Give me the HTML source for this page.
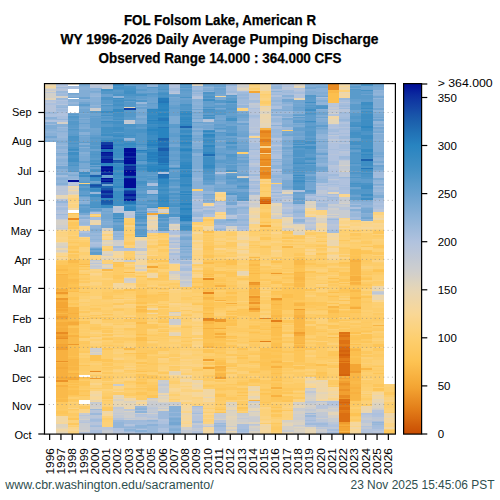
<!DOCTYPE html><html><head><meta charset="utf-8"><style>html,body{margin:0;padding:0;background:#fff;width:500px;height:500px;overflow:hidden}svg{display:block}text{font-family:"Liberation Sans",sans-serif}</style></head><body>
<svg width="500" height="500" viewBox="0 0 500 500">
<rect width="500" height="500" fill="#fff"/>
<g font-weight="bold" font-size="14.5" fill="#000" stroke="#000" stroke-width="0.25" text-anchor="middle">
<text x="220" y="25" textLength="192" lengthAdjust="spacingAndGlyphs">FOL Folsom Lake, American R</text>
<text x="219.5" y="44" textLength="318" lengthAdjust="spacingAndGlyphs">WY 1996-2026 Daily Average Pumping Discharge</text>
<text x="220" y="62.5" textLength="243" lengthAdjust="spacingAndGlyphs">Observed Range 14.000 : 364.000 CFS</text>
</g>
<g shape-rendering="crispEdges">
<path fill="#ce5807" d="M259.52 203h11.59v0.5h-11.59z"/>
<path fill="#d25f0b" d="M338.55 354h11.59v1.5h-11.59z"/>
<path fill="#d4630d" d="M259.52 200.5h11.59v1.5h-11.59zM338.55 350h11.59v2h-11.59zM338.55 374h11.59v2.17h-11.59zM338.55 402.06h11.59v1h-11.59z"/>
<path fill="#d7670e" d="M338.55 347.18h11.59v0.82h-11.59z"/>
<path fill="#d96b10" d="M338.55 348h11.59v2h-11.59zM338.55 352h11.59v2h-11.59zM338.55 355.5h11.59v2h-11.59zM338.55 360.5h11.59v1h-11.59zM338.55 363h11.59v11h-11.59z"/>
<path fill="#db6f12" d="M259.52 202h11.59v1h-11.59zM338.55 399.06h11.59v3h-11.59zM338.55 403.06h11.59v2h-11.59zM338.55 406.56h11.59v3h-11.59zM338.55 412.56h11.59v9.39h-11.59z"/>
<path fill="#dd7214" d="M259.52 199h11.59v1.5h-11.59zM338.55 332.18h11.59v1.5h-11.59zM338.55 334.68h11.59v2h-11.59zM338.55 339.68h11.59v4h-11.59zM338.55 345.68h11.59v1.5h-11.59z"/>
<path fill="#e17a17" d="M338.55 357.5h11.59v3h-11.59zM338.55 405.06h11.59v1.5h-11.59zM338.55 410.56h11.59v2h-11.59z"/>
<path fill="#e37e19" d="M259.52 139.4h11.59v3h-11.59zM259.52 340.63h11.59v1.26h-11.59zM270.81 320.3h11.59v1.8h-11.59zM338.55 333.68h11.59v1h-11.59zM338.55 343.68h11.59v2h-11.59zM338.55 409.56h11.59v1h-11.59z"/>
<path fill="#e4811b" d="M259.52 131.4h11.59v2h-11.59zM259.52 151.53h11.59v1.22h-11.59zM259.52 158.83h11.59v1h-11.59zM259.52 172h11.59v3h-11.59zM327.26 90h11.59v0.16h-11.59zM338.55 336.68h11.59v3h-11.59zM338.55 361.5h11.59v1.5h-11.59z"/>
<path fill="#e6841e" d="M203.06 292.4h11.59v1.8h-11.59zM203.06 317.6h11.59v2h-11.59zM259.52 149.53h11.59v2h-11.59zM259.52 317.96h11.59v1.44h-11.59z"/>
<path fill="#e78820" d="M56.29 338.99h11.59v0.2h-11.59z"/>
<path fill="#e88b22" d="M56.29 331.99h11.59v2h-11.59zM67.58 217.9h11.59v1.8h-11.59zM90.16 370.5h11.59v1.26h-11.59zM203.06 278h11.59v1.8h-11.59zM203.06 319.6h11.59v1h-11.59zM259.52 197.2h11.59v1.8h-11.59zM327.26 84h11.59v6h-11.59zM338.55 395.17h11.59v3h-11.59z"/>
<path fill="#ea8e24" d="M56.29 337.99h11.59v1h-11.59zM259.52 129.9h11.59v1.5h-11.59zM259.52 133.4h11.59v4h-11.59zM259.52 142.4h11.59v1.5h-11.59zM259.52 144.9h11.59v1.56h-11.59zM259.52 147.53h11.59v2h-11.59zM259.52 153.83h11.59v1h-11.59zM259.52 159.83h11.59v1.5h-11.59zM259.52 162.33h11.59v3.92h-11.59zM259.52 167.33h11.59v3h-11.59zM259.52 175h11.59v3h-11.59zM259.52 179h11.59v0.2h-11.59z"/>
<path fill="#eb9227" d="M56.29 360.6h11.59v1.8h-11.59zM56.29 380.4h11.59v1.8h-11.59zM203.06 320.6h11.59v0.6h-11.59zM248.23 281.6h11.59v1.5h-11.59zM338.55 382.67h11.59v2h-11.59zM338.55 389.17h11.59v2h-11.59z"/>
<path fill="#ed9529" d="M248.23 296h11.59v1.8h-11.59zM248.23 302.3h11.59v1.8h-11.59zM248.23 307.7h11.59v1.8h-11.59zM259.52 143.9h11.59v1h-11.59zM259.52 156.83h11.59v2h-11.59zM259.52 161.33h11.59v1h-11.59zM259.52 170.33h11.59v1.67h-11.59z"/>
<path fill="#ee992b" d="M56.29 292.4h11.59v1.8h-11.59zM56.29 297.8h11.59v1.8h-11.59zM56.29 335.99h11.59v2h-11.59zM67.58 343.69h11.59v1.8h-11.59zM90.16 377.7h11.59v1.26h-11.59zM214.35 319.4h11.59v2.7h-11.59zM248.23 283.1h11.59v2.1h-11.59zM259.52 137.4h11.59v2h-11.59zM259.52 154.83h11.59v2h-11.59zM270.81 273.14h11.59v1.26h-11.59zM270.81 298.16h11.59v1.44h-11.59zM338.55 384.67h11.59v1.5h-11.59zM338.55 398.17h11.59v0.89h-11.59z"/>
<path fill="#f09c2d" d="M259.52 178h11.59v1h-11.59zM338.55 421.94h11.59v2h-11.59zM349.84 370.85h11.59v1.5h-11.59z"/>
<path fill="#f19f30" d="M56.29 316.1h11.59v1.5h-11.59zM56.29 346.69h11.59v3.31h-11.59zM203.06 358.8h11.59v1.8h-11.59zM214.35 376.8h11.59v1.8h-11.59zM293.39 308.96h11.59v1.44h-11.59zM293.39 331.99h11.59v2.5h-11.59zM338.55 377.67h11.59v1h-11.59zM338.55 380.67h11.59v2h-11.59zM338.55 386.17h11.59v3h-11.59zM338.55 391.17h11.59v4h-11.59zM338.55 425.94h11.59v1h-11.59zM338.55 431.94h11.59v1.5h-11.59zM349.84 372.35h11.59v0.3h-11.59z"/>
<path fill="#f3a332" d="M56.29 306.6h11.59v1.5h-11.59zM56.29 333.99h11.59v2h-11.59zM56.29 344.19h11.59v1h-11.59z"/>
<path fill="#f4a634" d="M56.29 302.1h11.59v4.5h-11.59zM56.29 309.1h11.59v2h-11.59zM56.29 317.6h11.59v1h-11.59zM56.29 345.19h11.59v1.5h-11.59zM146.61 213.4h11.59v1.8h-11.59zM146.61 266.3h11.59v1.8h-11.59zM203.06 366.9h11.59v1.8h-11.59zM248.23 91.2h11.59v1.8h-11.59zM259.52 225.1h11.59v1.8h-11.59zM338.55 423.94h11.59v1h-11.59zM338.55 426.94h11.59v4h-11.59zM338.55 433.44h11.59v0.56h-11.59zM349.84 363.85h11.59v7h-11.59z"/>
<path fill="#f5a836" d="M56.29 376.9h11.59v2h-11.59zM67.58 376.7h11.59v3h-11.59zM248.23 297.8h11.59v3h-11.59z"/>
<path fill="#f5aa39" d="M56.29 367.4h11.59v1.5h-11.59zM67.58 322.1h11.59v3h-11.59zM67.58 372.8h11.59v0.4h-11.59zM293.39 334.49h11.59v1.1h-11.59zM338.55 378.67h11.59v2h-11.59z"/>
<path fill="#f6ad3b" d="M56.29 289.4h11.59v2h-11.59zM56.29 299.6h11.59v2.5h-11.59zM56.29 308.1h11.59v1h-11.59zM56.29 311.1h11.59v1.5h-11.59zM56.29 313.6h11.59v2.5h-11.59zM56.29 318.6h11.59v1.5h-11.59zM56.29 322.1h11.59v3.5h-11.59zM56.29 327.6h11.59v4.4h-11.59zM56.29 339.19h11.59v5h-11.59zM214.35 328.03h11.59v1.26h-11.59zM214.35 333.43h11.59v1.26h-11.59zM225.65 302.66h11.59v1.26h-11.59zM338.55 424.94h11.59v1h-11.59zM349.84 307.18h11.59v1.41h-11.59z"/>
<path fill="#f7af3e" d="M56.29 363.4h11.59v4h-11.59zM56.29 368.9h11.59v8h-11.59zM56.29 378.9h11.59v1.5h-11.59zM67.58 313.3h11.59v1h-11.59zM338.55 376.17h11.59v1.5h-11.59zM349.84 260h11.59v1.5h-11.59zM349.84 275.5h11.59v5h-11.59z"/>
<path fill="#f8b140" d="M56.29 325.6h11.59v2h-11.59zM56.29 350h11.59v10.6h-11.59zM56.29 385.2h11.59v1.5h-11.59zM67.58 335.1h11.59v2h-11.59zM67.58 373.2h11.59v1h-11.59zM214.35 285.2h11.59v1.8h-11.59zM214.35 299.96h11.59v1.44h-11.59zM214.35 366h11.59v2h-11.59zM248.23 285.2h11.59v2h-11.59zM248.23 289.2h11.59v6h-11.59zM248.23 300.8h11.59v1.5h-11.59zM248.23 305.6h11.59v2.1h-11.59zM248.23 309.5h11.59v2.7h-11.59zM248.23 400.2h11.59v1.08h-11.59zM259.52 128.1h11.59v1.8h-11.59zM270.81 366h11.59v1.8h-11.59zM270.81 387.24h11.59v1.26h-11.59zM270.81 395.16h11.59v1.44h-11.59zM293.39 315.4h11.59v3h-11.59zM293.39 347.09h11.59v0.91h-11.59zM349.84 282h11.59v1.5h-11.59zM349.84 387.15h11.59v2h-11.59zM349.84 392.15h11.59v2h-11.59z"/>
<path fill="#f8b342" d="M56.29 274.4h11.59v1h-11.59zM56.29 291.4h11.59v1h-11.59zM67.58 320.6h11.59v1.5h-11.59zM203.06 328.2h11.59v1h-11.59zM214.35 335.69h11.59v2h-11.59zM270.81 299.6h11.59v1.5h-11.59zM293.39 342.59h11.59v1.5h-11.59z"/>
<path fill="#f9b645" d="M56.29 294.2h11.59v1h-11.59zM56.29 320.1h11.59v2h-11.59zM56.29 362.4h11.59v1h-11.59zM67.58 306.8h11.59v6.5h-11.59zM67.58 314.3h11.59v3.3h-11.59zM67.58 358.8h11.59v7h-11.59zM67.58 366.8h11.59v3h-11.59zM67.58 374.2h11.59v1h-11.59zM67.58 379.7h11.59v0.7h-11.59zM203.06 321.2h11.59v3h-11.59zM214.35 368h11.59v3h-11.59zM214.35 372.5h11.59v4.3h-11.59zM270.81 327.1h11.59v1h-11.59zM293.39 271.5h11.59v1h-11.59zM293.39 276.5h11.59v3h-11.59zM293.39 302.5h11.59v3h-11.59zM327.26 305.77h11.59v1.76h-11.59zM338.55 430.94h11.59v1h-11.59zM349.84 261.5h11.59v13h-11.59zM349.84 283.5h11.59v1.15h-11.59zM349.84 349h11.59v2h-11.59zM349.84 372.65h11.59v8.5h-11.59zM349.84 384.15h11.59v3h-11.59zM349.84 389.15h11.59v3h-11.59zM349.84 394.15h11.59v6h-11.59zM361.13 368.25h11.59v1.76h-11.59zM372.42 324.61h11.59v1.06h-11.59z"/>
<path fill="#fab847" d="M56.29 312.6h11.59v1h-11.59zM67.58 375.2h11.59v1.5h-11.59zM203.06 297.2h11.59v2h-11.59zM203.06 346.2h11.59v1.8h-11.59zM248.23 260h11.59v1h-11.59zM248.23 272.5h11.59v1h-11.59zM248.23 287.2h11.59v2h-11.59zM248.23 295.2h11.59v0.8h-11.59zM270.81 303.6h11.59v1h-11.59zM270.81 314.6h11.59v2h-11.59zM270.81 346.6h11.59v1.4h-11.59zM293.39 310.4h11.59v5h-11.59zM293.39 318.4h11.59v10h-11.59zM293.39 329.4h11.59v2.6h-11.59zM293.39 335.59h11.59v7h-11.59zM293.39 345.09h11.59v2h-11.59zM327.26 91.16h11.59v2h-11.59zM349.84 297.15h11.59v2h-11.59z"/>
<path fill="#faba4a" d="M56.29 268.9h11.59v2h-11.59zM56.29 275.4h11.59v12h-11.59zM56.29 288.4h11.59v1h-11.59zM56.29 386.7h11.59v11.5h-11.59zM56.29 399.2h11.59v2.8h-11.59zM67.58 260h11.59v3h-11.59zM67.58 317.6h11.59v3h-11.59zM67.58 325.1h11.59v1h-11.59zM67.58 327.6h11.59v5.5h-11.59zM67.58 337.1h11.59v6.6h-11.59zM67.58 365.8h11.59v1h-11.59zM67.58 369.8h11.59v1h-11.59zM101.45 269h11.59v1.8h-11.59zM124.03 271.7h11.59v1.26h-11.59zM124.03 348h11.59v1.8h-11.59zM157.9 207.1h11.59v1.8h-11.59zM203.06 312.7h11.59v1.5h-11.59zM248.23 256.59h11.59v1.8h-11.59zM248.23 264h11.59v2h-11.59zM248.23 304.1h11.59v1.5h-11.59zM270.81 361h11.59v2h-11.59zM282.1 246.15h11.59v1.44h-11.59zM293.39 260h11.59v4.5h-11.59zM293.39 272.5h11.59v4h-11.59zM293.39 279.5h11.59v2h-11.59zM293.39 283h11.59v4h-11.59zM327.26 90.16h11.59v1h-11.59zM349.84 259.46h11.59v0.54h-11.59zM349.84 290.15h11.59v2h-11.59zM349.84 381.15h11.59v3h-11.59zM349.84 400.15h11.59v0.67h-11.59z"/>
<path fill="#fbbc4c" d="M67.58 278.5h11.59v3h-11.59zM67.58 287h11.59v2h-11.59zM67.58 290.5h11.59v1.9h-11.59zM67.58 348h11.59v7.5h-11.59zM67.58 357h11.59v1.8h-11.59zM78.87 264h11.59v1h-11.59zM135.32 305.8h11.59v2h-11.59zM135.32 308.8h11.59v3h-11.59zM135.32 321.8h11.59v2h-11.59zM203.06 261.5h11.59v2h-11.59zM203.06 274h11.59v1h-11.59zM203.06 299.2h11.59v1h-11.59zM214.35 346.69h11.59v1.31h-11.59zM248.23 340.7h11.59v1h-11.59zM293.39 328.4h11.59v1h-11.59zM327.26 309.54h11.59v3h-11.59zM349.84 274.5h11.59v1h-11.59zM349.84 306.15h11.59v1.04h-11.59z"/>
<path fill="#fcbf4e" d="M56.29 295.2h11.59v2.6h-11.59zM56.29 382.2h11.59v3h-11.59zM56.29 398.2h11.59v1h-11.59zM67.58 272.5h11.59v2h-11.59zM67.58 281.5h11.59v2h-11.59zM67.58 333.1h11.59v2h-11.59zM67.58 345.49h11.59v2.51h-11.59zM67.58 370.8h11.59v2h-11.59zM67.58 380.4h11.59v3h-11.59zM67.58 384.4h11.59v1h-11.59zM67.58 386.4h11.59v2h-11.59zM67.58 390.4h11.59v4.4h-11.59zM135.32 333.8h11.59v1h-11.59zM135.32 336.8h11.59v4h-11.59zM203.06 276h11.59v1h-11.59zM203.06 289.8h11.59v1.5h-11.59zM203.06 307.2h11.59v2h-11.59zM203.06 324.2h11.59v4h-11.59zM203.06 329.2h11.59v9.5h-11.59zM203.06 343.2h11.59v3h-11.59zM214.35 362h11.59v3h-11.59zM248.23 268h11.59v1h-11.59zM248.23 270h11.59v1h-11.59zM270.81 301.1h11.59v2.5h-11.59zM270.81 304.6h11.59v4h-11.59zM270.81 309.6h11.59v5h-11.59zM270.81 316.6h11.59v3.7h-11.59zM270.81 322.1h11.59v1.5h-11.59zM270.81 325.1h11.59v2h-11.59zM270.81 328.1h11.59v8h-11.59zM270.81 337.6h11.59v2h-11.59zM270.81 343.1h11.59v3.5h-11.59zM270.81 373.3h11.59v1h-11.59zM282.1 293.5h11.59v4h-11.59zM293.39 281.5h11.59v1.5h-11.59zM293.39 301.5h11.59v1h-11.59zM315.97 364.37h11.59v1.23h-11.59zM327.26 93.16h11.59v10h-11.59zM327.26 277.61h11.59v1.76h-11.59zM327.26 291.69h11.59v1.76h-11.59zM327.26 336.94h11.59v1.41h-11.59zM349.84 280.5h11.59v1.5h-11.59zM349.84 348h11.59v1h-11.59zM349.84 351h11.59v5h-11.59zM349.84 358h11.59v5.85h-11.59z"/>
<path fill="#fdc151" d="M56.29 265.4h11.59v3.5h-11.59zM56.29 270.9h11.59v2h-11.59zM56.29 287.4h11.59v1h-11.59zM67.58 355.5h11.59v1.5h-11.59zM78.87 376.8h11.59v2h-11.59zM135.32 294.8h11.59v3h-11.59zM135.32 301.8h11.59v2h-11.59zM135.32 352.5h11.59v1h-11.59zM135.32 370.5h11.59v1h-11.59zM203.06 231.4h11.59v2h-11.59zM214.35 371h11.59v1.5h-11.59zM225.65 260h11.59v5h-11.59zM225.65 292h11.59v2h-11.59zM225.65 311.42h11.59v1h-11.59zM225.65 319.92h11.59v1.5h-11.59zM225.65 322.92h11.59v3h-11.59zM225.65 335.92h11.59v1h-11.59zM248.23 332.2h11.59v1h-11.59zM270.81 261h11.59v1.5h-11.59zM270.81 380.3h11.59v1h-11.59zM293.39 264.5h11.59v3h-11.59zM293.39 344.09h11.59v1h-11.59zM293.39 350h11.59v1h-11.59zM327.26 296.45h11.59v1h-11.59zM349.84 332.32h11.59v2h-11.59zM349.84 344.32h11.59v1h-11.59z"/>
<path fill="#fdc353" d="M67.58 263h11.59v4h-11.59zM67.58 269h11.59v3.5h-11.59zM67.58 274.5h11.59v2h-11.59zM67.58 277.5h11.59v1h-11.59zM67.58 283.5h11.59v3.5h-11.59zM67.58 289h11.59v1.5h-11.59zM78.87 266h11.59v1h-11.59zM90.16 355.2h11.59v5.4h-11.59zM124.03 289.16h11.59v1.44h-11.59zM135.32 381.5h11.59v2h-11.59zM157.9 212.5h11.59v1.26h-11.59zM203.06 279.8h11.59v7h-11.59zM203.06 288.8h11.59v1h-11.59zM203.06 291.3h11.59v1.1h-11.59zM203.06 294.2h11.59v3h-11.59zM203.06 303.2h11.59v3h-11.59zM203.06 309.2h11.59v2h-11.59zM203.06 314.2h11.59v3.4h-11.59zM214.35 322.1h11.59v5.94h-11.59zM214.35 330.79h11.59v2.64h-11.59zM214.35 337.69h11.59v3h-11.59zM214.35 342.69h11.59v3h-11.59zM214.35 360h11.59v2h-11.59zM225.65 316.42h11.59v2h-11.59zM248.23 261h11.59v3h-11.59zM248.23 266h11.59v2h-11.59zM248.23 269h11.59v1h-11.59zM248.23 271h11.59v1.5h-11.59zM248.23 273.5h11.59v8.1h-11.59zM248.23 326.2h11.59v1h-11.59zM259.52 329.4h11.59v1h-11.59zM259.52 348h11.59v3h-11.59zM259.52 352.5h11.59v6.5h-11.59zM259.52 362h11.59v4h-11.59zM259.52 392.6h11.59v1h-11.59zM270.81 291.4h11.59v1h-11.59zM270.81 308.6h11.59v1h-11.59zM270.81 323.6h11.59v1.5h-11.59zM270.81 341.6h11.59v1.5h-11.59zM270.81 349.5h11.59v2h-11.59zM270.81 354.5h11.59v3h-11.59zM270.81 359.5h11.59v1.5h-11.59zM270.81 365h11.59v1h-11.59zM270.81 369.3h11.59v1h-11.59zM293.39 270.5h11.59v1h-11.59zM349.84 249.46h11.59v5.5h-11.59zM349.84 256.46h11.59v3h-11.59zM349.84 284.65h11.59v1h-11.59zM349.84 288.65h11.59v1.5h-11.59zM349.84 292.15h11.59v5h-11.59zM349.84 299.15h11.59v7h-11.59zM349.84 312.09h11.59v0.73h-11.59zM349.84 357h11.59v1h-11.59zM349.84 412.82h11.59v3h-11.59zM372.42 269.8h11.59v2.52h-11.59z"/>
<path fill="#fdc456" d="M67.58 213.4h11.59v1h-11.59zM67.58 297.4h11.59v3h-11.59zM67.58 326.1h11.59v1.5h-11.59zM67.58 388.4h11.59v2h-11.59zM78.87 364.5h11.59v1h-11.59zM78.87 394.8h11.59v1h-11.59zM101.45 389h11.59v0.4h-11.59zM112.74 261.8h11.59v1h-11.59zM135.32 311.8h11.59v1h-11.59zM135.32 317.8h11.59v1h-11.59zM135.32 362h11.59v1.5h-11.59zM157.9 260h11.59v2h-11.59zM157.9 293.5h11.59v1.5h-11.59zM203.06 255.4h11.59v2h-11.59zM203.06 269.5h11.59v4.5h-11.59zM203.06 275h11.59v1h-11.59zM203.06 338.7h11.59v4.5h-11.59zM203.06 349h11.59v4h-11.59zM214.35 394.1h11.59v3h-11.59zM225.65 296h11.59v2h-11.59zM225.65 305.42h11.59v1h-11.59zM225.65 321.42h11.59v1.5h-11.59zM236.94 348h11.59v2h-11.59zM236.94 357h11.59v2h-11.59zM236.94 391.5h11.59v1h-11.59zM236.94 394.5h11.59v1h-11.59zM248.23 328.2h11.59v1h-11.59zM259.52 222h11.59v1h-11.59zM270.81 281.4h11.59v3h-11.59zM270.81 336.1h11.59v1.5h-11.59zM270.81 339.6h11.59v2h-11.59zM270.81 409.5h11.59v2h-11.59zM282.1 273h11.59v2h-11.59zM282.1 283h11.59v3h-11.59zM282.1 361.5h11.59v3h-11.59zM282.1 399.5h11.59v2.5h-11.59zM293.39 267.5h11.59v3h-11.59zM293.39 287h11.59v13h-11.59zM293.39 305.5h11.59v3h-11.59zM293.39 366.4h11.59v3h-11.59zM304.68 288.5h11.59v2h-11.59zM315.97 372.11h11.59v2h-11.59zM327.26 302.95h11.59v1.5h-11.59zM338.55 261.5h11.59v2h-11.59zM338.55 282.5h11.59v1h-11.59zM338.55 288.5h11.59v2h-11.59zM338.55 299.5h11.59v1.5h-11.59zM338.55 304h11.59v1.5h-11.59zM338.55 315.5h11.59v1.5h-11.59zM349.84 337.32h11.59v3h-11.59zM349.84 356h11.59v1h-11.59zM361.13 278h11.59v1.5h-11.59zM361.13 330.86h11.59v1h-11.59zM361.13 334.36h11.59v5h-11.59z"/>
<path fill="#fdc558" d="M56.29 272.9h11.59v1.5h-11.59zM67.58 251h11.59v2h-11.59zM67.58 267h11.59v2h-11.59zM67.58 276.5h11.59v1h-11.59zM67.58 303.4h11.59v1.5h-11.59zM67.58 383.4h11.59v1h-11.59zM67.58 385.4h11.59v1h-11.59zM67.58 417.7h11.59v2.3h-11.59zM78.87 273.7h11.59v1h-11.59zM78.87 292.2h11.59v1h-11.59zM78.87 382.8h11.59v2h-11.59zM101.45 318.8h11.59v1h-11.59zM101.45 337.8h11.59v2h-11.59zM101.45 358.5h11.59v3h-11.59zM112.74 263.8h11.59v3h-11.59zM124.03 353.3h11.59v1h-11.59zM135.32 355h11.59v2h-11.59zM135.32 373.5h11.59v1.5h-11.59zM135.32 391.5h11.59v3h-11.59zM146.61 279h11.59v1h-11.59zM146.61 309.5h11.59v2h-11.59zM146.61 375.5h11.59v3h-11.59zM146.61 387.5h11.59v3h-11.59zM146.61 394.5h11.59v2h-11.59zM157.9 291.5h11.59v1h-11.59zM157.9 320.5h11.59v2h-11.59zM191.77 282h11.59v1h-11.59zM191.77 286h11.59v2h-11.59zM203.06 246.4h11.59v1h-11.59zM203.06 257.4h11.59v1h-11.59zM203.06 301.7h11.59v1.5h-11.59zM214.35 261h11.59v2h-11.59zM214.35 271h11.59v3h-11.59zM214.35 282.5h11.59v2h-11.59zM214.35 404.1h11.59v1h-11.59zM214.35 408.6h11.59v1h-11.59zM214.35 411.6h11.59v1h-11.59zM225.65 272h11.59v1.5h-11.59zM225.65 313.42h11.59v2h-11.59zM236.94 309.2h11.59v1h-11.59zM236.94 355h11.59v1h-11.59zM236.94 406.5h11.59v2h-11.59zM248.23 327.2h11.59v1h-11.59zM248.23 360.5h11.59v2h-11.59zM248.23 378.5h11.59v3h-11.59zM259.52 351h11.59v1.5h-11.59zM259.52 359h11.59v3h-11.59zM259.52 366h11.59v3.6h-11.59zM259.52 393.6h11.59v1h-11.59zM259.52 401.6h11.59v1h-11.59zM270.81 292.4h11.59v3h-11.59zM270.81 348h11.59v1.5h-11.59zM270.81 367.8h11.59v1.5h-11.59zM270.81 370.3h11.59v3h-11.59zM270.81 374.3h11.59v2h-11.59zM270.81 378.3h11.59v2h-11.59zM270.81 383.3h11.59v3h-11.59zM270.81 389.5h11.59v5.66h-11.59zM270.81 396.6h11.59v3h-11.59zM270.81 401.6h11.59v0.4h-11.59zM270.81 406.5h11.59v1h-11.59zM282.1 237.4h11.59v2h-11.59zM282.1 287h11.59v6.5h-11.59zM282.1 297.5h11.59v12.9h-11.59zM282.1 320.4h11.59v3h-11.59zM282.1 391.5h11.59v2h-11.59zM293.39 257.49h11.59v2.51h-11.59zM293.39 348h11.59v2h-11.59zM293.39 351h11.59v11.4h-11.59zM304.68 263h11.59v2h-11.59zM304.68 270.5h11.59v2h-11.59zM304.68 301.5h11.59v3h-11.59zM304.68 348h11.59v2h-11.59zM315.97 287.18h11.59v1h-11.59zM327.26 103.16h11.59v0.2h-11.59zM327.26 281.37h11.59v1.5h-11.59zM327.26 307.54h11.59v2h-11.59zM327.26 312.54h11.59v5.56h-11.59zM327.26 325.1h11.59v1.5h-11.59zM327.26 354h11.59v2h-11.59zM338.55 271.5h11.59v2h-11.59zM338.55 278.5h11.59v3h-11.59zM349.84 254.96h11.59v1.5h-11.59zM349.84 311.09h11.59v1h-11.59zM361.13 250.6h11.59v3h-11.59zM361.13 296.17h11.59v2h-11.59zM372.42 343.67h11.59v3h-11.59zM372.42 372.5h11.59v1.5h-11.59zM372.42 388h11.59v2h-11.59z"/>
<path fill="#fdc65a" d="M56.29 411h11.59v3h-11.59zM67.58 394.8h11.59v1h-11.59zM78.87 321.2h11.59v3h-11.59zM78.87 336.2h11.59v2h-11.59zM78.87 380.8h11.59v2h-11.59zM78.87 384.8h11.59v1h-11.59zM78.87 389.8h11.59v2h-11.59zM101.45 348h11.59v2h-11.59zM101.45 378h11.59v1h-11.59zM135.32 276.2h11.59v1h-11.59zM135.32 357h11.59v2h-11.59zM135.32 375h11.59v2h-11.59zM135.32 378.5h11.59v1h-11.59zM135.32 387.5h11.59v1h-11.59zM146.61 278h11.59v1h-11.59zM146.61 295h11.59v1.5h-11.59zM146.61 325.5h11.59v2h-11.59zM146.61 396.5h11.59v1h-11.59zM157.9 243.7h11.59v2h-11.59zM157.9 287.5h11.59v1h-11.59zM157.9 306h11.59v1.5h-11.59zM157.9 316h11.59v1.5h-11.59zM157.9 330.5h11.59v1h-11.59zM191.77 304h11.59v1h-11.59zM203.06 247.4h11.59v2.5h-11.59zM203.06 286.8h11.59v2h-11.59zM203.06 300.2h11.59v1.5h-11.59zM203.06 306.2h11.59v1h-11.59zM214.35 278.5h11.59v3h-11.59zM214.35 288h11.59v1.5h-11.59zM214.35 296.5h11.59v2h-11.59zM214.35 302.4h11.59v4h-11.59zM214.35 334.69h11.59v1h-11.59zM214.35 340.69h11.59v2h-11.59zM214.35 345.69h11.59v1h-11.59zM225.65 273.5h11.59v3h-11.59zM225.65 298h11.59v3h-11.59zM225.65 318.42h11.59v1.5h-11.59zM225.65 336.92h11.59v2h-11.59zM225.65 339.92h11.59v2h-11.59zM225.65 344.92h11.59v3h-11.59zM225.65 365h11.59v2h-11.59zM236.94 310.2h11.59v4h-11.59zM236.94 382h11.59v3h-11.59zM236.94 404h11.59v1h-11.59zM248.23 370.5h11.59v2h-11.59zM259.52 237.4h11.59v3h-11.59zM259.52 246.4h11.59v2h-11.59zM259.52 271.5h11.59v2h-11.59zM259.52 347.89h11.59v0.11h-11.59zM259.52 389.1h11.59v1.5h-11.59zM270.81 271.5h11.59v1h-11.59zM270.81 351.5h11.59v3h-11.59zM270.81 357.5h11.59v2h-11.59zM270.81 363h11.59v2h-11.59zM282.1 277h11.59v2h-11.59zM282.1 331.9h11.59v2h-11.59zM282.1 351h11.59v1.5h-11.59zM282.1 364.5h11.59v3h-11.59zM282.1 395.5h11.59v2h-11.59zM293.39 308.5h11.59v0.46h-11.59zM315.97 253.36h11.59v2h-11.59zM315.97 272.5h11.59v1.5h-11.59zM315.97 301.68h11.59v4h-11.59zM315.97 308.68h11.59v1h-11.59zM315.97 315.18h11.59v1h-11.59zM315.97 330.68h11.59v1h-11.59zM315.97 374.11h11.59v1.5h-11.59zM327.26 270.5h11.59v1h-11.59zM327.26 319.1h11.59v3h-11.59zM327.26 332.6h11.59v2h-11.59zM327.26 351h11.59v3h-11.59zM338.55 273.5h11.59v2h-11.59zM338.55 290.5h11.59v2h-11.59zM338.55 307.5h11.59v1h-11.59zM338.55 310.5h11.59v2h-11.59zM338.55 319.5h11.59v1h-11.59zM349.84 309.59h11.59v1.5h-11.59zM349.84 318.32h11.59v2h-11.59zM349.84 335.32h11.59v2h-11.59zM361.13 245.6h11.59v1h-11.59zM361.13 341.36h11.59v2h-11.59zM372.42 268.8h11.59v1h-11.59zM372.42 390h11.59v1h-11.59z"/>
<path fill="#fdc75d" d="M56.29 261h11.59v4.4h-11.59zM67.58 221.7h11.59v4.3h-11.59zM67.58 227h11.59v2h-11.59zM67.58 246h11.59v1h-11.59zM67.58 255h11.59v1h-11.59zM78.87 260h11.59v4h-11.59zM78.87 318.2h11.59v1h-11.59zM78.87 342.7h11.59v1.5h-11.59zM101.45 295.8h11.59v1h-11.59zM101.45 313.8h11.59v1h-11.59zM101.45 334.3h11.59v1.5h-11.59zM101.45 366.5h11.59v1h-11.59zM101.45 384h11.59v1h-11.59zM112.74 274.8h11.59v4h-11.59zM112.74 282.8h11.59v0.6h-11.59zM135.32 288.7h11.59v6.1h-11.59zM135.32 297.8h11.59v4h-11.59zM135.32 307.8h11.59v1h-11.59zM135.32 318.8h11.59v3h-11.59zM135.32 323.8h11.59v10h-11.59zM135.32 334.8h11.59v1h-11.59zM135.32 340.8h11.59v6h-11.59zM135.32 353.5h11.59v1.5h-11.59zM146.61 296.5h11.59v3h-11.59zM146.61 323.5h11.59v2h-11.59zM146.61 339.5h11.59v1.5h-11.59zM146.61 374.5h11.59v1h-11.59zM157.9 275h11.59v1.5h-11.59zM157.9 295h11.59v1h-11.59zM157.9 300h11.59v1h-11.59zM191.77 278h11.59v1h-11.59zM203.06 260h11.59v1.5h-11.59zM203.06 267.5h11.59v2h-11.59zM203.06 311.2h11.59v1.5h-11.59zM214.35 266h11.59v1h-11.59zM214.35 306.4h11.59v2h-11.59zM214.35 329.29h11.59v1.5h-11.59zM214.35 348h11.59v2h-11.59zM214.35 352h11.59v2h-11.59zM214.35 358h11.59v2h-11.59zM214.35 388.1h11.59v2h-11.59zM225.65 285h11.59v2h-11.59zM225.65 354h11.59v2h-11.59zM236.94 278.2h11.59v1.5h-11.59zM236.94 314.2h11.59v2h-11.59zM236.94 387.5h11.59v2h-11.59zM248.23 312.2h11.59v5h-11.59zM248.23 319.2h11.59v2h-11.59zM248.23 325.2h11.59v1h-11.59zM248.23 331.2h11.59v1h-11.59zM248.23 333.2h11.59v1h-11.59zM248.23 339.2h11.59v1.5h-11.59zM248.23 353h11.59v1.5h-11.59zM259.52 215h11.59v3h-11.59zM259.52 278.5h11.59v2h-11.59zM259.52 319.4h11.59v3h-11.59zM259.52 323.4h11.59v3h-11.59zM259.52 327.4h11.59v2h-11.59zM259.52 333.4h11.59v2h-11.59zM259.52 339.4h11.59v1.24h-11.59zM270.81 376.3h11.59v2h-11.59zM270.81 386.3h11.59v0.94h-11.59zM270.81 399.6h11.59v2h-11.59zM270.81 413.5h11.59v3h-11.59zM282.1 340.9h11.59v2h-11.59zM282.1 387.5h11.59v3h-11.59zM282.1 397.5h11.59v2h-11.59zM293.39 236.49h11.59v1h-11.59zM293.39 254.49h11.59v2h-11.59zM293.39 364.4h11.59v1h-11.59zM304.68 260h11.59v1h-11.59zM304.68 305.5h11.59v2h-11.59zM304.68 316.5h11.59v1h-11.59zM304.68 326.5h11.59v5h-11.59zM304.68 338.5h11.59v1.5h-11.59zM304.68 362.5h11.59v3h-11.59zM315.97 357h11.59v1h-11.59zM315.97 376.61h11.59v1h-11.59zM327.26 326.6h11.59v2h-11.59zM327.26 365h11.59v3h-11.59zM338.55 286.5h11.59v2h-11.59zM349.84 233.1h11.59v3h-11.59zM349.84 285.65h11.59v3h-11.59zM349.84 340.32h11.59v3h-11.59zM349.84 402.82h11.59v1.5h-11.59zM361.13 249.6h11.59v1h-11.59zM361.13 273.5h11.59v1.5h-11.59zM361.13 284h11.59v2h-11.59zM361.13 326.86h11.59v1h-11.59zM372.42 231.1h11.59v3h-11.59zM372.42 244.6h11.59v3h-11.59zM372.42 349.5h11.59v1h-11.59zM372.42 384h11.59v3h-11.59z"/>
<path fill="#fdc85f" d="M67.58 242h11.59v1h-11.59zM67.58 247h11.59v2h-11.59zM67.58 399.3h11.59v2h-11.59zM67.58 422.99h11.59v2h-11.59zM78.87 269.2h11.59v1h-11.59zM78.87 311.2h11.59v2h-11.59zM78.87 341.2h11.59v1.5h-11.59zM78.87 351h11.59v2h-11.59zM90.16 308h11.59v2h-11.59zM90.16 314.5h11.59v1h-11.59zM90.16 317h11.59v2h-11.59zM90.16 327h11.59v3h-11.59zM101.45 296.8h11.59v2h-11.59zM101.45 316.8h11.59v1h-11.59zM101.45 327.8h11.59v1h-11.59zM101.45 330.3h11.59v3h-11.59zM101.45 344.8h11.59v1h-11.59zM101.45 362.5h11.59v3h-11.59zM101.45 371.5h11.59v2h-11.59zM101.45 397.4h11.59v2h-11.59zM112.74 262.8h11.59v1h-11.59zM112.74 290.3h11.59v3h-11.59zM112.74 298.3h11.59v1h-11.59zM112.74 303.3h11.59v1.5h-11.59zM112.74 308.8h11.59v1h-11.59zM124.03 317.1h11.59v1h-11.59zM124.03 319.1h11.59v3h-11.59zM124.03 327.6h11.59v2h-11.59zM146.61 260h11.59v3h-11.59zM146.61 299.5h11.59v3h-11.59zM146.61 334.5h11.59v1h-11.59zM146.61 350h11.59v3.5h-11.59zM146.61 363h11.59v1.5h-11.59zM146.61 369.5h11.59v2h-11.59zM146.61 384.5h11.59v3h-11.59zM157.9 264.5h11.59v1.5h-11.59zM157.9 267h11.59v2h-11.59zM157.9 296h11.59v4h-11.59zM157.9 319h11.59v1.5h-11.59zM157.9 348h11.59v3h-11.59zM157.9 357h11.59v1h-11.59zM157.9 372h11.59v1.5h-11.59zM180.48 327h11.59v1h-11.59zM180.48 337h11.59v1h-11.59zM180.48 341h11.59v1h-11.59zM191.77 281h11.59v1h-11.59zM191.77 302.5h11.59v1.5h-11.59zM203.06 218.5h11.59v2h-11.59zM203.06 361.6h11.59v3h-11.59zM203.06 385.2h11.59v1.5h-11.59zM214.35 277h11.59v1.5h-11.59zM214.35 298.5h11.59v1.46h-11.59zM214.35 380.1h11.59v2h-11.59zM225.65 363h11.59v2h-11.59zM225.65 384h11.59v1h-11.59zM225.65 396.5h11.59v3h-11.59zM236.94 330.7h11.59v1h-11.59zM248.23 245.4h11.59v1h-11.59zM248.23 381.5h11.59v1h-11.59zM259.52 213h11.59v2h-11.59zM259.52 224.5h11.59v0.6h-11.59zM270.81 422.5h11.59v1h-11.59zM270.81 426.5h11.59v0.7h-11.59zM282.1 231.4h11.59v3h-11.59zM282.1 267.5h11.59v1.5h-11.59zM282.1 410h11.59v1h-11.59zM293.39 237.49h11.59v2h-11.59zM293.39 253.49h11.59v1h-11.59zM293.39 300h11.59v1.5h-11.59zM293.39 362.4h11.59v2h-11.59zM293.39 387.6h11.59v2h-11.59zM304.68 304.5h11.59v1h-11.59zM304.68 320.5h11.59v3h-11.59zM304.68 325.5h11.59v1h-11.59zM304.68 331.5h11.59v3h-11.59zM304.68 375h11.59v1h-11.59zM315.97 240.86h11.59v1h-11.59zM315.97 245.36h11.59v2h-11.59zM315.97 264h11.59v3h-11.59zM315.97 293.18h11.59v1h-11.59zM315.97 342.18h11.59v3h-11.59zM315.97 375.61h11.59v1h-11.59zM338.55 239.6h11.59v1.5h-11.59zM338.55 263.5h11.59v2h-11.59zM338.55 285.5h11.59v1h-11.59zM338.55 305.5h11.59v2h-11.59zM338.55 312.5h11.59v3h-11.59zM338.55 326h11.59v2h-11.59zM338.55 329h11.59v3h-11.59zM349.84 238.1h11.59v1h-11.59zM349.84 308.59h11.59v1h-11.59zM361.13 277h11.59v1h-11.59zM361.13 329.86h11.59v1h-11.59zM361.13 351h11.59v3h-11.59zM361.13 355h11.59v2h-11.59zM372.42 251.6h11.59v3h-11.59zM372.42 329.67h11.59v1h-11.59zM372.42 348h11.59v1.5h-11.59zM372.42 365.5h11.59v1h-11.59zM383.71 412.59h11.59v0.55h-11.59zM383.71 429.99h11.59v3h-11.59z"/>
<path fill="#fdc962" d="M56.29 402h11.59v7h-11.59zM56.29 410h11.59v1h-11.59zM56.29 414h11.59v2.4h-11.59zM67.58 254h11.59v1h-11.59zM67.58 256h11.59v1.5h-11.59zM67.58 258.5h11.59v1.5h-11.59zM67.58 292.4h11.59v5h-11.59zM67.58 300.4h11.59v2h-11.59zM67.58 304.9h11.59v1.9h-11.59zM67.58 395.8h11.59v1.5h-11.59zM67.58 409.2h11.59v1h-11.59zM78.87 277.7h11.59v2h-11.59zM78.87 281.2h11.59v1.5h-11.59zM78.87 285.7h11.59v3h-11.59zM78.87 315.7h11.59v1h-11.59zM78.87 345.7h11.59v2h-11.59zM78.87 378.8h11.59v1h-11.59zM78.87 391.8h11.59v3h-11.59zM90.16 374.76h11.59v1h-11.59zM101.45 376h11.59v2h-11.59zM101.45 407.4h11.59v3.6h-11.59zM124.03 223.08h11.59v1.5h-11.59zM124.03 337.6h11.59v2h-11.59zM124.03 369.5h11.59v1h-11.59zM135.32 283.7h11.59v1h-11.59zM135.32 312.8h11.59v3h-11.59zM135.32 348h11.59v4.5h-11.59zM135.32 364.5h11.59v2.5h-11.59zM135.32 369h11.59v1.5h-11.59zM135.32 377h11.59v1.5h-11.59zM135.32 379.5h11.59v2h-11.59zM135.32 383.5h11.59v1h-11.59zM135.32 385.5h11.59v1h-11.59zM135.32 388.5h11.59v1h-11.59zM135.32 399.5h11.59v0.7h-11.59zM146.61 270.1h11.59v2h-11.59zM146.61 287h11.59v2h-11.59zM146.61 294h11.59v1h-11.59zM146.61 304.5h11.59v1.5h-11.59zM146.61 307.5h11.59v0.74h-11.59zM146.61 327.5h11.59v1.5h-11.59zM157.9 239.7h11.59v3h-11.59zM157.9 276.5h11.59v3h-11.59zM157.9 288.5h11.59v1h-11.59zM157.9 326h11.59v1.5h-11.59zM180.48 314.5h11.59v1.5h-11.59zM180.48 326h11.59v1h-11.59zM203.06 234.9h11.59v1.5h-11.59zM203.06 240.4h11.59v1h-11.59zM203.06 242.4h11.59v4h-11.59zM203.06 249.9h11.59v3h-11.59zM203.06 254.4h11.59v1h-11.59zM203.06 266.5h11.59v1h-11.59zM203.06 374.7h11.59v2h-11.59zM214.35 263h11.59v3h-11.59zM214.35 365h11.59v1h-11.59zM225.65 265h11.59v1h-11.59zM225.65 281h11.59v1h-11.59zM225.65 288.5h11.59v3.5h-11.59zM225.65 294h11.59v1h-11.59zM225.65 301h11.59v1h-11.59zM225.65 303.92h11.59v1.5h-11.59zM225.65 326.92h11.59v4h-11.59zM225.65 347.92h11.59v0.08h-11.59zM225.65 387h11.59v3h-11.59zM236.94 342.2h11.59v1h-11.59zM236.94 363h11.59v1h-11.59zM248.23 338.2h11.59v1h-11.59zM248.23 343.7h11.59v2h-11.59zM248.23 384.5h11.59v1h-11.59zM259.52 228.9h11.59v2h-11.59zM259.52 266h11.59v2h-11.59zM259.52 269.5h11.59v2h-11.59zM259.52 285.5h11.59v1.5h-11.59zM259.52 326.4h11.59v1h-11.59zM259.52 369.6h11.59v1.5h-11.59zM259.52 377.1h11.59v1h-11.59zM259.52 380.1h11.59v3.5h-11.59zM259.52 394.6h11.59v7h-11.59zM259.52 403.6h11.59v1h-11.59zM270.81 260h11.59v1h-11.59zM270.81 268.5h11.59v3h-11.59zM270.81 274.4h11.59v2h-11.59zM270.81 287.4h11.59v2h-11.59zM270.81 295.4h11.59v2.76h-11.59zM270.81 381.3h11.59v2h-11.59zM270.81 427.19h11.59v3h-11.59zM282.1 240.4h11.59v1.5h-11.59zM282.1 314.4h11.59v3h-11.59zM282.1 324.4h11.59v1h-11.59zM293.39 393.1h11.59v1h-11.59zM293.39 397.1h11.59v1.5h-11.59zM315.97 258.36h11.59v1.64h-11.59zM315.97 282.5h11.59v1h-11.59zM315.97 294.18h11.59v1.5h-11.59zM315.97 323.68h11.59v2h-11.59zM315.97 335.68h11.59v5h-11.59zM315.97 345.18h11.59v2.82h-11.59zM327.26 283.87h11.59v2h-11.59zM327.26 289.87h11.59v1.82h-11.59zM327.26 295.45h11.59v1h-11.59zM327.26 297.45h11.59v4h-11.59zM327.26 356h11.59v3h-11.59zM327.26 382.5h11.59v2h-11.59zM338.55 248.1h11.59v1h-11.59zM349.84 230.1h11.59v2h-11.59zM349.84 312.82h11.59v5.5h-11.59zM349.84 323.32h11.59v2h-11.59zM349.84 328.32h11.59v4h-11.59zM349.84 345.32h11.59v2.68h-11.59zM361.13 260h11.59v1.5h-11.59zM361.13 270.5h11.59v3h-11.59zM361.13 321.86h11.59v1h-11.59zM372.42 328.67h11.59v1h-11.59zM383.71 392.09h11.59v3h-11.59z"/>
<path fill="#fdca64" d="M67.58 226h11.59v1h-11.59zM67.58 401.3h11.59v0.7h-11.59zM67.58 412.7h11.59v3h-11.59zM78.87 258.79h11.59v1.21h-11.59zM78.87 344.2h11.59v1.5h-11.59zM90.16 336h11.59v1h-11.59zM90.16 370.1h11.59v0.4h-11.59zM101.45 292.3h11.59v3.5h-11.59zM101.45 367.5h11.59v2h-11.59zM101.45 379h11.59v2h-11.59zM112.74 309.8h11.59v1h-11.59zM112.74 338.8h11.59v1h-11.59zM112.74 341.3h11.59v2h-11.59zM124.03 242.08h11.59v2h-11.59zM124.03 387.5h11.59v2h-11.59zM124.03 392.5h11.59v3.5h-11.59zM135.32 284.7h11.59v2h-11.59zM135.32 287.7h11.59v1h-11.59zM135.32 315.8h11.59v2h-11.59zM135.32 346.8h11.59v1.2h-11.59zM146.61 344h11.59v1.5h-11.59zM157.9 233.2h11.59v2h-11.59zM157.9 248.7h11.59v3h-11.59zM157.9 377h11.59v2.5h-11.59zM180.48 309.5h11.59v1h-11.59zM180.48 343.5h11.59v2h-11.59zM191.77 279h11.59v2h-11.59zM191.77 295.5h11.59v1h-11.59zM203.06 377.7h11.59v3h-11.59zM214.35 350h11.59v2h-11.59zM225.65 241.9h11.59v5h-11.59zM225.65 258.9h11.59v1.1h-11.59zM225.65 368h11.59v1h-11.59zM225.65 372h11.59v1.5h-11.59zM236.94 290.7h11.59v1h-11.59zM236.94 304.2h11.59v2h-11.59zM236.94 327.7h11.59v3h-11.59zM236.94 336.7h11.59v1.5h-11.59zM248.23 231.4h11.59v1h-11.59zM248.23 317.2h11.59v2h-11.59zM248.23 323.2h11.59v1h-11.59zM248.23 334.2h11.59v4h-11.59zM248.23 351h11.59v2h-11.59zM248.23 367.5h11.59v3h-11.59zM259.52 191h11.59v1h-11.59zM259.52 233.9h11.59v1.5h-11.59zM259.52 283.5h11.59v1h-11.59zM259.52 300h11.59v4h-11.59zM259.52 309h11.59v1h-11.59zM259.52 331.4h11.59v2h-11.59zM259.52 336.4h11.59v2h-11.59zM270.81 388.5h11.59v1h-11.59zM282.1 243.9h11.59v1h-11.59zM282.1 336.9h11.59v2h-11.59zM304.68 365.5h11.59v3h-11.59zM315.97 248.36h11.59v2h-11.59zM315.97 305.68h11.59v3h-11.59zM315.97 316.18h11.59v1.5h-11.59zM315.97 328.68h11.59v2h-11.59zM327.26 263h11.59v1.5h-11.59zM327.26 267.5h11.59v3h-11.59zM327.26 360.5h11.59v1.5h-11.59zM327.26 379.5h11.59v3h-11.59zM327.26 386h11.59v0.73h-11.59zM349.84 400.82h11.59v2h-11.59zM349.84 404.32h11.59v3h-11.59zM349.84 408.82h11.59v4h-11.59zM349.84 415.82h11.59v1h-11.59zM349.84 418.82h11.59v2h-11.59zM361.13 240.6h11.59v3h-11.59zM361.13 301.17h11.59v2h-11.59zM361.13 365.5h11.59v2h-11.59zM361.13 382.51h11.59v1h-11.59zM372.42 235.1h11.59v2h-11.59zM372.42 255.6h11.59v1.5h-11.59zM372.42 313.25h11.59v2h-11.59zM372.42 317.25h11.59v3.5h-11.59zM372.42 327.67h11.59v1h-11.59zM372.42 336.17h11.59v1.5h-11.59zM372.42 353.5h11.59v3h-11.59zM372.42 369.5h11.59v1h-11.59z"/>
<path fill="#fdcb66" d="M56.29 409h11.59v1h-11.59zM67.58 302.4h11.59v1h-11.59zM67.58 426.99h11.59v0.2h-11.59zM78.87 241.79h11.59v5h-11.59zM78.87 348h11.59v3h-11.59zM78.87 358h11.59v5h-11.59zM78.87 365.5h11.59v5h-11.59zM78.87 385.8h11.59v3h-11.59zM78.87 405.8h11.59v3h-11.59zM90.16 216.26h11.59v0.56h-11.59zM90.16 305h11.59v1h-11.59zM90.16 324h11.59v3h-11.59zM90.16 387.96h11.59v1h-11.59zM101.45 388h11.59v1h-11.59zM101.45 396.4h11.59v1h-11.59zM101.45 400.4h11.59v1h-11.59zM112.74 266.8h11.59v8h-11.59zM112.74 278.8h11.59v4h-11.59zM112.74 293.3h11.59v2h-11.59zM112.74 324.3h11.59v1h-11.59zM112.74 336.8h11.59v2h-11.59zM112.74 348h11.59v1h-11.59zM112.74 359.5h11.59v3h-11.59zM112.74 365.5h11.59v3h-11.59zM124.03 234.08h11.59v1.5h-11.59zM124.03 244.08h11.59v1h-11.59zM124.03 266.8h11.59v2h-11.59zM124.03 302.1h11.59v1.5h-11.59zM124.03 339.6h11.59v1h-11.59zM124.03 381h11.59v1.5h-11.59zM135.32 335.8h11.59v1h-11.59zM135.32 384.5h11.59v1h-11.59zM135.32 394.5h11.59v1h-11.59zM135.32 397.5h11.59v2h-11.59zM146.61 234.7h11.59v1h-11.59zM146.61 246.2h11.59v2h-11.59zM146.61 258.2h11.59v1h-11.59zM146.61 348h11.59v2h-11.59zM146.61 355.5h11.59v7.5h-11.59zM146.61 364.5h11.59v5h-11.59zM146.61 381.5h11.59v3h-11.59zM146.61 390.5h11.59v4h-11.59zM146.61 397.5h11.59v0.9h-11.59zM157.9 263.5h11.59v1h-11.59zM157.9 266h11.59v1h-11.59zM157.9 272h11.59v3h-11.59zM157.9 279.5h11.59v1.5h-11.59zM157.9 284h11.59v1.5h-11.59zM157.9 292.5h11.59v1h-11.59zM157.9 304h11.59v1h-11.59zM157.9 308.5h11.59v6h-11.59zM157.9 328.5h11.59v2h-11.59zM157.9 333h11.59v4h-11.59zM157.9 338h11.59v1h-11.59zM157.9 347h11.59v1h-11.59zM169.19 282.8h11.59v2h-11.59zM169.19 353.5h11.59v3h-11.59zM169.19 366h11.59v2h-11.59zM180.48 287h11.59v3h-11.59zM180.48 297h11.59v3h-11.59zM191.77 264.6h11.59v1.5h-11.59zM191.77 368.5h11.59v2h-11.59zM203.06 237.4h11.59v2h-11.59zM203.06 252.9h11.59v1.5h-11.59zM203.06 259.9h11.59v0.1h-11.59zM203.06 263.5h11.59v2h-11.59zM203.06 356h11.59v2.8h-11.59zM203.06 365.6h11.59v1h-11.59zM214.35 254.9h11.59v2h-11.59zM214.35 258.9h11.59v2.1h-11.59zM214.35 281.5h11.59v1h-11.59zM214.35 284.5h11.59v0.7h-11.59zM214.35 287h11.59v1h-11.59zM214.35 291.5h11.59v5h-11.59zM214.35 308.4h11.59v2h-11.59zM214.35 316.4h11.59v3h-11.59zM214.35 354h11.59v2h-11.59zM214.35 384.1h11.59v4h-11.59zM214.35 390.1h11.59v1h-11.59zM214.35 393.1h11.59v1h-11.59zM214.35 397.1h11.59v4h-11.59zM214.35 407.1h11.59v1.5h-11.59zM214.35 412.6h11.59v0.2h-11.59zM225.65 266h11.59v3h-11.59zM225.65 270h11.59v2h-11.59zM225.65 276.5h11.59v3h-11.59zM225.65 282h11.59v3h-11.59zM225.65 287h11.59v1.5h-11.59zM225.65 295h11.59v1h-11.59zM225.65 310.42h11.59v1h-11.59zM225.65 312.42h11.59v1h-11.59zM225.65 330.92h11.59v2h-11.59zM236.94 350h11.59v5h-11.59zM236.94 356h11.59v1h-11.59zM236.94 359h11.59v4h-11.59zM236.94 367h11.59v4h-11.59zM236.94 374h11.59v5h-11.59zM236.94 380h11.59v2h-11.59zM236.94 385h11.59v1h-11.59zM236.94 389.5h11.59v2h-11.59zM236.94 392.5h11.59v1h-11.59zM236.94 396.5h11.59v3h-11.59zM236.94 401h11.59v3h-11.59zM236.94 408.5h11.59v2h-11.59zM248.23 247.4h11.59v1h-11.59zM248.23 329.2h11.59v2h-11.59zM248.23 341.7h11.59v2h-11.59zM248.23 345.7h11.59v2.3h-11.59zM259.52 183.5h11.59v1.5h-11.59zM259.52 203.5h11.59v5h-11.59zM259.52 211.5h11.59v1.5h-11.59zM259.52 221h11.59v1h-11.59zM259.52 338.4h11.59v1h-11.59zM259.52 374.1h11.59v3h-11.59zM259.52 390.6h11.59v2h-11.59zM259.52 402.6h11.59v1h-11.59zM270.81 257h11.59v2h-11.59zM270.81 262.5h11.59v2h-11.59zM270.81 279.4h11.59v2h-11.59zM270.81 404h11.59v2.5h-11.59zM270.81 411.5h11.59v1h-11.59zM270.81 425.5h11.59v1h-11.59zM282.1 260h11.59v7.5h-11.59zM282.1 270h11.59v2h-11.59zM282.1 275h11.59v2h-11.59zM282.1 279h11.59v3h-11.59zM282.1 286h11.59v1h-11.59zM282.1 348h11.59v3h-11.59zM282.1 354.5h11.59v6h-11.59zM282.1 368.5h11.59v2.5h-11.59zM282.1 372h11.59v1.5h-11.59zM282.1 376.5h11.59v2h-11.59zM282.1 380.5h11.59v1h-11.59zM282.1 383.5h11.59v4h-11.59zM282.1 390.5h11.59v1h-11.59zM293.39 234.99h11.59v1.5h-11.59zM293.39 241.49h11.59v1h-11.59zM293.39 243.99h11.59v1.5h-11.59zM293.39 248.49h11.59v1h-11.59zM293.39 369.4h11.59v1h-11.59zM293.39 372.4h11.59v4h-11.59zM293.39 382.9h11.59v4.7h-11.59zM304.68 233.1h11.59v2h-11.59zM304.68 245.6h11.59v1h-11.59zM304.68 261h11.59v2h-11.59zM304.68 265h11.59v2h-11.59zM304.68 272.5h11.59v4h-11.59zM304.68 278h11.59v1.5h-11.59zM304.68 291.5h11.59v1h-11.59zM304.68 296.5h11.59v5h-11.59zM304.68 307.5h11.59v3h-11.59zM304.68 313.5h11.59v3h-11.59zM304.68 317.5h11.59v1h-11.59zM304.68 337.5h11.59v1h-11.59zM304.68 342h11.59v2h-11.59zM304.68 345.5h11.59v1h-11.59zM315.97 348h11.59v9h-11.59zM315.97 358h11.59v2h-11.59zM315.97 365.61h11.59v6.5h-11.59zM327.26 318.1h11.59v1h-11.59zM327.26 322.1h11.59v1h-11.59zM327.26 338.35h11.59v4h-11.59zM327.26 344.85h11.59v3.15h-11.59zM338.55 259.1h11.59v0.9h-11.59zM338.55 265.5h11.59v1h-11.59zM338.55 268h11.59v1.5h-11.59zM338.55 275.5h11.59v3h-11.59zM338.55 284.5h11.59v1h-11.59zM338.55 292.5h11.59v3h-11.59zM338.55 297h11.59v1h-11.59zM338.55 309.5h11.59v1h-11.59zM338.55 318.5h11.59v1h-11.59zM338.55 321.5h11.59v4.5h-11.59zM361.13 261.5h11.59v2h-11.59zM361.13 276h11.59v1h-11.59zM361.13 281.5h11.59v2.5h-11.59zM361.13 287h11.59v1h-11.59zM361.13 319.86h11.59v2h-11.59zM361.13 322.86h11.59v4h-11.59zM361.13 327.86h11.59v2h-11.59zM361.13 331.86h11.59v1.5h-11.59zM361.13 339.36h11.59v2h-11.59zM361.13 344.36h11.59v3.64h-11.59zM361.13 370.01h11.59v1.5h-11.59zM361.13 398.01h11.59v2h-11.59zM361.13 404.01h11.59v2.09h-11.59zM372.42 272.32h11.59v2h-11.59z"/>
<path fill="#fdcc69" d="M78.87 395.8h11.59v1.5h-11.59zM78.87 399.8h11.59v0.4h-11.59zM90.16 310h11.59v2h-11.59zM90.16 345.5h11.59v2h-11.59zM101.45 385h11.59v3h-11.59zM112.74 307.8h11.59v1h-11.59zM112.74 339.8h11.59v1.5h-11.59zM112.74 345.3h11.59v2h-11.59zM112.74 392.3h11.59v2.5h-11.59zM124.03 257.19h11.59v1.5h-11.59zM124.03 274.46h11.59v3h-11.59zM124.03 329.6h11.59v1.5h-11.59zM135.32 303.8h11.59v2h-11.59zM135.32 359h11.59v1h-11.59zM135.32 367h11.59v2h-11.59zM135.32 389.5h11.59v2h-11.59zM135.32 395.5h11.59v2h-11.59zM146.61 244.7h11.59v1.5h-11.59zM146.61 256.2h11.59v2h-11.59zM157.9 356h11.59v1h-11.59zM157.9 363h11.59v1h-11.59zM157.9 376h11.59v1h-11.59zM169.19 311.3h11.59v0.9h-11.59zM169.19 335.59h11.59v1h-11.59zM169.19 358h11.59v3h-11.59zM169.19 369h11.59v2h-11.59zM180.48 313.5h11.59v1h-11.59zM180.48 345.5h11.59v2h-11.59zM191.77 311h11.59v2h-11.59zM203.06 239.4h11.59v1h-11.59zM203.06 265.5h11.59v1h-11.59zM203.06 277h11.59v1h-11.59zM214.35 244.9h11.59v3h-11.59zM214.35 356h11.59v2h-11.59zM225.65 232.4h11.59v3.5h-11.59zM225.65 251.9h11.59v2h-11.59zM225.65 255.9h11.59v1h-11.59zM225.65 279.5h11.59v1.5h-11.59zM225.65 302h11.59v0.66h-11.59zM225.65 306.42h11.59v2h-11.59zM225.65 334.92h11.59v1h-11.59zM248.23 241.4h11.59v1.5h-11.59zM248.23 321.2h11.59v2h-11.59zM248.23 324.2h11.59v1h-11.59zM259.52 101.4h11.59v3h-11.59zM259.52 185h11.59v2h-11.59zM259.52 196h11.59v1.2h-11.59zM259.52 322.4h11.59v1h-11.59zM259.52 330.4h11.59v1h-11.59zM259.52 335.4h11.59v1h-11.59zM259.52 371.1h11.59v3h-11.59zM259.52 387.6h11.59v1.5h-11.59zM270.81 266.5h11.59v1h-11.59zM270.81 289.4h11.59v2h-11.59zM270.81 430.19h11.59v2h-11.59zM338.55 247.1h11.59v1h-11.59zM338.55 249.1h11.59v5h-11.59zM338.55 255.1h11.59v2h-11.59zM349.84 320.32h11.59v1h-11.59zM349.84 326.32h11.59v2h-11.59zM349.84 343.32h11.59v1h-11.59zM361.13 374.51h11.59v1h-11.59zM361.13 379.51h11.59v3h-11.59zM372.42 263.5h11.59v2h-11.59zM372.42 274.32h11.59v1h-11.59zM372.42 280.82h11.59v3h-11.59zM383.71 432.99h11.59v1.01h-11.59z"/>
<path fill="#fdcd6b" d="M56.29 260h11.59v1h-11.59zM67.58 219.7h11.59v2h-11.59zM67.58 235.5h11.59v3h-11.59zM67.58 240h11.59v2h-11.59zM67.58 243h11.59v1h-11.59zM67.58 245h11.59v1h-11.59zM67.58 249h11.59v2h-11.59zM67.58 257.5h11.59v1h-11.59zM67.58 410.2h11.59v1h-11.59zM67.58 415.7h11.59v2h-11.59zM78.87 265h11.59v1h-11.59zM78.87 267h11.59v2.2h-11.59zM78.87 274.7h11.59v3h-11.59zM78.87 290.2h11.59v2h-11.59zM78.87 293.2h11.59v3h-11.59zM78.87 301.7h11.59v1h-11.59zM78.87 305.7h11.59v4h-11.59zM78.87 324.2h11.59v5h-11.59zM78.87 330.2h11.59v2h-11.59zM78.87 333.2h11.59v3h-11.59zM78.87 347.7h11.59v0.3h-11.59zM78.87 370.5h11.59v3h-11.59zM78.87 379.8h11.59v1h-11.59zM78.87 388.8h11.59v1h-11.59zM78.87 397.3h11.59v2.5h-11.59zM90.16 360.6h11.59v2h-11.59zM90.16 364.6h11.59v5.5h-11.59zM101.45 271.8h11.59v6h-11.59zM101.45 279.8h11.59v6.5h-11.59zM101.45 287.3h11.59v5h-11.59zM101.45 298.8h11.59v1.5h-11.59zM101.45 303.8h11.59v3h-11.59zM101.45 309.8h11.59v3h-11.59zM101.45 314.8h11.59v1h-11.59zM101.45 317.8h11.59v1h-11.59zM101.45 319.8h11.59v3h-11.59zM101.45 325.8h11.59v2h-11.59zM101.45 328.8h11.59v1.5h-11.59zM101.45 336.8h11.59v1h-11.59zM101.45 341.8h11.59v3h-11.59zM101.45 345.8h11.59v1.5h-11.59zM101.45 350h11.59v8.5h-11.59zM101.45 361.5h11.59v1h-11.59zM101.45 369.5h11.59v1h-11.59zM101.45 375h11.59v1h-11.59zM101.45 382h11.59v1.5h-11.59zM101.45 393.4h11.59v3h-11.59zM112.74 320.3h11.59v3h-11.59zM112.74 333.8h11.59v1h-11.59zM112.74 372.5h11.59v1h-11.59zM124.03 219.08h11.59v4h-11.59zM124.03 253.19h11.59v1h-11.59zM124.03 290.6h11.59v3h-11.59zM124.03 354.3h11.59v2h-11.59zM124.03 360.3h11.59v3h-11.59zM124.03 370.5h11.59v2h-11.59zM135.32 280.2h11.59v3.5h-11.59zM146.61 280h11.59v1h-11.59zM146.61 292h11.59v2h-11.59zM146.61 302.5h11.59v1h-11.59zM146.61 311.5h11.59v1.06h-11.59zM146.61 314h11.59v1.5h-11.59zM146.61 320.5h11.59v1h-11.59zM146.61 333.5h11.59v1h-11.59zM146.61 335.5h11.59v4h-11.59zM146.61 343h11.59v1h-11.59zM146.61 345.5h11.59v2h-11.59zM146.61 353.5h11.59v1h-11.59zM157.9 235.2h11.59v3h-11.59zM157.9 242.7h11.59v1h-11.59zM157.9 255.7h11.59v3h-11.59zM157.9 259.7h11.59v0.3h-11.59zM157.9 339h11.59v2h-11.59zM169.19 286.3h11.59v3h-11.59zM169.19 346.59h11.59v3.41h-11.59zM169.19 368h11.59v1h-11.59zM180.48 340h11.59v1h-11.59zM191.77 270.1h11.59v2h-11.59zM191.77 283h11.59v3h-11.59zM191.77 288h11.59v4.5h-11.59zM191.77 298.5h11.59v1h-11.59zM191.77 301.5h11.59v1h-11.59zM203.06 233.4h11.59v1.5h-11.59zM203.06 236.4h11.59v1h-11.59zM203.06 241.4h11.59v1h-11.59zM203.06 366.6h11.59v0.3h-11.59zM203.06 383.7h11.59v1.5h-11.59zM203.06 386.7h11.59v2.7h-11.59zM214.35 274h11.59v3h-11.59zM214.35 401.1h11.59v3h-11.59zM225.65 325.92h11.59v1h-11.59zM225.65 341.92h11.59v3h-11.59zM225.65 349h11.59v2h-11.59zM225.65 358h11.59v1h-11.59zM225.65 376.5h11.59v2h-11.59zM225.65 385h11.59v2h-11.59zM225.65 394.5h11.59v2h-11.59zM236.94 276.2h11.59v2h-11.59zM236.94 288.7h11.59v2h-11.59zM236.94 291.7h11.59v9.5h-11.59zM236.94 302.2h11.59v2h-11.59zM236.94 308.2h11.59v1h-11.59zM236.94 316.2h11.59v11.5h-11.59zM236.94 331.7h11.59v2h-11.59zM236.94 335.7h11.59v1h-11.59zM236.94 338.2h11.59v4h-11.59zM236.94 343.2h11.59v1h-11.59zM236.94 346.2h11.59v1.8h-11.59zM236.94 395.5h11.59v1h-11.59zM248.23 356.5h11.59v4h-11.59zM248.23 362.5h11.59v2h-11.59zM248.23 372.5h11.59v3h-11.59zM248.23 376.5h11.59v2h-11.59zM248.23 382.5h11.59v2h-11.59zM248.23 385.5h11.59v0.3h-11.59zM259.52 218h11.59v3h-11.59zM259.52 223h11.59v1.5h-11.59zM259.52 230.9h11.59v1.5h-11.59zM259.52 248.4h11.59v6.5h-11.59zM259.52 260h11.59v1h-11.59zM259.52 268h11.59v1.5h-11.59zM259.52 273.5h11.59v5h-11.59zM259.52 281.5h11.59v2h-11.59zM259.52 284.5h11.59v1h-11.59zM259.52 290h11.59v1h-11.59zM259.52 296.5h11.59v2.5h-11.59zM259.52 310h11.59v1h-11.59zM259.52 313h11.59v2h-11.59zM259.52 383.6h11.59v3h-11.59zM259.52 405.6h11.59v1h-11.59zM270.81 272.5h11.59v0.64h-11.59zM270.81 276.4h11.59v3h-11.59zM270.81 407.5h11.59v2h-11.59zM270.81 423.5h11.59v2h-11.59zM270.81 433.19h11.59v0.81h-11.59zM282.1 235.4h11.59v2h-11.59zM282.1 247.59h11.59v9h-11.59zM282.1 257.59h11.59v2.41h-11.59zM282.1 269h11.59v1h-11.59zM282.1 310.4h11.59v4h-11.59zM282.1 323.4h11.59v1h-11.59zM282.1 326.4h11.59v3.5h-11.59zM282.1 330.9h11.59v1h-11.59zM282.1 338.9h11.59v2h-11.59zM282.1 345.9h11.59v2.1h-11.59zM282.1 352.5h11.59v2h-11.59zM282.1 367.5h11.59v1h-11.59zM282.1 378.5h11.59v2h-11.59zM293.39 249.49h11.59v4h-11.59zM293.39 256.49h11.59v1h-11.59zM293.39 376.4h11.59v1h-11.59zM293.39 389.6h11.59v1.5h-11.59zM304.68 231.6h11.59v1.5h-11.59zM304.68 244.1h11.59v1.5h-11.59zM304.68 292.5h11.59v2h-11.59zM304.68 353h11.59v2h-11.59zM304.68 357h11.59v5.5h-11.59zM304.68 371.5h11.59v1h-11.59zM304.68 376h11.59v0.8h-11.59zM315.97 231.86h11.59v2h-11.59zM315.97 235.86h11.59v2h-11.59zM315.97 243.86h11.59v1.5h-11.59zM315.97 250.36h11.59v1h-11.59zM315.97 255.36h11.59v3h-11.59zM315.97 262h11.59v2h-11.59zM315.97 271.5h11.59v1h-11.59zM315.97 274h11.59v1.5h-11.59zM315.97 279.5h11.59v1h-11.59zM315.97 283.5h11.59v0.62h-11.59zM315.97 292.18h11.59v1h-11.59zM315.97 295.68h11.59v6h-11.59zM315.97 309.68h11.59v1.5h-11.59zM315.97 314.18h11.59v1h-11.59zM315.97 331.68h11.59v4h-11.59zM315.97 364h11.59v0.37h-11.59zM327.26 264.5h11.59v1h-11.59zM327.26 271.5h11.59v3h-11.59zM327.26 275.5h11.59v2.11h-11.59zM327.26 279.37h11.59v2h-11.59zM327.26 282.87h11.59v1h-11.59zM327.26 285.87h11.59v3h-11.59zM327.26 293.45h11.59v2h-11.59zM327.26 329.6h11.59v3h-11.59zM327.26 342.35h11.59v1h-11.59zM327.26 359h11.59v1.5h-11.59zM327.26 363h11.59v2h-11.59zM327.26 374h11.59v3.5h-11.59zM349.84 236.1h11.59v2h-11.59zM349.84 239.1h11.59v1h-11.59zM349.84 242.1h11.59v2h-11.59zM349.84 248.1h11.59v1.37h-11.59zM349.84 416.82h11.59v2h-11.59zM361.13 230.1h11.59v1h-11.59zM361.13 232.6h11.59v6h-11.59zM361.13 253.6h11.59v6.4h-11.59zM361.13 263.5h11.59v2h-11.59zM361.13 268.5h11.59v2h-11.59zM361.13 286h11.59v1h-11.59zM361.13 288.17h11.59v1h-11.59zM361.13 291.17h11.59v3h-11.59zM361.13 295.17h11.59v1h-11.59zM361.13 298.17h11.59v3h-11.59zM361.13 303.17h11.59v7h-11.59zM361.13 311.67h11.59v1.5h-11.59zM361.13 316.17h11.59v3.69h-11.59zM361.13 359h11.59v3.5h-11.59zM361.13 364h11.59v1.5h-11.59zM361.13 383.51h11.59v3h-11.59zM361.13 393.51h11.59v1.5h-11.59zM372.42 230.1h11.59v1h-11.59zM372.42 237.1h11.59v1.5h-11.59zM372.42 247.6h11.59v1.5h-11.59zM372.42 257.1h11.59v2.9h-11.59zM372.42 262.5h11.59v1h-11.59zM372.42 307.75h11.59v4h-11.59zM372.42 315.25h11.59v2h-11.59zM372.42 320.75h11.59v2h-11.59zM372.42 325.67h11.59v2h-11.59zM372.42 332.67h11.59v3.5h-11.59zM372.42 340.67h11.59v3h-11.59zM372.42 350.5h11.59v3h-11.59zM372.42 356.5h11.59v3h-11.59zM372.42 364.5h11.59v1h-11.59zM372.42 367.5h11.59v2h-11.59zM372.42 370.5h11.59v2h-11.59zM372.42 374h11.59v10h-11.59zM372.42 392h11.59v0.01h-11.59z"/>
<path fill="#fdce6e" d="M67.58 214.4h11.59v3h-11.59zM67.58 403h11.59v5h-11.59zM67.58 409h11.59v0.2h-11.59zM78.87 355h11.59v1h-11.59zM78.87 363h11.59v1.5h-11.59zM78.87 373.5h11.59v1.5h-11.59zM101.45 248.79h11.59v1h-11.59zM101.45 418.39h11.59v1.5h-11.59zM124.03 261.8h11.59v2h-11.59zM135.32 272.8h11.59v1h-11.59zM135.32 363.5h11.59v1h-11.59zM135.32 386.5h11.59v1h-11.59zM157.9 324h11.59v2h-11.59zM157.9 337h11.59v1h-11.59zM157.9 341h11.59v3h-11.59zM169.19 302.3h11.59v1h-11.59zM169.19 315.8h11.59v1h-11.59zM169.19 381h11.59v3h-11.59zM169.19 398.5h11.59v1.5h-11.59zM191.77 222.4h11.59v3h-11.59zM191.77 227.4h11.59v2h-11.59zM191.77 325.5h11.59v1.1h-11.59zM191.77 334.59h11.59v3h-11.59zM191.77 339.09h11.59v2h-11.59zM191.77 349h11.59v2h-11.59zM191.77 378.5h11.59v1.5h-11.59zM203.06 258.4h11.59v1.5h-11.59zM214.35 241.4h11.59v1h-11.59zM214.35 267h11.59v2h-11.59zM214.35 310.4h11.59v2h-11.59zM214.35 391.1h11.59v2h-11.59zM214.35 409.6h11.59v2h-11.59zM225.65 308.42h11.59v2h-11.59zM225.65 332.92h11.59v2h-11.59zM236.94 379h11.59v1h-11.59zM236.94 393.5h11.59v1h-11.59zM236.94 412h11.59v0.79h-11.59zM248.23 87.5h11.59v1h-11.59zM259.52 94.2h11.59v1h-11.59zM259.52 343.89h11.59v4h-11.59zM259.52 386.6h11.59v1h-11.59zM259.52 422.6h11.59v1h-11.59zM270.81 237.5h11.59v1.5h-11.59zM270.81 416.5h11.59v2h-11.59zM282.1 371h11.59v1h-11.59zM282.1 375.5h11.59v1h-11.59zM293.39 380.4h11.59v1h-11.59zM304.68 267h11.59v2h-11.59zM304.68 279.5h11.59v6h-11.59zM304.68 318.5h11.59v1h-11.59zM304.68 334.5h11.59v1h-11.59zM304.68 344h11.59v1.5h-11.59zM315.97 360h11.59v1h-11.59zM315.97 377.61h11.59v2.08h-11.59zM338.55 269.5h11.59v2h-11.59zM338.55 283.5h11.59v1h-11.59zM361.13 275h11.59v1h-11.59zM361.13 288h11.59v0.17h-11.59zM361.13 343.36h11.59v1h-11.59z"/>
<path fill="#fdcf70" d="M67.58 217.4h11.59v0.5h-11.59zM67.58 231h11.59v3.5h-11.59zM67.58 244h11.59v1h-11.59zM67.58 397.3h11.59v2h-11.59zM67.58 425.99h11.59v1h-11.59zM78.87 237.79h11.59v1.5h-11.59zM78.87 240.29h11.59v1.5h-11.59zM78.87 251.79h11.59v3h-11.59zM78.87 279.7h11.59v1.5h-11.59zM78.87 288.7h11.59v1.5h-11.59zM78.87 297.7h11.59v1h-11.59zM78.87 314.7h11.59v1h-11.59zM78.87 319.2h11.59v2h-11.59zM78.87 329.2h11.59v1h-11.59zM78.87 332.2h11.59v1h-11.59zM90.16 213.76h11.59v1.5h-11.59zM90.16 279.5h11.59v2h-11.59zM90.16 286h11.59v10h-11.59zM90.16 299h11.59v6h-11.59zM90.16 306h11.59v2h-11.59zM90.16 315.5h11.59v1.5h-11.59zM90.16 330h11.59v2h-11.59zM90.16 334h11.59v2h-11.59zM90.16 339h11.59v1.5h-11.59zM90.16 375.76h11.59v1.5h-11.59zM101.45 249.79h11.59v1.4h-11.59zM101.45 302.3h11.59v1.5h-11.59zM101.45 365.5h11.59v1h-11.59zM101.45 373.5h11.59v1.5h-11.59zM101.45 391.4h11.59v2h-11.59zM101.45 401.4h11.59v3h-11.59zM112.74 295.3h11.59v3h-11.59zM112.74 315.8h11.59v2h-11.59zM112.74 319.3h11.59v1h-11.59zM112.74 323.3h11.59v1h-11.59zM112.74 328.3h11.59v1.5h-11.59zM112.74 331.3h11.59v1h-11.59zM112.74 343.3h11.59v2h-11.59zM112.74 347.3h11.59v0.7h-11.59zM112.74 353.5h11.59v3h-11.59zM112.74 362.5h11.59v3h-11.59zM112.74 371.5h11.59v1h-11.59zM112.74 373.5h11.59v5h-11.59zM112.74 381.5h11.59v2.5h-11.59zM124.03 218.08h11.59v1h-11.59zM124.03 226.58h11.59v6.5h-11.59zM124.03 235.58h11.59v2h-11.59zM124.03 240.58h11.59v1.5h-11.59zM124.03 247.08h11.59v1.42h-11.59zM124.03 251.19h11.59v2h-11.59zM124.03 254.19h11.59v3h-11.59zM124.03 258.69h11.59v1.31h-11.59zM124.03 293.6h11.59v3h-11.59zM124.03 297.6h11.59v1.5h-11.59zM124.03 300.1h11.59v2h-11.59zM124.03 308.1h11.59v7h-11.59zM124.03 323.6h11.59v1h-11.59zM124.03 331.1h11.59v3.5h-11.59zM124.03 336.6h11.59v1h-11.59zM124.03 340.6h11.59v2h-11.59zM124.03 349.8h11.59v1.5h-11.59zM124.03 356.3h11.59v1h-11.59zM124.03 367h11.59v1h-11.59zM124.03 374h11.59v4h-11.59zM124.03 382.5h11.59v2h-11.59zM124.03 389.5h11.59v3h-11.59zM135.32 277.2h11.59v3h-11.59zM135.32 360h11.59v2h-11.59zM135.32 371.5h11.59v2h-11.59zM146.61 238.2h11.59v1h-11.59zM146.61 265h11.59v1.3h-11.59zM146.61 268.1h11.59v2h-11.59zM146.61 272.1h11.59v0.5h-11.59zM146.61 289h11.59v3h-11.59zM146.61 347.5h11.59v0.5h-11.59zM146.61 378.5h11.59v3h-11.59zM157.9 251.7h11.59v4h-11.59zM157.9 262h11.59v1.5h-11.59zM157.9 282h11.59v2h-11.59zM157.9 317.5h11.59v1.5h-11.59zM157.9 344h11.59v3h-11.59zM157.9 354h11.59v2h-11.59zM157.9 364h11.59v1h-11.59zM157.9 371h11.59v1h-11.59zM169.19 284.8h11.59v1.5h-11.59zM169.19 336.59h11.59v2h-11.59zM169.19 342.09h11.59v1.5h-11.59zM169.19 350h11.59v3.5h-11.59zM169.19 361h11.59v3.5h-11.59zM169.19 371h11.59v0.4h-11.59zM169.19 393.5h11.59v2h-11.59zM180.48 291.5h11.59v4.5h-11.59zM180.48 300h11.59v3h-11.59zM180.48 318h11.59v4h-11.59zM180.48 325h11.59v1h-11.59zM180.48 328h11.59v9h-11.59zM180.48 338h11.59v2h-11.59zM180.48 342h11.59v1.5h-11.59zM180.48 347.5h11.59v0.5h-11.59zM180.48 349h11.59v1h-11.59zM191.77 189.1h11.59v1.8h-11.59zM191.77 230.4h11.59v1h-11.59zM191.77 263.6h11.59v1h-11.59zM191.77 296.5h11.59v2h-11.59zM191.77 354h11.59v1.5h-11.59zM191.77 366.5h11.59v2h-11.59zM203.06 220.5h11.59v3h-11.59zM203.06 224.5h11.59v1.5h-11.59zM203.06 353h11.59v3h-11.59zM203.06 371.7h11.59v3h-11.59zM203.06 376.7h11.59v1h-11.59zM203.06 408h11.59v1h-11.59zM203.06 411.5h11.59v1h-11.59zM214.35 249.9h11.59v2h-11.59zM214.35 252.9h11.59v2h-11.59zM214.35 289.5h11.59v2h-11.59zM214.35 405.1h11.59v2h-11.59zM225.65 237.9h11.59v2h-11.59zM225.65 246.9h11.59v2h-11.59zM225.65 253.9h11.59v2h-11.59zM225.65 315.42h11.59v1h-11.59zM225.65 348h11.59v1h-11.59zM225.65 359h11.59v1h-11.59zM225.65 379.5h11.59v4.5h-11.59zM225.65 390h11.59v4.5h-11.59zM236.94 152.39h11.59v1.44h-11.59zM236.94 260h11.59v3h-11.59zM236.94 265h11.59v4h-11.59zM236.94 279.7h11.59v1h-11.59zM236.94 306.2h11.59v2h-11.59zM236.94 333.7h11.59v2h-11.59zM236.94 405h11.59v1.5h-11.59zM248.23 88.5h11.59v1h-11.59zM248.23 232.4h11.59v4h-11.59zM248.23 242.9h11.59v2.5h-11.59zM248.23 246.4h11.59v1h-11.59zM248.23 248.4h11.59v4.5h-11.59zM248.23 255.9h11.59v0.7h-11.59zM248.23 258.39h11.59v1.61h-11.59zM248.23 348h11.59v3h-11.59zM248.23 365.5h11.59v2h-11.59zM259.52 181h11.59v1h-11.59zM259.52 187h11.59v4h-11.59zM259.52 192h11.59v4h-11.59zM259.52 208.5h11.59v3h-11.59zM259.52 226.9h11.59v2h-11.59zM259.52 232.4h11.59v1.5h-11.59zM259.52 235.4h11.59v2h-11.59zM259.52 245.4h11.59v1h-11.59zM259.52 261h11.59v2h-11.59zM259.52 292.5h11.59v3h-11.59zM259.52 299h11.59v1h-11.59zM259.52 307h11.59v2h-11.59zM259.52 341.89h11.59v1h-11.59zM270.81 182.8h11.59v0.9h-11.59zM270.81 227h11.59v1h-11.59zM270.81 229h11.59v2h-11.59zM270.81 243h11.59v3h-11.59zM270.81 284.4h11.59v3h-11.59zM270.81 412.5h11.59v1h-11.59zM282.1 129.9h11.59v1.26h-11.59zM282.1 234.4h11.59v1h-11.59zM282.1 241.9h11.59v2h-11.59zM282.1 282h11.59v1h-11.59zM282.1 373.5h11.59v2h-11.59zM282.1 381.5h11.59v2h-11.59zM282.1 393.5h11.59v1h-11.59zM293.39 379.4h11.59v1h-11.59zM293.39 381.4h11.59v1.5h-11.59zM293.39 392.1h11.59v1h-11.59zM293.39 394.1h11.59v3h-11.59zM293.39 401.6h11.59v0.4h-11.59zM304.68 255.1h11.59v1h-11.59zM304.68 258.1h11.59v1.5h-11.59zM304.68 276.5h11.59v1.5h-11.59zM304.68 285.5h11.59v1h-11.59zM304.68 290.5h11.59v1h-11.59zM304.68 335.5h11.59v1h-11.59zM304.68 346.5h11.59v1.5h-11.59zM304.68 352h11.59v1h-11.59zM304.68 370.5h11.59v1h-11.59zM315.97 260h11.59v2h-11.59zM315.97 267h11.59v1.5h-11.59zM315.97 280.5h11.59v2h-11.59zM315.97 325.68h11.59v3h-11.59zM315.97 361h11.59v3h-11.59zM327.26 288.87h11.59v1h-11.59zM327.26 301.45h11.59v1.5h-11.59zM327.26 304.45h11.59v1.32h-11.59zM327.26 369h11.59v5h-11.59zM327.26 384.5h11.59v1.5h-11.59zM338.55 230.1h11.59v3h-11.59zM338.55 234.6h11.59v2h-11.59zM338.55 241.1h11.59v3h-11.59zM338.55 260h11.59v1.5h-11.59zM338.55 328h11.59v1h-11.59zM349.84 244.1h11.59v4h-11.59zM349.84 325.32h11.59v1h-11.59zM349.84 334.32h11.59v1h-11.59zM349.84 407.32h11.59v1.5h-11.59zM361.13 238.6h11.59v2h-11.59zM361.13 313.17h11.59v3h-11.59zM361.13 349h11.59v2h-11.59zM361.13 354h11.59v1h-11.59zM361.13 371.51h11.59v3h-11.59zM361.13 375.51h11.59v3h-11.59zM361.13 386.51h11.59v4h-11.59zM361.13 396.01h11.59v2h-11.59zM361.13 400.01h11.59v1h-11.59zM372.42 243.6h11.59v1h-11.59zM372.42 261.5h11.59v1h-11.59zM372.42 265.5h11.59v3.3h-11.59zM372.42 275.32h11.59v4.5h-11.59zM372.42 283.82h11.59v2.58h-11.59zM372.42 304.25h11.59v1.5h-11.59zM372.42 366.5h11.59v1h-11.59zM383.71 387.09h11.59v5h-11.59zM383.71 395.09h11.59v1.5h-11.59zM383.71 402.09h11.59v5.5h-11.59zM383.71 411.59h11.59v1h-11.59z"/>
<path fill="#fdd073" d="M67.58 411.2h11.59v1.5h-11.59zM78.87 272.2h11.59v1.5h-11.59zM78.87 296.2h11.59v1.5h-11.59zM78.87 313.2h11.59v1.5h-11.59zM78.87 356h11.59v2h-11.59zM101.45 286.3h11.59v1h-11.59zM101.45 306.8h11.59v3h-11.59zM101.45 339.8h11.59v2h-11.59zM101.45 370.5h11.59v1h-11.59zM101.45 419.89h11.59v2h-11.59zM124.03 268.8h11.59v1h-11.59zM124.03 357.3h11.59v3h-11.59zM135.32 286.7h11.59v1h-11.59zM146.61 281h11.59v4h-11.59zM146.61 306h11.59v1.5h-11.59zM146.61 315.5h11.59v2h-11.59zM146.61 330.5h11.59v3h-11.59zM146.61 354.5h11.59v1h-11.59zM146.61 371.5h11.59v3h-11.59zM157.9 245.7h11.59v3h-11.59zM157.9 301h11.59v3h-11.59zM157.9 305h11.59v1h-11.59zM180.48 357h11.59v2h-11.59zM180.48 372.5h11.59v2.5h-11.59zM191.77 229.4h11.59v1h-11.59zM191.77 292.5h11.59v3h-11.59zM191.77 299.5h11.59v2h-11.59zM203.06 368.7h11.59v3h-11.59zM214.35 236.4h11.59v1.5h-11.59zM214.35 256.9h11.59v1h-11.59zM214.35 269h11.59v2h-11.59zM214.35 301.4h11.59v1h-11.59zM214.35 312.4h11.59v1h-11.59zM214.35 378.6h11.59v1.5h-11.59zM214.35 383.1h11.59v1h-11.59zM225.65 269h11.59v1h-11.59zM225.65 338.92h11.59v1h-11.59zM225.65 353h11.59v1h-11.59zM225.65 369h11.59v1h-11.59zM225.65 378.5h11.59v1h-11.59zM236.94 364h11.59v3h-11.59zM248.23 354.5h11.59v2h-11.59zM259.52 240.4h11.59v2h-11.59zM259.52 257.9h11.59v1.5h-11.59zM259.52 280.5h11.59v1h-11.59zM259.52 304h11.59v3h-11.59zM259.52 342.89h11.59v1h-11.59zM259.52 378.1h11.59v2h-11.59zM259.52 404.6h11.59v1h-11.59zM270.81 220.8h11.59v2h-11.59zM270.81 239h11.59v2h-11.59zM270.81 264.5h11.59v2h-11.59zM270.81 267.5h11.59v1h-11.59zM270.81 402h11.59v2h-11.59zM270.81 421.5h11.59v1h-11.59zM282.1 256.59h11.59v1h-11.59zM282.1 317.4h11.59v3h-11.59zM282.1 329.9h11.59v1h-11.59zM282.1 342.9h11.59v3h-11.59zM282.1 360.5h11.59v1h-11.59zM282.1 394.5h11.59v1h-11.59zM293.39 239.49h11.59v2h-11.59zM293.39 370.4h11.59v2h-11.59zM304.68 246.6h11.59v2h-11.59zM304.68 286.5h11.59v2h-11.59zM304.68 319.5h11.59v1h-11.59zM304.68 336.5h11.59v1h-11.59zM304.68 340h11.59v2h-11.59zM304.68 372.5h11.59v1h-11.59zM315.97 233.86h11.59v2h-11.59zM315.97 238.86h11.59v2h-11.59zM315.97 277.5h11.59v2h-11.59zM315.97 288.18h11.59v1h-11.59zM315.97 311.18h11.59v3h-11.59zM327.26 323.1h11.59v2h-11.59zM327.26 348h11.59v3h-11.59zM338.55 320.5h11.59v1h-11.59zM349.84 321.32h11.59v2h-11.59zM349.84 420.82h11.59v1.13h-11.59zM361.13 243.6h11.59v2h-11.59zM361.13 279.5h11.59v2h-11.59zM361.13 310.17h11.59v1.5h-11.59zM361.13 348h11.59v1h-11.59zM372.42 241.6h11.59v2h-11.59zM372.42 250.1h11.59v1.5h-11.59zM372.42 302.25h11.59v2h-11.59zM372.42 306.75h11.59v1h-11.59zM372.42 322.75h11.59v1.86h-11.59zM372.42 337.67h11.59v2h-11.59zM372.42 359.5h11.59v3h-11.59zM372.42 387h11.59v1h-11.59z"/>
<path fill="#fcd076" d="M67.58 238.5h11.59v1.5h-11.59zM67.58 253h11.59v1h-11.59zM78.87 302.7h11.59v3h-11.59zM78.87 309.7h11.59v1.5h-11.59zM78.87 316.7h11.59v1.5h-11.59zM90.16 343.5h11.59v2h-11.59zM90.16 362.6h11.59v2h-11.59zM90.16 373.76h11.59v1h-11.59zM101.45 300.3h11.59v2h-11.59zM101.45 312.8h11.59v1h-11.59zM101.45 335.8h11.59v1h-11.59zM101.45 406.4h11.59v1h-11.59zM112.74 313.8h11.59v2h-11.59zM112.74 317.8h11.59v1.5h-11.59zM124.03 237.58h11.59v3h-11.59zM124.03 322.1h11.59v1.5h-11.59zM124.03 363.3h11.59v2.7h-11.59zM135.32 271.8h11.59v1h-11.59zM135.32 274.8h11.59v1.4h-11.59zM146.61 317.5h11.59v3h-11.59zM157.9 238.2h11.59v1.5h-11.59zM157.9 289.5h11.59v2h-11.59zM169.19 327.79h11.59v2h-11.59zM180.48 296h11.59v1h-11.59zM180.48 305.5h11.59v1h-11.59zM203.06 348h11.59v1h-11.59zM203.06 380.7h11.59v3h-11.59zM214.35 382.1h11.59v1h-11.59zM225.65 351h11.59v2h-11.59zM225.65 367h11.59v1h-11.59zM236.94 283.7h11.59v5h-11.59zM236.94 386h11.59v1.5h-11.59zM259.52 95.2h11.59v1h-11.59zM259.52 104.4h11.59v1h-11.59zM259.52 254.9h11.59v2h-11.59zM259.52 263h11.59v1h-11.59zM282.1 244.9h11.59v1.26h-11.59zM282.1 272h11.59v1h-11.59zM282.1 325.4h11.59v1h-11.59zM293.39 242.49h11.59v1.5h-11.59zM293.39 245.49h11.59v2h-11.59zM293.39 365.4h11.59v1h-11.59zM304.68 310.5h11.59v3h-11.59zM304.68 350h11.59v2h-11.59zM304.68 373.5h11.59v1.5h-11.59zM315.97 247.36h11.59v1h-11.59zM315.97 251.36h11.59v2h-11.59zM327.26 334.6h11.59v1.5h-11.59zM327.26 368h11.59v1h-11.59zM338.55 233.1h11.59v1.5h-11.59zM338.55 236.6h11.59v3h-11.59zM338.55 281.5h11.59v1h-11.59zM338.55 295.5h11.59v1.5h-11.59zM338.55 301h11.59v3h-11.59zM338.55 317h11.59v1.5h-11.59zM349.84 219.54h11.59v2h-11.59zM361.13 357h11.59v2h-11.59zM361.13 362.5h11.59v1.5h-11.59zM372.42 240.6h11.59v1h-11.59zM372.42 249.1h11.59v1h-11.59zM372.42 305.75h11.59v1h-11.59zM372.42 311.75h11.59v1.5h-11.59zM372.42 330.67h11.59v2h-11.59zM372.42 362.5h11.59v2h-11.59zM383.71 428.99h11.59v1h-11.59z"/>
<path fill="#fcd179" d="M67.58 197.9h11.59v2h-11.59zM67.58 402h11.59v1h-11.59zM78.87 254.79h11.59v1h-11.59zM78.87 282.7h11.59v2h-11.59zM78.87 353h11.59v2h-11.59zM90.16 270.5h11.59v2h-11.59zM90.16 275.5h11.59v4h-11.59zM90.16 285h11.59v1h-11.59zM90.16 313h11.59v1.5h-11.59zM90.16 342.5h11.59v1h-11.59zM90.16 378.96h11.59v4.5h-11.59zM90.16 384.96h11.59v3h-11.59zM90.16 388.96h11.59v2h-11.59zM101.45 245.79h11.59v3h-11.59zM101.45 260h11.59v3.6h-11.59zM101.45 315.8h11.59v1h-11.59zM101.45 347.3h11.59v0.7h-11.59zM101.45 399.4h11.59v1h-11.59zM101.45 421.89h11.59v5.3h-11.59zM112.74 288.8h11.59v1.5h-11.59zM112.74 300.3h11.59v3h-11.59zM112.74 310.8h11.59v3h-11.59zM112.74 329.8h11.59v1.5h-11.59zM112.74 332.3h11.59v1.5h-11.59zM112.74 349h11.59v3h-11.59zM112.74 356.5h11.59v1h-11.59zM112.74 368.5h11.59v1h-11.59zM112.74 388.8h11.59v2h-11.59zM124.03 233.08h11.59v1h-11.59zM124.03 245.08h11.59v2h-11.59zM124.03 264.8h11.59v2h-11.59zM124.03 269.8h11.59v1.9h-11.59zM124.03 272.96h11.59v1.5h-11.59zM124.03 296.6h11.59v1h-11.59zM124.03 334.6h11.59v2h-11.59zM124.03 342.6h11.59v3h-11.59zM124.03 347.6h11.59v0.4h-11.59zM124.03 372.5h11.59v1.5h-11.59zM124.03 384.5h11.59v3h-11.59zM124.03 396h11.59v2h-11.59zM146.61 233.2h11.59v1.5h-11.59zM146.61 235.7h11.59v2.5h-11.59zM146.61 240.7h11.59v2h-11.59zM146.61 248.2h11.59v2h-11.59zM146.61 251.2h11.59v4h-11.59zM157.9 269h11.59v3h-11.59zM157.9 281h11.59v1h-11.59zM157.9 285.5h11.59v2h-11.59zM157.9 307.5h11.59v1h-11.59zM157.9 314.5h11.59v1.5h-11.59zM157.9 322.5h11.59v1.5h-11.59zM157.9 327.5h11.59v1h-11.59zM157.9 331.5h11.59v1.5h-11.59zM157.9 351h11.59v2h-11.59zM157.9 365h11.59v1.5h-11.59zM157.9 373.5h11.59v2.5h-11.59zM169.19 279.8h11.59v3h-11.59zM169.19 293.3h11.59v9h-11.59zM169.19 307.3h11.59v4h-11.59zM169.19 318.3h11.59v1.1h-11.59zM169.19 343.59h11.59v3h-11.59zM169.19 378h11.59v3h-11.59zM180.48 316h11.59v2h-11.59zM180.48 322h11.59v3h-11.59zM180.48 348h11.59v1h-11.59zM180.48 350h11.59v1h-11.59zM180.48 355h11.59v2h-11.59zM180.48 360.5h11.59v1h-11.59zM180.48 365.5h11.59v3h-11.59zM191.77 266.1h11.59v2h-11.59zM191.77 273.1h11.59v1h-11.59zM191.77 305h11.59v3h-11.59zM191.77 316.5h11.59v1h-11.59zM191.77 321.5h11.59v2h-11.59zM191.77 327.59h11.59v1h-11.59zM191.77 347.09h11.59v1.91h-11.59zM191.77 351h11.59v3h-11.59zM191.77 355.5h11.59v3h-11.59zM191.77 359.5h11.59v4h-11.59zM191.77 370.5h11.59v8h-11.59zM191.77 404.4h11.59v1.2h-11.59zM203.06 217h11.59v1.5h-11.59zM203.06 223.5h11.59v1h-11.59zM203.06 360.6h11.59v1h-11.59zM203.06 364.6h11.59v1h-11.59zM203.06 414.5h11.59v1h-11.59zM203.06 419h11.59v3h-11.59zM203.06 423.5h11.59v0.1h-11.59zM214.35 231.4h11.59v5h-11.59zM214.35 243.4h11.59v1.5h-11.59zM214.35 251.9h11.59v1h-11.59zM214.35 257.9h11.59v1h-11.59zM214.35 313.4h11.59v3h-11.59zM225.65 231.4h11.59v1h-11.59zM225.65 235.9h11.59v2h-11.59zM225.65 356h11.59v2h-11.59zM225.65 360h11.59v3h-11.59zM225.65 399.5h11.59v2.5h-11.59zM236.94 263h11.59v2h-11.59zM236.94 344.2h11.59v2h-11.59zM236.94 371h11.59v3h-11.59zM236.94 399.5h11.59v1.5h-11.59zM236.94 410.5h11.59v1.5h-11.59zM248.23 84h11.59v1.5h-11.59zM248.23 364.5h11.59v1h-11.59zM259.52 96.2h11.59v2.2h-11.59zM259.52 100.4h11.59v1h-11.59zM259.52 259.4h11.59v0.6h-11.59zM259.52 311h11.59v1h-11.59zM259.52 408.6h11.59v7.5h-11.59zM259.52 419.1h11.59v1h-11.59zM270.81 218.8h11.59v2h-11.59zM270.81 226h11.59v1h-11.59zM270.81 228h11.59v1h-11.59zM270.81 231h11.59v1h-11.59zM270.81 234h11.59v3.5h-11.59zM270.81 246h11.59v4h-11.59zM270.81 418.5h11.59v3h-11.59zM282.1 402h11.59v3.5h-11.59zM282.1 408h11.59v2h-11.59zM282.1 414h11.59v4h-11.59zM293.39 247.49h11.59v1h-11.59zM293.39 377.4h11.59v2h-11.59zM304.68 235.1h11.59v1.5h-11.59zM304.68 237.6h11.59v1h-11.59zM304.68 241.6h11.59v2.5h-11.59zM304.68 250.6h11.59v1.5h-11.59zM304.68 256.1h11.59v2h-11.59zM304.68 269h11.59v1.5h-11.59zM304.68 294.5h11.59v2h-11.59zM304.68 323.5h11.59v2h-11.59zM315.97 275.5h11.59v2h-11.59zM315.97 289.18h11.59v2h-11.59zM315.97 320.68h11.59v3h-11.59zM327.26 260h11.59v3h-11.59zM327.26 265.5h11.59v2h-11.59zM327.26 328.6h11.59v1h-11.59zM327.26 336.1h11.59v0.84h-11.59zM327.26 343.35h11.59v1.5h-11.59zM338.55 90.16h11.59v1.76h-11.59zM338.55 228.77h11.59v1.32h-11.59zM338.55 244.1h11.59v3h-11.59zM338.55 266.5h11.59v1.5h-11.59zM338.55 298h11.59v1.5h-11.59zM338.55 308.5h11.59v1h-11.59zM338.55 332h11.59v0.18h-11.59zM361.13 265.5h11.59v3h-11.59zM361.13 333.36h11.59v1h-11.59zM361.13 391.51h11.59v1h-11.59zM361.13 395.01h11.59v1h-11.59zM361.13 401.01h11.59v3h-11.59zM372.42 239.6h11.59v1h-11.59zM372.42 346.67h11.59v1.33h-11.59zM383.71 384.09h11.59v3h-11.59zM383.71 407.59h11.59v2h-11.59z"/>
<path fill="#fcd27c" d="M56.29 231.6h11.59v1h-11.59zM56.29 255.99h11.59v1h-11.59zM67.58 229h11.59v2h-11.59zM67.58 234.5h11.59v1h-11.59zM67.58 419.99h11.59v3h-11.59zM67.58 424.99h11.59v1h-11.59zM78.87 239.29h11.59v1h-11.59zM78.87 255.79h11.59v3h-11.59zM78.87 270.2h11.59v2h-11.59zM78.87 284.7h11.59v1h-11.59zM78.87 298.7h11.59v3h-11.59zM78.87 338.2h11.59v3h-11.59zM90.16 312h11.59v1h-11.59zM90.16 319h11.59v2h-11.59zM90.16 371.76h11.59v2h-11.59zM101.45 270.8h11.59v1h-11.59zM101.45 277.8h11.59v2h-11.59zM101.45 322.8h11.59v3h-11.59zM101.45 333.3h11.59v1h-11.59zM101.45 381h11.59v1h-11.59zM101.45 383.5h11.59v0.5h-11.59zM101.45 389.4h11.59v2h-11.59zM112.74 325.3h11.59v3h-11.59zM124.03 315.1h11.59v1h-11.59zM124.03 326.1h11.59v1.5h-11.59zM124.03 345.6h11.59v2h-11.59zM124.03 351.3h11.59v2h-11.59zM124.03 380h11.59v1h-11.59zM146.61 285h11.59v2h-11.59zM146.61 303.5h11.59v1h-11.59zM146.61 321.5h11.59v2h-11.59zM146.61 329h11.59v1.5h-11.59zM146.61 341h11.59v2h-11.59zM157.9 258.7h11.59v1h-11.59zM157.9 360h11.59v3h-11.59zM157.9 366.5h11.59v3h-11.59zM157.9 379.5h11.59v0.9h-11.59zM169.19 326.79h11.59v1h-11.59zM169.19 338.59h11.59v1.5h-11.59zM169.19 341.09h11.59v1h-11.59zM180.48 290h11.59v1.5h-11.59zM180.48 310.5h11.59v3h-11.59zM180.48 386h11.59v1h-11.59zM180.48 402h11.59v2h-11.59zM191.77 255.4h11.59v1h-11.59zM191.77 390.4h11.59v2h-11.59zM191.77 403.4h11.59v1h-11.59zM214.35 213.6h11.59v1h-11.59zM225.65 370h11.59v2h-11.59zM225.65 373.5h11.59v3h-11.59zM236.94 249.4h11.59v1h-11.59zM236.94 269h11.59v1.8h-11.59zM236.94 280.7h11.59v3h-11.59zM236.94 301.2h11.59v1h-11.59zM248.23 236.4h11.59v1h-11.59zM248.23 252.9h11.59v3h-11.59zM248.23 375.5h11.59v1h-11.59zM259.52 105.4h11.59v0.2h-11.59zM259.52 242.4h11.59v3h-11.59zM259.52 256.9h11.59v1h-11.59zM259.52 264h11.59v2h-11.59zM259.52 287h11.59v3h-11.59zM259.52 291h11.59v1.5h-11.59zM259.52 295.5h11.59v1h-11.59zM259.52 312h11.59v1h-11.59zM259.52 315h11.59v2.96h-11.59zM270.81 432.19h11.59v1h-11.59zM282.1 239.4h11.59v1h-11.59zM282.1 333.9h11.59v3h-11.59zM282.1 405.5h11.59v1.5h-11.59zM282.1 418h11.59v2h-11.59zM304.68 355h11.59v2h-11.59zM304.68 368.5h11.59v2h-11.59zM315.97 237.86h11.59v1h-11.59zM315.97 241.86h11.59v2h-11.59zM315.97 268.5h11.59v3h-11.59zM315.97 285.18h11.59v2h-11.59zM315.97 291.18h11.59v1h-11.59zM315.97 317.68h11.59v3h-11.59zM315.97 340.68h11.59v1.5h-11.59zM327.26 245.94h11.59v2h-11.59zM327.26 251.94h11.59v2h-11.59zM327.26 274.5h11.59v1h-11.59zM327.26 362h11.59v1h-11.59zM327.26 377.5h11.59v2h-11.59zM338.55 226.27h11.59v1.5h-11.59zM349.84 232.1h11.59v1h-11.59zM349.84 240.1h11.59v2h-11.59zM361.13 231.1h11.59v1.5h-11.59zM361.13 246.6h11.59v3h-11.59zM361.13 289.17h11.59v2h-11.59zM361.13 294.17h11.59v1h-11.59zM361.13 367.5h11.59v0.75h-11.59zM372.42 220.49h11.59v3h-11.59zM372.42 234.1h11.59v1h-11.59zM372.42 238.6h11.59v1h-11.59zM372.42 254.6h11.59v1h-11.59zM372.42 279.82h11.59v1h-11.59zM372.42 339.67h11.59v1h-11.59zM372.42 391h11.59v1h-11.59zM383.71 398.59h11.59v1.5h-11.59zM383.71 409.59h11.59v2h-11.59z"/>
<path fill="#fbd27f" d="M78.87 246.79h11.59v2h-11.59zM90.16 296h11.59v3h-11.59zM90.16 321h11.59v3h-11.59zM90.16 332h11.59v2h-11.59zM90.16 377.26h11.59v0.44h-11.59zM101.45 234.4h11.59v2h-11.59zM101.45 239.4h11.59v1h-11.59zM101.45 404.4h11.59v2h-11.59zM101.45 416.39h11.59v2h-11.59zM112.74 304.8h11.59v3h-11.59zM112.74 352h11.59v1.5h-11.59zM112.74 378.5h11.59v3h-11.59zM124.03 305.1h11.59v3h-11.59zM124.03 324.6h11.59v1.5h-11.59zM124.03 368h11.59v1.5h-11.59zM124.03 398h11.59v0.4h-11.59zM146.61 259.2h11.59v0.8h-11.59zM146.61 263h11.59v2h-11.59zM169.19 290.3h11.59v3h-11.59zM169.19 316.8h11.59v1.5h-11.59zM169.19 340.09h11.59v1h-11.59zM180.48 303h11.59v1h-11.59zM180.48 351h11.59v1.5h-11.59zM180.48 389h11.59v3h-11.59zM191.77 231.4h11.59v1h-11.59zM191.77 238.4h11.59v2h-11.59zM191.77 308h11.59v3h-11.59zM191.77 313h11.59v1.5h-11.59zM191.77 380h11.59v0.4h-11.59zM191.77 397.4h11.59v2h-11.59zM203.06 415.5h11.59v2h-11.59zM214.35 239.9h11.59v1.5h-11.59zM214.35 242.4h11.59v1h-11.59zM225.65 248.9h11.59v3h-11.59zM270.81 252h11.59v3h-11.59zM282.1 411h11.59v3h-11.59zM293.39 391.1h11.59v1h-11.59zM293.39 398.6h11.59v3h-11.59zM304.68 259.6h11.59v0.4h-11.59zM361.13 390.51h11.59v1h-11.59zM372.42 212.49h11.59v3h-11.59zM383.71 396.59h11.59v2h-11.59z"/>
<path fill="#fbd382" d="M56.29 232.6h11.59v4h-11.59zM56.29 239.6h11.59v2h-11.59zM67.58 199.9h11.59v3h-11.59zM67.58 203.9h11.59v4.1h-11.59zM67.58 408h11.59v1h-11.59zM67.58 430.69h11.59v3h-11.59zM78.87 182.8h11.59v1.26h-11.59zM78.87 230.5h11.59v0.9h-11.59zM78.87 248.79h11.59v3h-11.59zM78.87 403.8h11.59v2h-11.59zM90.16 254.79h11.59v5.21h-11.59zM90.16 281.5h11.59v3.5h-11.59zM90.16 340.5h11.59v2h-11.59zM90.16 347.5h11.59v0.5h-11.59zM90.16 390.96h11.59v0.24h-11.59zM112.74 334.8h11.59v2h-11.59zM112.74 369.5h11.59v2h-11.59zM124.03 277.46h11.59v0.54h-11.59zM124.03 366h11.59v1h-11.59zM135.32 273.8h11.59v1h-11.59zM146.61 242.7h11.59v2h-11.59zM146.61 250.2h11.59v1h-11.59zM157.9 353h11.59v1h-11.59zM169.19 263.6h11.59v7.2h-11.59zM169.19 305.3h11.59v2h-11.59zM169.19 329.79h11.59v2.2h-11.59zM169.19 356.5h11.59v1.5h-11.59zM169.19 384h11.59v3.5h-11.59zM169.19 391.5h11.59v2h-11.59zM169.19 395.5h11.59v3h-11.59zM169.19 400h11.59v2h-11.59zM180.48 353.5h11.59v1.5h-11.59zM180.48 361.5h11.59v3h-11.59zM191.77 234.4h11.59v4h-11.59zM191.77 242.4h11.59v2h-11.59zM191.77 314.5h11.59v2h-11.59zM191.77 320.5h11.59v1h-11.59zM191.77 323.5h11.59v2h-11.59zM191.77 326.59h11.59v1h-11.59zM191.77 328.59h11.59v3h-11.59zM191.77 341.09h11.59v4h-11.59zM191.77 358.5h11.59v1h-11.59zM203.06 405h11.59v3h-11.59zM203.06 410.5h11.59v1h-11.59zM203.06 422h11.59v1.5h-11.59zM214.35 194.3h11.59v3h-11.59zM214.35 237.9h11.59v2h-11.59zM225.65 239.9h11.59v2h-11.59zM236.94 108.3h11.59v2.34h-11.59zM236.94 254.4h11.59v1.5h-11.59zM248.23 85.5h11.59v2h-11.59zM248.23 89.5h11.59v1.7h-11.59zM248.23 224.2h11.59v4h-11.59zM248.23 229.7h11.59v1.7h-11.59zM248.23 237.4h11.59v1h-11.59zM259.52 91.2h11.59v3h-11.59zM259.52 98.4h11.59v2h-11.59zM259.52 179.2h11.59v1.8h-11.59zM259.52 416.1h11.59v3h-11.59zM270.81 222.8h11.59v3.2h-11.59zM270.81 241h11.59v2h-11.59zM270.81 255h11.59v2h-11.59zM304.68 216h11.59v1h-11.59zM304.68 238.6h11.59v3h-11.59zM315.97 209.85h11.59v5.28h-11.59zM338.55 254.1h11.59v1h-11.59zM349.84 221.54h11.59v1h-11.59zM349.84 223.54h11.59v2h-11.59zM349.84 229.54h11.59v0.56h-11.59zM361.13 378.51h11.59v1h-11.59zM361.13 392.51h11.59v1h-11.59zM372.42 229.49h11.59v0.61h-11.59z"/>
<path fill="#fbd385" d="M67.58 433.69h11.59v0.31h-11.59zM78.87 236.79h11.59v1h-11.59zM90.16 269h11.59v1.5h-11.59zM90.16 274.5h11.59v1h-11.59zM90.16 337h11.59v2h-11.59zM112.74 299.3h11.59v1h-11.59zM112.74 357.5h11.59v2h-11.59zM124.03 224.58h11.59v2h-11.59zM124.03 299.1h11.59v1h-11.59zM124.03 303.6h11.59v1.5h-11.59zM124.03 316.1h11.59v1h-11.59zM124.03 318.1h11.59v1h-11.59zM124.03 378h11.59v2h-11.59zM146.61 239.2h11.59v1.5h-11.59zM157.9 358h11.59v2h-11.59zM157.9 369.5h11.59v1.5h-11.59zM169.19 364.5h11.59v1.5h-11.59zM180.48 304h11.59v1.5h-11.59zM180.48 306.5h11.59v3h-11.59zM180.48 352.5h11.59v1h-11.59zM180.48 359h11.59v1.5h-11.59zM180.48 369.5h11.59v3h-11.59zM191.77 272.1h11.59v1h-11.59zM191.77 277.1h11.59v0.9h-11.59zM191.77 363.5h11.59v3h-11.59zM203.06 402h11.59v3h-11.59zM225.65 256.9h11.59v2h-11.59zM236.94 257.9h11.59v2h-11.59zM248.23 238.4h11.59v3h-11.59zM259.52 182h11.59v1.5h-11.59zM259.52 406.6h11.59v2h-11.59zM259.52 420.1h11.59v1h-11.59zM282.1 407h11.59v1h-11.59zM304.68 229.6h11.59v2h-11.59zM338.55 257.1h11.59v2h-11.59zM372.42 260h11.59v1.5h-11.59zM383.71 400.09h11.59v2h-11.59z"/>
<path fill="#fad488" d="M56.29 238.6h11.59v1h-11.59zM56.29 241.6h11.59v0.6h-11.59zM78.87 408.8h11.59v3h-11.59zM112.74 385.8h11.59v3h-11.59zM124.03 263.8h11.59v1h-11.59zM124.03 283.4h11.59v1.5h-11.59zM135.32 264.5h11.59v0.9h-11.59zM169.19 376h11.59v2h-11.59zM180.48 376.5h11.59v2h-11.59zM180.48 382h11.59v2h-11.59zM180.48 395h11.59v5h-11.59zM191.77 247.4h11.59v1h-11.59zM191.77 250.4h11.59v5h-11.59zM191.77 256.4h11.59v3.6h-11.59zM191.77 399.4h11.59v4h-11.59zM203.06 409h11.59v1.5h-11.59zM236.94 239.9h11.59v3h-11.59zM304.68 211h11.59v3h-11.59zM315.97 284.12h11.59v1.06h-11.59zM327.26 397.73h11.59v2h-11.59zM338.55 217.77h11.59v1.5h-11.59zM338.55 221.27h11.59v3h-11.59zM349.84 222.54h11.59v1h-11.59zM361.13 222.3h11.59v2h-11.59zM361.13 229.3h11.59v0.8h-11.59zM383.71 423.14h11.59v4h-11.59z"/>
<path fill="#fad58b" d="M56.29 229.6h11.59v2h-11.59zM56.29 236.6h11.59v2h-11.59zM67.58 195.4h11.59v2.5h-11.59zM67.58 427.19h11.59v2h-11.59zM78.87 227.5h11.59v1h-11.59zM90.16 215.26h11.59v1h-11.59zM90.16 383.46h11.59v1.5h-11.59zM180.48 364.5h11.59v1h-11.59zM180.48 411.1h11.59v2h-11.59zM191.77 225.4h11.59v2h-11.59zM191.77 345.09h11.59v2h-11.59zM203.06 417.5h11.59v1.5h-11.59zM214.35 199.3h11.59v1.5h-11.59zM236.94 259.9h11.59v0.1h-11.59zM248.23 228.2h11.59v1.5h-11.59zM270.81 259h11.59v1h-11.59zM327.26 253.94h11.59v1.5h-11.59zM349.84 227.54h11.59v2h-11.59zM349.84 426.44h11.59v1h-11.59zM372.42 225.49h11.59v2h-11.59z"/>
<path fill="#fad58e" d="M78.87 411.8h11.59v1h-11.59zM90.16 272.5h11.59v2h-11.59zM112.74 390.8h11.59v1.5h-11.59zM146.61 255.2h11.59v1h-11.59zM169.19 289.3h11.59v1h-11.59zM169.19 303.3h11.59v2h-11.59zM169.19 390.5h11.59v1h-11.59zM180.48 368.5h11.59v1h-11.59zM180.48 387h11.59v2h-11.59zM180.48 422.6h11.59v1h-11.59zM191.77 244.4h11.59v3h-11.59zM191.77 268.1h11.59v2h-11.59zM191.77 274.1h11.59v3h-11.59zM191.77 317.5h11.59v3h-11.59zM191.77 331.59h11.59v3h-11.59zM203.06 412.5h11.59v2h-11.59zM214.35 247.9h11.59v2h-11.59zM259.52 421.1h11.59v1.5h-11.59zM270.81 232h11.59v2h-11.59zM270.81 250h11.59v2h-11.59zM304.68 236.6h11.59v1h-11.59zM304.68 248.6h11.59v2h-11.59zM304.68 252.1h11.59v3h-11.59zM338.55 194.01h11.59v2.64h-11.59zM361.13 224.3h11.59v3h-11.59z"/>
<path fill="#f9d691" d="M56.29 252.99h11.59v3h-11.59zM67.58 202.9h11.59v1h-11.59zM67.58 429.19h11.59v1.5h-11.59zM78.87 226h11.59v1.5h-11.59zM101.45 231.4h11.59v1h-11.59zM101.45 237.4h11.59v2h-11.59zM112.74 288.4h11.59v0.4h-11.59zM124.03 284.9h11.59v1.5h-11.59zM124.03 288.4h11.59v0.76h-11.59zM135.32 270.8h11.59v1h-11.59zM169.19 324.79h11.59v2h-11.59zM180.48 384h11.59v2h-11.59zM180.48 392h11.59v3h-11.59zM191.77 263.5h11.59v0.1h-11.59zM203.06 202.6h11.59v2h-11.59zM203.06 205.6h11.59v0.6h-11.59zM214.35 193.3h11.59v1h-11.59zM214.35 197.3h11.59v2h-11.59zM214.35 211.6h11.59v2h-11.59zM214.35 216.1h11.59v2.7h-11.59zM236.94 231.4h11.59v3.5h-11.59zM236.94 246.4h11.59v3h-11.59zM236.94 253.4h11.59v1h-11.59zM236.94 255.9h11.59v2h-11.59zM248.23 136.2h11.59v1.8h-11.59zM248.23 391.3h11.59v2h-11.59zM259.52 146.46h11.59v1.08h-11.59zM259.52 152.75h11.59v1.08h-11.59zM259.52 166.25h11.59v1.08h-11.59zM304.68 209h11.59v1h-11.59zM304.68 386.3h11.59v1.3h-11.59zM327.26 258.44h11.59v1.56h-11.59zM338.55 220.27h11.59v1h-11.59zM349.84 225.54h11.59v2h-11.59zM372.42 215.49h11.59v3h-11.59zM372.42 223.49h11.59v2h-11.59zM372.42 227.49h11.59v2h-11.59zM372.42 299.71h11.59v1.5h-11.59z"/>
<path fill="#f9d794" d="M169.19 387.5h11.59v3h-11.59zM180.48 421.1h11.59v1.5h-11.59zM180.48 427.1h11.59v0.1h-11.59zM191.77 337.59h11.59v1.5h-11.59zM191.77 389.4h11.59v1h-11.59zM248.23 399.3h11.59v0.9h-11.59zM327.26 387.73h11.59v3h-11.59zM327.26 393.73h11.59v1h-11.59zM338.55 86h11.59v1h-11.59zM349.84 429.44h11.59v2h-11.59zM372.42 301.21h11.59v1h-11.59z"/>
<path fill="#f8d797" d="M56.29 256.99h11.59v3h-11.59zM78.87 228.5h11.59v2h-11.59zM90.16 397.2h11.59v1.5h-11.59zM112.74 255.19h11.59v3h-11.59zM135.32 401.7h11.59v2h-11.59zM169.19 375h11.59v1h-11.59zM180.48 404h11.59v1.6h-11.59zM191.77 260h11.59v1.5h-11.59zM191.77 395.4h11.59v2h-11.59zM327.26 250.94h11.59v1h-11.59zM338.55 224.27h11.59v2h-11.59z"/>
<path fill="#f7d79a" d="M90.16 391.2h11.59v3h-11.59zM101.45 236.4h11.59v1h-11.59zM101.45 414.49h11.59v1.9h-11.59zM124.03 286.4h11.59v2h-11.59zM180.48 400h11.59v2h-11.59zM191.77 248.4h11.59v2h-11.59zM203.06 204.6h11.59v1h-11.59zM203.06 394.9h11.59v1h-11.59zM203.06 397.9h11.59v3h-11.59zM214.35 214.6h11.59v1.5h-11.59zM236.94 234.9h11.59v2h-11.59zM259.52 429.59h11.59v1.5h-11.59zM259.52 433.09h11.59v0.91h-11.59zM304.68 384.3h11.59v2h-11.59zM327.26 247.94h11.59v3h-11.59zM327.26 256.44h11.59v2h-11.59zM338.55 97.42h11.59v0.66h-11.59zM338.55 227.77h11.59v1h-11.59z"/>
<path fill="#f5d79c" d="M56.29 422.39h11.59v1.2h-11.59zM90.16 396.2h11.59v1h-11.59zM90.16 398.7h11.59v1h-11.59zM112.74 286.4h11.59v2h-11.59zM135.32 261.5h11.59v3h-11.59zM146.61 217.2h11.59v2h-11.59zM169.19 374.9h11.59v0.1h-11.59zM180.48 405.6h11.59v2h-11.59zM180.48 418.1h11.59v1h-11.59zM180.48 424.6h11.59v2.5h-11.59zM191.77 232.4h11.59v2h-11.59zM191.77 240.4h11.59v2h-11.59zM191.77 383.4h11.59v1h-11.59zM191.77 392.4h11.59v3h-11.59zM203.06 226h11.59v5h-11.59zM203.06 430.19h11.59v1h-11.59zM214.35 191.8h11.59v1.5h-11.59zM236.94 250.4h11.59v3h-11.59zM248.23 218h11.59v2h-11.59zM248.23 393.3h11.59v3h-11.59zM259.52 431.09h11.59v2h-11.59zM304.68 208h11.59v1h-11.59zM304.68 214h11.59v2h-11.59zM304.68 378.3h11.59v1.5h-11.59zM315.97 228.06h11.59v1.5h-11.59zM315.97 400.19h11.59v0.63h-11.59zM327.26 232.74h11.59v2h-11.59zM327.26 236.74h11.59v3h-11.59zM327.26 386.73h11.59v1h-11.59zM327.26 396.23h11.59v1.5h-11.59zM327.26 400.73h11.59v0.08h-11.59zM338.55 219.27h11.59v1h-11.59zM349.84 421.94h11.59v4.5h-11.59zM349.84 431.44h11.59v2.56h-11.59zM361.13 221.3h11.59v1h-11.59zM361.13 227.3h11.59v2h-11.59zM372.42 392.01h11.59v3h-11.59zM383.71 418.14h11.59v1h-11.59zM383.71 420.14h11.59v3h-11.59z"/>
<path fill="#f4d79f" d="M112.74 251.19h11.59v1h-11.59zM135.32 236.79h11.59v3h-11.59zM203.06 395.9h11.59v1h-11.59zM203.06 427.19h11.59v3h-11.59zM236.94 242.9h11.59v1.5h-11.59zM236.94 274.8h11.59v1.4h-11.59zM248.23 211h11.59v2h-11.59zM304.68 210h11.59v1h-11.59zM315.97 224.06h11.59v1h-11.59zM315.97 381.69h11.59v1.5h-11.59zM315.97 398.69h11.59v1.5h-11.59zM338.55 96.42h11.59v1h-11.59zM361.13 412.6h11.59v0.54h-11.59z"/>
<path fill="#f2d7a2" d="M45 86h11.59v1.5h-11.59zM112.74 283.4h11.59v3h-11.59zM135.32 260h11.59v1.5h-11.59zM180.48 375h11.59v1.5h-11.59zM180.48 407.6h11.59v3.5h-11.59zM180.48 415.1h11.59v3h-11.59zM180.48 419.1h11.59v2h-11.59zM327.26 390.73h11.59v3h-11.59zM349.84 427.44h11.59v1h-11.59zM383.71 427.14h11.59v1.85h-11.59z"/>
<path fill="#f1d7a4" d="M56.29 416.39h11.59v6h-11.59zM56.29 428.99h11.59v2h-11.59zM67.58 186.4h11.59v1h-11.59zM67.58 208h11.59v1.8h-11.59zM90.16 222.88h11.59v1h-11.59zM90.16 394.2h11.59v2h-11.59zM90.16 400.7h11.59v1.3h-11.59zM101.45 232.4h11.59v2h-11.59zM101.45 256.19h11.59v1h-11.59zM101.45 412.49h11.59v2h-11.59zM112.74 252.19h11.59v3h-11.59zM112.74 259.19h11.59v0.81h-11.59zM124.03 407.9h11.59v1h-11.59zM135.32 239.79h11.59v0.6h-11.59zM146.61 272.6h11.59v3h-11.59zM146.61 277.1h11.59v0.9h-11.59zM146.61 308.24h11.59v1.26h-11.59zM146.61 312.56h11.59v1.44h-11.59zM180.48 378.5h11.59v2h-11.59zM180.48 423.6h11.59v1h-11.59zM191.77 261.5h11.59v1h-11.59zM191.77 384.4h11.59v1h-11.59zM191.77 387.4h11.59v2h-11.59zM203.06 389.4h11.59v5.5h-11.59zM203.06 400.9h11.59v1.1h-11.59zM203.06 431.19h11.59v1.5h-11.59zM214.35 95.7h11.59v1.26h-11.59zM236.94 236.9h11.59v3h-11.59zM236.94 244.4h11.59v2h-11.59zM248.23 387.8h11.59v1.5h-11.59zM259.52 84h11.59v7.2h-11.59zM259.52 423.59h11.59v2h-11.59zM259.52 427.09h11.59v2.5h-11.59zM304.68 379.8h11.59v1.5h-11.59zM304.68 383.3h11.59v1h-11.59zM315.97 223.06h11.59v1h-11.59zM315.97 225.06h11.59v1h-11.59zM315.97 229.56h11.59v1h-11.59zM327.26 255.44h11.59v1h-11.59zM338.55 88.5h11.59v1.66h-11.59zM338.55 93.42h11.59v3h-11.59zM349.84 428.44h11.59v1h-11.59zM372.42 218.49h11.59v2h-11.59zM372.42 290.41h11.59v0.4h-11.59zM372.42 302.21h11.59v0.04h-11.59zM372.42 396.01h11.59v3h-11.59z"/>
<path fill="#efd6a7" d="M67.58 190.4h11.59v1h-11.59zM90.16 223.88h11.59v0.68h-11.59zM124.03 398.4h11.59v3h-11.59zM180.48 380.5h11.59v1.5h-11.59zM248.23 208h11.59v2h-11.59zM248.23 213h11.59v2h-11.59zM248.23 220h11.59v2h-11.59zM259.52 106.6h11.59v2h-11.59zM315.97 384.19h11.59v4h-11.59zM315.97 389.19h11.59v3h-11.59zM327.26 115.69h11.59v3h-11.59zM327.26 234.74h11.59v2h-11.59zM327.26 394.73h11.59v1.5h-11.59zM383.71 413.14h11.59v3h-11.59zM383.71 419.14h11.59v1h-11.59z"/>
<path fill="#eed6a9" d="M135.32 259.19h11.59v0.81h-11.59zM146.61 226.2h11.59v2h-11.59zM248.23 210h11.59v1h-11.59zM248.23 398.3h11.59v1h-11.59zM282.1 226h11.59v2h-11.59zM315.97 383.19h11.59v1h-11.59zM361.13 407.1h11.59v2h-11.59zM372.42 295.21h11.59v1h-11.59z"/>
<path fill="#ecd6ac" d="M56.29 248.19h11.59v2h-11.59zM56.29 430.99h11.59v1.5h-11.59zM101.45 410.99h11.59v1.5h-11.59zM135.32 400.2h11.59v1.5h-11.59zM191.77 380.4h11.59v3h-11.59zM191.77 385.4h11.59v2h-11.59zM248.23 385.8h11.59v2h-11.59zM259.52 425.59h11.59v1.5h-11.59zM315.97 226.06h11.59v2h-11.59zM327.26 399.73h11.59v1h-11.59zM338.55 84h11.59v2h-11.59zM372.42 286.41h11.59v2h-11.59zM372.42 289.41h11.59v1h-11.59zM372.42 296.21h11.59v1.5h-11.59z"/>
<path fill="#ebd6ae" d="M56.29 242.19h11.59v1h-11.59zM112.74 397.8h11.59v1h-11.59zM124.03 408.9h11.59v0.3h-11.59zM135.32 254.69h11.59v1h-11.59zM135.32 266.9h11.59v2h-11.59zM146.61 219.2h11.59v1h-11.59zM146.61 221.2h11.59v1.5h-11.59zM146.61 224.7h11.59v1.5h-11.59zM146.61 275.6h11.59v1.5h-11.59zM157.9 393h11.59v2h-11.59zM169.19 331.99h11.59v1.5h-11.59zM180.48 413.1h11.59v2h-11.59zM203.06 231h11.59v0.4h-11.59zM203.06 432.69h11.59v1.31h-11.59zM248.23 389.3h11.59v1h-11.59zM259.52 108.6h11.59v2h-11.59zM259.52 113.6h11.59v5.5h-11.59zM259.52 120.1h11.59v2.5h-11.59zM282.1 218h11.59v3h-11.59zM304.68 433.19h11.59v0.81h-11.59zM315.97 215.13h11.59v3h-11.59zM315.97 230.56h11.59v1.3h-11.59zM315.97 379.69h11.59v2h-11.59zM315.97 388.19h11.59v1h-11.59zM315.97 394.19h11.59v4.5h-11.59zM327.26 239.74h11.59v6.2h-11.59zM338.55 87h11.59v1.5h-11.59zM361.13 406.1h11.59v1h-11.59zM361.13 409.1h11.59v2.5h-11.59zM372.42 297.71h11.59v2h-11.59zM372.42 395.01h11.59v1h-11.59zM383.71 416.14h11.59v2h-11.59z"/>
<path fill="#e9d6b1" d="M56.29 252.19h11.59v0.8h-11.59zM90.16 399.7h11.59v1h-11.59zM101.45 259.19h11.59v0.81h-11.59zM225.65 403.5h11.59v1.5h-11.59zM225.65 407h11.59v3h-11.59zM248.23 390.3h11.59v1h-11.59zM270.81 213.1h11.59v2h-11.59zM293.39 230.2h11.59v1h-11.59zM304.68 381.3h11.59v2h-11.59z"/>
<path fill="#e8d6b3" d="M45 84h11.59v2h-11.59zM90.16 219.88h11.59v3h-11.59zM112.74 258.19h11.59v1h-11.59zM124.03 406.4h11.59v1.5h-11.59zM135.32 403.7h11.59v1.9h-11.59zM169.19 278.3h11.59v1h-11.59zM169.19 313.2h11.59v1.5h-11.59zM225.65 430.5h11.59v1h-11.59zM236.94 270.8h11.59v4h-11.59zM248.23 215h11.59v3h-11.59zM259.52 119.1h11.59v1h-11.59zM270.81 204.6h11.59v1h-11.59zM293.39 227.2h11.59v3h-11.59zM304.68 376.8h11.59v1.5h-11.59zM361.13 411.6h11.59v1h-11.59zM372.42 401.01h11.59v1h-11.59z"/>
<path fill="#e6d6b6" d="M56.29 195.4h11.59v3h-11.59zM56.29 428.09h11.59v0.9h-11.59zM56.29 432.49h11.59v1.5h-11.59zM67.58 187.4h11.59v1h-11.59zM67.58 194.4h11.59v1h-11.59zM101.45 242.39h11.59v2h-11.59zM101.45 257.19h11.59v1h-11.59zM112.74 260h11.59v1.8h-11.59zM112.74 394.8h11.59v2h-11.59zM112.74 400.8h11.59v5h-11.59zM112.74 407.3h11.59v0.1h-11.59zM124.03 106.5h11.59v1.8h-11.59zM124.03 403.4h11.59v3h-11.59zM135.32 251.19h11.59v2.5h-11.59zM135.32 255.69h11.59v2h-11.59zM146.61 222.7h11.59v2h-11.59zM157.9 396h11.59v1h-11.59zM157.9 399h11.59v3h-11.59zM169.19 229.2h11.59v0.4h-11.59zM169.19 371.4h11.59v1h-11.59zM191.77 262.5h11.59v1h-11.59zM203.06 396.9h11.59v1h-11.59zM225.65 229h11.59v1h-11.59zM248.23 222h11.59v2.2h-11.59zM248.23 396.3h11.59v2h-11.59zM248.23 407.78h11.59v3h-11.59zM259.52 122.6h11.59v4h-11.59zM270.81 202.6h11.59v2h-11.59zM282.1 217h11.59v1h-11.59zM282.1 221h11.59v1.5h-11.59zM282.1 224.5h11.59v1.5h-11.59zM293.39 86h11.59v1.6h-11.59zM293.39 98.4h11.59v1.8h-11.59zM293.39 405h11.59v1h-11.59zM304.68 429.19h11.59v4h-11.59zM327.26 118.69h11.59v5h-11.59zM327.26 192.25h11.59v1.76h-11.59zM338.55 91.92h11.59v1.5h-11.59zM372.42 288.41h11.59v1h-11.59zM372.42 399.01h11.59v2h-11.59z"/>
<path fill="#e4d5b8" d="M101.45 265.1h11.59v1.5h-11.59zM135.32 240.39h11.59v1h-11.59zM146.61 228.2h11.59v1.4h-11.59zM169.19 275.8h11.59v1.5h-11.59zM169.19 333.49h11.59v2.1h-11.59zM169.19 373.4h11.59v1.5h-11.59zM225.65 416h11.59v2h-11.59zM225.65 426.5h11.59v2h-11.59zM282.1 192h11.59v1.6h-11.59zM282.1 423.49h11.59v3h-11.59zM293.39 225.2h11.59v2h-11.59zM293.39 231.2h11.59v1h-11.59zM315.97 392.19h11.59v2h-11.59zM327.26 412.1h11.59v3h-11.59zM372.42 402.01h11.59v0.56h-11.59z"/>
<path fill="#e1d4bb" d="M45 87.5h11.59v1.36h-11.59zM45 97.56h11.59v2h-11.59zM56.29 426.59h11.59v1.5h-11.59zM101.45 266.6h11.59v1h-11.59zM225.65 418h11.59v1.5h-11.59zM248.23 402.78h11.59v2h-11.59zM259.52 105.6h11.59v1h-11.59zM282.1 432.49h11.59v1.51h-11.59zM293.39 406h11.59v1.5h-11.59z"/>
<path fill="#dfd4bd" d="M56.29 198.4h11.59v0.6h-11.59zM67.58 188.4h11.59v2h-11.59zM90.16 352h11.59v1h-11.59zM101.45 251.19h11.59v3h-11.59zM101.45 258.19h11.59v1h-11.59zM112.74 396.8h11.59v1h-11.59zM112.74 405.8h11.59v1.5h-11.59zM135.32 257.69h11.59v1.5h-11.59zM157.9 397h11.59v2h-11.59zM169.19 224.2h11.59v2h-11.59zM169.19 372.4h11.59v1h-11.59zM236.94 88h11.59v2h-11.59zM248.23 206.9h11.59v1.1h-11.59zM248.23 422.28h11.59v1.32h-11.59zM282.1 222.5h11.59v2h-11.59zM282.1 230h11.59v1.4h-11.59zM293.39 426.5h11.59v1h-11.59zM304.68 427.19h11.59v2h-11.59z"/>
<path fill="#dcd3c0" d="M45 99.56h11.59v0.1h-11.59zM56.29 243.19h11.59v3h-11.59zM56.29 423.59h11.59v3h-11.59zM67.58 84h11.59v1.26h-11.59zM67.58 191.4h11.59v1h-11.59zM101.45 240.39h11.59v2h-11.59zM124.03 401.4h11.59v2h-11.59zM135.32 246.89h11.59v0.7h-11.59zM135.32 265.4h11.59v1.5h-11.59zM146.61 215.2h11.59v2h-11.59zM146.61 220.2h11.59v1h-11.59zM157.9 410.5h11.59v0.5h-11.59zM169.19 247.59h11.59v1.8h-11.59zM169.19 273.8h11.59v2h-11.59zM169.19 277.3h11.59v1h-11.59zM169.19 279.3h11.59v0.5h-11.59zM169.19 314.7h11.59v1.1h-11.59zM191.77 84h11.59v1.8h-11.59zM225.65 172h11.59v0.9h-11.59zM225.65 230h11.59v1.4h-11.59zM225.65 402h11.59v1.5h-11.59zM225.65 405h11.59v2h-11.59zM225.65 411h11.59v5h-11.59zM225.65 419.5h11.59v6h-11.59zM225.65 431.5h11.59v2.5h-11.59zM236.94 176.6h11.59v1.7h-11.59zM248.23 411.78h11.59v4h-11.59zM259.52 110.6h11.59v3h-11.59zM259.52 126.6h11.59v1.5h-11.59zM270.81 205.6h11.59v6h-11.59zM282.1 421.99h11.59v1.5h-11.59zM293.39 224.2h11.59v1h-11.59zM293.39 232.2h11.59v2.8h-11.59zM304.68 200.8h11.59v3h-11.59zM304.68 205.3h11.59v2.7h-11.59zM315.97 218.13h11.59v3h-11.59zM315.97 222.63h11.59v0.42h-11.59zM372.42 402.58h11.59v5h-11.59z"/>
<path fill="#dad2c2" d="M67.58 192.4h11.59v1h-11.59zM101.45 244.39h11.59v1.4h-11.59zM112.74 398.8h11.59v2h-11.59zM146.61 399.4h11.59v1h-11.59zM157.9 409h11.59v1.5h-11.59zM293.39 422h11.59v2.5h-11.59zM293.39 428.5h11.59v3h-11.59zM327.26 123.69h11.59v0.8h-11.59z"/>
<path fill="#d8d1c4" d="M45 90.86h11.59v1h-11.59zM56.29 229.3h11.59v0.3h-11.59zM56.29 250.19h11.59v2h-11.59zM90.16 409h11.59v0.2h-11.59zM124.03 410.7h11.59v1h-11.59zM157.9 209.9h11.59v2h-11.59zM169.19 226.2h11.59v3h-11.59zM203.06 423.59h11.59v2h-11.59zM236.94 422.79h11.59v0.8h-11.59zM248.23 426.09h11.59v2h-11.59zM248.23 431.09h11.59v2.91h-11.59zM270.81 215.1h11.59v1.5h-11.59zM304.68 396.6h11.59v2h-11.59zM315.97 221.13h11.59v1.5h-11.59zM327.26 213.69h11.59v1.5h-11.59zM338.55 170.7h11.59v1.3h-11.59z"/>
<path fill="#d5d0c7" d="M56.29 96.06h11.59v1.8h-11.59zM56.29 121.8h11.59v1.8h-11.59zM56.29 219.8h11.59v5h-11.59zM56.29 246.19h11.59v2h-11.59zM67.58 193.4h11.59v1h-11.59zM90.16 263.5h11.59v1.5h-11.59zM90.16 349.5h11.59v1.5h-11.59zM90.16 353h11.59v2.2h-11.59zM90.16 403.5h11.59v1.5h-11.59zM90.16 407h11.59v2h-11.59zM101.45 227.8h11.59v3.6h-11.59zM101.45 254.19h11.59v2h-11.59zM124.03 278h11.59v1h-11.59zM124.03 280.5h11.59v2.9h-11.59zM135.32 241.39h11.59v5.5h-11.59zM135.32 253.69h11.59v1h-11.59zM135.32 268.9h11.59v1.9h-11.59zM146.61 400.4h11.59v1h-11.59zM157.9 208.9h11.59v1h-11.59zM157.9 395h11.59v1h-11.59zM157.9 402h11.59v1h-11.59zM157.9 406.5h11.59v1h-11.59zM169.19 234.99h11.59v1.8h-11.59zM169.19 405h11.59v0.6h-11.59zM214.35 418.79h11.59v1.2h-11.59zM225.65 428.5h11.59v1h-11.59zM236.94 87h11.59v1h-11.59zM236.94 90h11.59v1h-11.59zM236.94 421.79h11.59v1h-11.59zM248.23 201.4h11.59v2h-11.59zM248.23 404.78h11.59v3h-11.59zM282.1 228h11.59v2h-11.59zM282.1 419.99h11.59v2h-11.59zM282.1 426.49h11.59v4h-11.59zM293.39 84h11.59v2h-11.59zM293.39 402h11.59v3h-11.59zM293.39 410.5h11.59v3.5h-11.59zM293.39 420h11.59v2h-11.59zM293.39 427.5h11.59v1h-11.59zM293.39 431.5h11.59v2.5h-11.59zM304.68 203.8h11.59v1.5h-11.59zM304.68 404.6h11.59v2h-11.59zM327.26 408.1h11.59v1h-11.59zM327.26 411.1h11.59v1h-11.59zM327.26 415.1h11.59v3.32h-11.59zM338.55 202.65h11.59v1h-11.59zM372.42 407.58h11.59v1h-11.59z"/>
<path fill="#d3d0c9" d="M45 93.36h11.59v4.2h-11.59zM112.74 244.89h11.59v0.9h-11.59zM169.19 312.2h11.59v1h-11.59zM180.48 280.2h11.59v1h-11.59zM225.65 226h11.59v3h-11.59zM225.65 410h11.59v1h-11.59zM270.81 211.6h11.59v1.5h-11.59zM282.1 190h11.59v2h-11.59zM304.68 389.1h11.59v2h-11.59zM304.68 394.6h11.59v2h-11.59zM304.68 398.6h11.59v2h-11.59zM327.26 216.19h11.59v1h-11.59zM338.55 164.7h11.59v1h-11.59z"/>
<path fill="#d0cfcc" d="M78.87 418.79h11.59v1h-11.59zM78.87 430.29h11.59v1.5h-11.59zM90.16 110.3h11.59v0.7h-11.59zM101.45 263.6h11.59v1.5h-11.59zM112.74 242.39h11.59v2.5h-11.59zM169.19 263h11.59v0.6h-11.59zM180.48 427.19h11.59v3h-11.59zM236.94 84h11.59v2h-11.59zM248.23 428.09h11.59v2h-11.59zM270.81 216.6h11.59v2.2h-11.59zM293.39 416h11.59v1h-11.59zM293.39 425.5h11.59v1h-11.59zM315.97 409.32h11.59v3h-11.59zM327.26 112.87h11.59v1.5h-11.59zM372.42 294.31h11.59v0.9h-11.59z"/>
<path fill="#cecece" d="M56.29 224.8h11.59v3h-11.59zM90.16 261h11.59v1.5h-11.59zM90.16 348h11.59v1.5h-11.59zM90.16 351h11.59v1h-11.59zM90.16 405h11.59v2h-11.59zM124.03 279h11.59v1.5h-11.59zM146.61 413.4h11.59v1h-11.59zM157.9 386.4h11.59v2h-11.59zM225.65 429.5h11.59v1h-11.59zM236.94 415.79h11.59v2h-11.59zM236.94 418.79h11.59v3h-11.59zM248.23 195.4h11.59v4h-11.59zM248.23 204.9h11.59v2h-11.59zM248.23 410.78h11.59v1h-11.59zM248.23 415.78h11.59v1h-11.59zM293.39 414h11.59v2h-11.59zM304.68 393.1h11.59v1.5h-11.59zM304.68 406.6h11.59v2h-11.59zM327.26 207.69h11.59v2h-11.59z"/>
<path fill="#cccdcf" d="M101.45 267.6h11.59v1.4h-11.59zM112.74 240.39h11.59v2h-11.59zM124.03 414.7h11.59v3h-11.59zM146.61 401.4h11.59v1h-11.59zM157.9 382.4h11.59v1h-11.59zM169.19 270.8h11.59v3h-11.59zM169.19 323.4h11.59v1.4h-11.59zM180.48 285.2h11.59v1.8h-11.59zM225.65 425.5h11.59v1h-11.59zM236.94 86h11.59v1h-11.59zM236.94 175.6h11.59v1h-11.59zM293.39 417h11.59v3h-11.59zM315.97 402.32h11.59v3h-11.59zM315.97 417.82h11.59v1.5h-11.59zM315.97 429.23h11.59v1.5h-11.59zM327.26 409.1h11.59v2h-11.59zM338.55 200.65h11.59v2h-11.59zM372.42 408.58h11.59v1.04h-11.59z"/>
<path fill="#caccd0" d="M45 88.86h11.59v2h-11.59zM78.87 427.29h11.59v3h-11.59zM90.16 108.3h11.59v2h-11.59zM112.74 409.4h11.59v3.5h-11.59zM112.74 414.4h11.59v1h-11.59zM135.32 412.79h11.59v1h-11.59zM146.61 402.4h11.59v3h-11.59zM157.9 405h11.59v1.5h-11.59zM169.19 319.4h11.59v4h-11.59zM180.48 433.69h11.59v0.31h-11.59zM214.35 412.79h11.59v2h-11.59zM214.35 416.79h11.59v2h-11.59zM248.23 203.4h11.59v1.5h-11.59zM248.23 416.78h11.59v5.5h-11.59zM293.39 407.5h11.59v3h-11.59zM293.39 424.5h11.59v1h-11.59zM315.97 430.73h11.59v1.5h-11.59zM327.26 109.87h11.59v1h-11.59z"/>
<path fill="#c8ccd1" d="M56.29 218.8h11.59v1h-11.59zM78.87 412.79h11.59v2h-11.59zM78.87 423.29h11.59v4h-11.59zM90.16 265h11.59v1h-11.59zM90.16 267h11.59v1.5h-11.59zM101.45 430.69h11.59v3.31h-11.59zM112.74 384h11.59v1.8h-11.59zM124.03 123h11.59v0.6h-11.59zM124.03 260h11.59v1.8h-11.59zM124.03 411.7h11.59v3h-11.59zM124.03 419.2h11.59v0.8h-11.59zM146.61 398.4h11.59v1h-11.59zM157.9 211.9h11.59v0.6h-11.59zM157.9 380.4h11.59v2h-11.59zM157.9 383.4h11.59v1h-11.59zM157.9 388.4h11.59v4.5h-11.59zM169.19 402h11.59v3h-11.59zM180.48 279.2h11.59v1h-11.59zM180.48 283.2h11.59v2h-11.59zM203.06 426.59h11.59v0.6h-11.59zM236.94 412.79h11.59v3h-11.59zM248.23 401.28h11.59v1.5h-11.59zM248.23 430.09h11.59v1h-11.59zM282.1 430.49h11.59v2h-11.59zM304.68 387.6h11.59v1.5h-11.59zM304.68 402.6h11.59v2h-11.59zM304.68 410.6h11.59v2h-11.59zM327.26 203.69h11.59v2h-11.59zM327.26 209.69h11.59v4h-11.59zM327.26 217.19h11.59v0.58h-11.59zM327.26 418.42h11.59v3.5h-11.59zM338.55 160.7h11.59v4h-11.59zM338.55 168.7h11.59v2h-11.59zM338.55 196.65h11.59v2h-11.59zM338.55 205.15h11.59v2h-11.59zM338.55 210.15h11.59v7.63h-11.59zM361.13 422.64h11.59v3h-11.59zM361.13 432.64h11.59v1.36h-11.59zM372.42 290.81h11.59v1h-11.59z"/>
<path fill="#c6cbd2" d="M56.29 227.8h11.59v1.5h-11.59zM78.87 415.79h11.59v3h-11.59zM90.16 402h11.59v1.5h-11.59zM135.32 419.79h11.59v0.2h-11.59zM146.61 405.4h11.59v2h-11.59zM180.48 431.69h11.59v2h-11.59zM214.35 414.79h11.59v2h-11.59zM236.94 91h11.59v0.2h-11.59zM327.26 406.1h11.59v2h-11.59zM361.13 417.64h11.59v2h-11.59z"/>
<path fill="#c4cad3" d="M101.45 85.5h11.59v3h-11.59zM101.45 429.69h11.59v1h-11.59zM124.03 120h11.59v1h-11.59zM157.9 392.9h11.59v0.1h-11.59zM157.9 403h11.59v2h-11.59zM157.9 407.5h11.59v1.5h-11.59zM169.19 250.89h11.59v2h-11.59zM180.48 270.8h11.59v2h-11.59zM191.77 422.6h11.59v2h-11.59zM191.77 430.1h11.59v1h-11.59zM248.23 103h11.59v1.5h-11.59zM248.23 199.4h11.59v1h-11.59zM248.23 425.09h11.59v1h-11.59zM338.55 165.7h11.59v3h-11.59zM338.55 198.65h11.59v2h-11.59z"/>
<path fill="#c2c9d4" d="M78.87 433.79h11.59v0.21h-11.59zM90.16 266h11.59v1h-11.59zM112.74 407.4h11.59v2h-11.59zM112.74 412.9h11.59v1.5h-11.59zM112.74 415.4h11.59v3h-11.59zM135.32 416.79h11.59v3h-11.59zM146.61 409.4h11.59v3h-11.59zM146.61 417.9h11.59v1.5h-11.59zM180.48 276.2h11.59v3h-11.59zM180.48 281.2h11.59v1h-11.59zM180.48 430.19h11.59v1.5h-11.59zM191.77 427.6h11.59v1h-11.59zM203.06 425.59h11.59v1h-11.59zM236.94 417.79h11.59v1h-11.59zM304.68 217h11.59v1h-11.59zM304.68 219.5h11.59v2.5h-11.59zM304.68 224h11.59v2h-11.59zM315.97 412.32h11.59v4h-11.59zM315.97 427.23h11.59v1h-11.59zM315.97 432.23h11.59v1.77h-11.59zM327.26 107.37h11.59v1.5h-11.59zM327.26 110.87h11.59v2h-11.59zM361.13 416.64h11.59v1h-11.59z"/>
<path fill="#c0c8d5" d="M124.03 121h11.59v2h-11.59zM157.9 384.4h11.59v2h-11.59zM169.19 234.6h11.59v0.4h-11.59zM169.19 242.79h11.59v2h-11.59zM180.48 282.2h11.59v1h-11.59zM191.77 428.6h11.59v1.5h-11.59zM248.23 200.4h11.59v1h-11.59zM304.68 391.1h11.59v2h-11.59zM304.68 408.6h11.59v2h-11.59zM304.68 412.6h11.59v0.2h-11.59zM327.26 215.19h11.59v1h-11.59zM338.55 159.7h11.59v1h-11.59zM338.55 203.65h11.59v1.5h-11.59zM361.13 426.64h11.59v2h-11.59zM372.42 291.81h11.59v1.5h-11.59zM372.42 419.12h11.59v2h-11.59z"/>
<path fill="#bec8d7" d="M45 91.86h11.59v1.5h-11.59zM90.16 84h11.59v2h-11.59zM90.16 260h11.59v1h-11.59zM112.74 206.2h11.59v2h-11.59zM112.74 211.2h11.59v1h-11.59zM124.03 417.7h11.59v1.5h-11.59zM135.32 247.59h11.59v1h-11.59zM146.61 407.4h11.59v1h-11.59zM191.77 413.6h11.59v1h-11.59zM214.35 203.8h11.59v1h-11.59zM248.23 104.5h11.59v3h-11.59zM248.23 162.5h11.59v2h-11.59zM282.1 199.1h11.59v3h-11.59zM282.1 213.6h11.59v2h-11.59zM304.68 400.6h11.59v1h-11.59zM315.97 189.61h11.59v4.5h-11.59zM327.26 135.49h11.59v1h-11.59zM327.26 139.49h11.59v2h-11.59zM327.26 178.5h11.59v1h-11.59zM327.26 205.69h11.59v2h-11.59z"/>
<path fill="#bcc7d8" d="M45 101.66h11.59v1.5h-11.59zM56.29 186.4h11.59v3.5h-11.59zM56.29 190.9h11.59v4.5h-11.59zM78.87 419.79h11.59v2h-11.59zM101.45 428.69h11.59v1h-11.59zM124.03 211.06h11.59v3.5h-11.59zM124.03 217.56h11.59v0.52h-11.59zM124.03 409.2h11.59v1.5h-11.59zM135.32 248.59h11.59v2h-11.59zM169.19 92.5h11.59v1.4h-11.59zM169.19 239.79h11.59v2h-11.59zM180.48 260h11.59v1h-11.59zM180.48 264h11.59v2h-11.59zM180.48 272.8h11.59v1.5h-11.59zM191.77 408.6h11.59v2h-11.59zM203.06 121.92h11.59v0.06h-11.59zM248.23 127h11.59v1h-11.59zM248.23 129.5h11.59v1h-11.59zM248.23 178.5h11.59v2h-11.59zM282.1 87h11.59v1h-11.59zM282.1 195.6h11.59v1.5h-11.59zM282.1 207.1h11.59v1.5h-11.59zM304.68 226h11.59v2h-11.59zM304.68 401.6h11.59v1h-11.59zM315.97 416.32h11.59v1.5h-11.59zM315.97 419.32h11.59v2.63h-11.59zM327.26 421.92h11.59v2h-11.59zM327.26 426.92h11.59v2.06h-11.59zM338.55 174h11.59v3h-11.59zM361.13 415.14h11.59v1.5h-11.59zM361.13 419.64h11.59v3h-11.59zM372.42 293.31h11.59v1h-11.59zM372.42 417.12h11.59v2h-11.59zM372.42 430.99h11.59v1.5h-11.59z"/>
<path fill="#bac6d9" d="M56.29 86h11.59v1h-11.59zM67.58 182.9h11.59v2h-11.59zM90.16 262.5h11.59v1h-11.59zM90.16 268.5h11.59v0.5h-11.59zM90.16 414.7h11.59v3h-11.59zM101.45 84h11.59v1.5h-11.59zM101.45 427.19h11.59v1.5h-11.59zM112.74 213.2h11.59v0.2h-11.59zM146.61 408.4h11.59v1h-11.59zM146.61 412.4h11.59v1h-11.59zM146.61 414.4h11.59v1.5h-11.59zM169.19 236.79h11.59v1.5h-11.59zM191.77 414.6h11.59v1h-11.59zM203.06 120.42h11.59v1.5h-11.59zM225.65 215.2h11.59v1.5h-11.59zM248.23 98h11.59v1.5h-11.59zM248.23 423.59h11.59v1.5h-11.59zM304.68 413.79h11.59v1.5h-11.59zM315.97 408.32h11.59v1h-11.59zM315.97 428.23h11.59v1h-11.59zM327.26 103.37h11.59v3h-11.59zM327.26 108.87h11.59v1h-11.59zM327.26 142.49h11.59v1h-11.59zM327.26 187h11.59v3h-11.59zM327.26 223.77h11.59v2h-11.59zM338.55 207.15h11.59v3h-11.59z"/>
<path fill="#b8c5da" d="M56.29 89h11.59v2.2h-11.59zM56.29 189.9h11.59v1h-11.59zM56.29 199h11.59v2h-11.59zM78.87 414.79h11.59v1h-11.59zM78.87 431.79h11.59v2h-11.59zM90.16 410.2h11.59v1h-11.59zM90.16 426.7h11.59v3h-11.59zM112.74 247.79h11.59v2h-11.59zM112.74 430.99h11.59v3.01h-11.59zM146.61 229.6h11.59v3h-11.59zM146.61 419.4h11.59v0.6h-11.59zM191.77 199h11.59v1.5h-11.59zM191.77 217h11.59v2h-11.59zM203.06 206.2h11.59v1h-11.59zM214.35 419.99h11.59v3h-11.59zM236.94 230.5h11.59v0.9h-11.59zM248.23 173h11.59v1h-11.59zM248.23 176h11.59v1h-11.59zM248.23 191h11.59v1h-11.59zM270.81 145h11.59v1h-11.59zM270.81 196.7h11.59v1.5h-11.59zM282.1 88h11.59v2h-11.59zM293.39 88.6h11.59v2h-11.59zM293.39 93.6h11.59v1h-11.59zM315.97 186.06h11.59v1h-11.59zM315.97 198.61h11.59v1.56h-11.59zM315.97 400.82h11.59v1.5h-11.59zM315.97 405.32h11.59v3h-11.59zM327.26 124.49h11.59v1h-11.59zM327.26 164.99h11.59v1h-11.59zM327.26 430.99h11.59v1h-11.59zM338.55 109.08h11.59v3h-11.59zM338.55 150.58h11.59v2h-11.59zM338.55 172h11.59v2h-11.59zM338.55 193.5h11.59v0.51h-11.59zM372.42 209.17h11.59v3h-11.59z"/>
<path fill="#b6c4db" d="M45 100.66h11.59v1h-11.59zM45 104.66h11.59v6.88h-11.59zM56.29 205.5h11.59v1h-11.59zM56.29 212h11.59v2h-11.59zM78.87 421.79h11.59v1.5h-11.59zM90.16 86h11.59v1.6h-11.59zM90.16 411.2h11.59v1.5h-11.59zM90.16 421.7h11.59v3h-11.59zM112.74 208.2h11.59v3h-11.59zM112.74 212.2h11.59v1h-11.59zM112.74 249.79h11.59v1.4h-11.59zM124.03 214.56h11.59v3h-11.59zM124.03 250.49h11.59v0.7h-11.59zM146.61 232.6h11.59v0.6h-11.59zM169.19 233.6h11.59v1h-11.59zM169.19 244.79h11.59v2.8h-11.59zM169.19 249.39h11.59v1.5h-11.59zM169.19 254.89h11.59v2h-11.59zM169.19 257.89h11.59v2.11h-11.59zM180.48 274.3h11.59v1.9h-11.59zM191.77 96.6h11.59v2h-11.59zM191.77 406.6h11.59v2h-11.59zM191.77 410.6h11.59v2h-11.59zM191.77 415.6h11.59v5h-11.59zM191.77 424.6h11.59v3h-11.59zM191.77 431.1h11.59v2h-11.59zM203.06 208.2h11.59v2h-11.59zM214.35 201.8h11.59v2h-11.59zM214.35 206.8h11.59v4.8h-11.59zM248.23 93h11.59v5h-11.59zM248.23 108.5h11.59v5.5h-11.59zM248.23 119h11.59v8h-11.59zM248.23 128h11.59v1.5h-11.59zM248.23 130.5h11.59v2.5h-11.59zM248.23 135h11.59v1.2h-11.59zM248.23 142h11.59v1h-11.59zM248.23 155h11.59v2h-11.59zM248.23 164.5h11.59v2h-11.59zM248.23 183.5h11.59v1h-11.59zM282.1 84h11.59v2h-11.59zM304.68 218h11.59v1.5h-11.59zM304.68 229.5h11.59v0.1h-11.59zM315.97 194.11h11.59v1.5h-11.59zM315.97 202.17h11.59v1h-11.59zM315.97 207.17h11.59v2.68h-11.59zM327.26 106.37h11.59v1h-11.59zM327.26 127.49h11.59v1h-11.59zM327.26 153.99h11.59v1.5h-11.59zM327.26 165.99h11.59v2h-11.59zM327.26 195.01h11.59v1.5h-11.59zM327.26 225.77h11.59v3h-11.59zM327.26 402.82h11.59v3h-11.59zM338.55 102.08h11.59v1h-11.59zM338.55 139.08h11.59v1.5h-11.59zM338.55 141.58h11.59v2h-11.59zM361.13 414.14h11.59v1h-11.59zM372.42 409.62h11.59v3.5h-11.59zM372.42 432.49h11.59v1.51h-11.59z"/>
<path fill="#b4c4dc" d="M56.29 104.36h11.59v1h-11.59zM112.74 418.4h11.59v1.6h-11.59zM124.03 431.99h11.59v1h-11.59zM135.32 414.79h11.59v2h-11.59zM146.61 209.5h11.59v1h-11.59zM146.61 415.9h11.59v2h-11.59zM157.9 431.49h11.59v1h-11.59zM169.19 84h11.59v2h-11.59zM169.19 260h11.59v3h-11.59zM214.35 430.99h11.59v1h-11.59zM225.65 218.2h11.59v0.6h-11.59zM248.23 139h11.59v3h-11.59zM248.23 150h11.59v2h-11.59zM270.81 138h11.59v2h-11.59zM270.81 193.2h11.59v1.5h-11.59zM304.68 222h11.59v2h-11.59zM304.68 228h11.59v1.5h-11.59zM304.68 425.29h11.59v1.9h-11.59zM315.97 197.11h11.59v1.5h-11.59zM327.26 114.37h11.59v1.32h-11.59zM327.26 167.99h11.59v1h-11.59zM327.26 423.92h11.59v1h-11.59zM338.55 127.08h11.59v1h-11.59zM338.55 152.58h11.59v1.5h-11.59zM361.13 425.64h11.59v1h-11.59zM361.13 428.64h11.59v4h-11.59z"/>
<path fill="#b2c3dd" d="M45 99.66h11.59v1h-11.59zM124.03 423.99h11.59v2h-11.59zM135.32 250.59h11.59v0.6h-11.59zM157.9 418.99h11.59v2h-11.59zM169.19 256.89h11.59v1h-11.59zM191.77 95.8h11.59v0.8h-11.59zM191.77 98.6h11.59v0.7h-11.59zM225.65 93h11.59v1.5h-11.59zM248.23 114h11.59v1h-11.59zM270.81 95h11.59v2h-11.59zM270.81 150h11.59v1h-11.59zM270.81 190.2h11.59v2h-11.59zM293.39 87.6h11.59v1h-11.59zM293.39 94.6h11.59v3.8h-11.59zM338.55 122.08h11.59v2h-11.59zM338.55 154.08h11.59v2h-11.59zM372.42 212.17h11.59v0.32h-11.59zM372.42 428.99h11.59v2h-11.59z"/>
<path fill="#b0c2de" d="M45 120h11.59v2.34h-11.59zM56.29 84h11.59v2h-11.59zM56.29 88h11.59v1h-11.59zM56.29 99.86h11.59v1.5h-11.59zM56.29 113.36h11.59v3h-11.59zM56.29 120.36h11.59v1.44h-11.59zM56.29 210h11.59v2h-11.59zM56.29 215h11.59v3.8h-11.59zM67.58 181.9h11.59v1h-11.59zM67.58 184.9h11.59v1.5h-11.59zM78.87 231.4h11.59v2h-11.59zM90.16 211.96h11.59v1.8h-11.59zM90.16 417.7h11.59v1h-11.59zM90.16 432.7h11.59v1.3h-11.59zM112.74 427.99h11.59v3h-11.59zM124.03 248.49h11.59v2h-11.59zM135.32 413.79h11.59v1h-11.59zM157.9 172h11.59v1.8h-11.59zM169.19 86h11.59v1.5h-11.59zM169.19 90.5h11.59v2h-11.59zM169.19 229.6h11.59v2h-11.59zM191.77 209h11.59v1.5h-11.59zM203.06 118.92h11.59v1.5h-11.59zM203.06 214.2h11.59v2.8h-11.59zM214.35 172h11.59v1.8h-11.59zM214.35 204.8h11.59v2h-11.59zM214.35 230.3h11.59v1h-11.59zM214.35 431.99h11.59v1h-11.59zM225.65 216.7h11.59v1.5h-11.59zM236.94 200.8h11.59v1h-11.59zM236.94 213.8h11.59v1h-11.59zM236.94 226h11.59v1h-11.59zM236.94 229h11.59v1.5h-11.59zM236.94 431.59h11.59v2.41h-11.59zM248.23 118h11.59v1h-11.59zM248.23 152h11.59v3h-11.59zM248.23 157h11.59v1.5h-11.59zM248.23 159.5h11.59v3h-11.59zM248.23 169.5h11.59v3.5h-11.59zM248.23 177h11.59v1.5h-11.59zM248.23 189h11.59v2h-11.59zM270.81 155h11.59v4h-11.59zM270.81 169.49h11.59v2h-11.59zM270.81 201.2h11.59v1.4h-11.59zM282.1 86h11.59v1h-11.59zM282.1 197.1h11.59v2h-11.59zM282.1 204.1h11.59v3h-11.59zM282.1 208.6h11.59v3h-11.59zM282.1 215.6h11.59v1.4h-11.59zM293.39 90.6h11.59v1h-11.59zM293.39 190h11.59v1.8h-11.59zM293.39 216.9h11.59v2h-11.59zM304.68 195.6h11.59v2h-11.59zM304.68 416.79h11.59v3h-11.59zM304.68 420.79h11.59v2.5h-11.59zM315.97 182.56h11.59v2h-11.59zM315.97 187.06h11.59v2.54h-11.59zM315.97 421.94h11.59v1h-11.59zM327.26 125.49h11.59v2h-11.59zM327.26 128.49h11.59v1h-11.59zM327.26 132.49h11.59v2h-11.59zM327.26 136.49h11.59v3h-11.59zM327.26 143.49h11.59v6h-11.59zM327.26 150.49h11.59v3.5h-11.59zM327.26 155.49h11.59v6h-11.59zM327.26 168.99h11.59v4.51h-11.59zM327.26 179.5h11.59v1h-11.59zM327.26 182.5h11.59v1.5h-11.59zM327.26 185h11.59v2h-11.59zM327.26 190h11.59v2.25h-11.59zM327.26 200.01h11.59v3.68h-11.59zM327.26 217.77h11.59v1h-11.59zM327.26 219.77h11.59v4h-11.59zM327.26 228.77h11.59v1h-11.59zM327.26 400.82h11.59v2h-11.59zM327.26 405.82h11.59v0.28h-11.59zM327.26 424.92h11.59v2h-11.59zM338.55 130.08h11.59v3h-11.59zM338.55 134.08h11.59v2h-11.59zM338.55 148.58h11.59v1h-11.59zM338.55 179h11.59v5.5h-11.59zM338.55 185.5h11.59v1h-11.59zM338.55 189.5h11.59v4h-11.59zM361.13 413.14h11.59v1h-11.59zM372.42 415.12h11.59v2h-11.59z"/>
<path fill="#adc1de" d="M45 103.16h11.59v1.5h-11.59zM45 113.54h11.59v3h-11.59zM90.16 241.9h11.59v2h-11.59zM112.74 239.9h11.59v0.5h-11.59zM135.32 428.99h11.59v1.5h-11.59zM157.9 420.99h11.59v3h-11.59zM157.9 428.49h11.59v3h-11.59zM169.19 231.6h11.59v2h-11.59zM169.19 238.29h11.59v1.5h-11.59zM180.48 266h11.59v2h-11.59zM191.77 433.1h11.59v0.9h-11.59zM214.35 224.8h11.59v1h-11.59zM236.94 91.2h11.59v1h-11.59zM236.94 203.8h11.59v2h-11.59zM248.23 107.5h11.59v1h-11.59zM270.81 106h11.59v3h-11.59zM270.81 122.5h11.59v2h-11.59zM270.81 153.5h11.59v1.5h-11.59zM338.55 107.08h11.59v1h-11.59zM349.84 207.17h11.59v2h-11.59zM372.42 203.17h11.59v2h-11.59zM372.42 207.17h11.59v2h-11.59zM372.42 413.12h11.59v2h-11.59z"/>
<path fill="#aabfdd" d="M78.87 225.3h11.59v0.7h-11.59zM90.16 429.7h11.59v3h-11.59zM124.03 432.99h11.59v1.01h-11.59zM146.61 184.3h11.59v2h-11.59zM191.77 195.9h11.59v1h-11.59zM214.35 225.8h11.59v2h-11.59zM236.94 103.7h11.59v1h-11.59zM236.94 423.59h11.59v5h-11.59zM248.23 101.5h11.59v1.5h-11.59zM248.23 117h11.59v1h-11.59zM248.23 147h11.59v2h-11.59zM248.23 184.5h11.59v1.5h-11.59zM270.81 89h11.59v2h-11.59zM270.81 172h11.59v1h-11.59zM293.39 223.4h11.59v0.8h-11.59zM327.26 175.5h11.59v3h-11.59zM327.26 180.5h11.59v2h-11.59zM338.55 178h11.59v1h-11.59zM338.55 184.5h11.59v1h-11.59zM338.55 187.5h11.59v2h-11.59zM372.42 421.12h11.59v0.82h-11.59z"/>
<path fill="#a7bedd" d="M56.29 101.36h11.59v3h-11.59zM56.29 108.36h11.59v1h-11.59zM56.29 111.36h11.59v2h-11.59zM56.29 116.36h11.59v3h-11.59zM56.29 202.5h11.59v3h-11.59zM56.29 206.5h11.59v1.5h-11.59zM67.58 87.34h11.59v2.06h-11.59zM78.87 218.8h11.59v1.5h-11.59zM90.16 216.82h11.59v3.06h-11.59zM90.16 243.9h11.59v2h-11.59zM90.16 420.7h11.59v1h-11.59zM90.16 424.7h11.59v1h-11.59zM135.32 409.6h11.59v1h-11.59zM146.61 182.8h11.59v1.5h-11.59zM146.61 190h11.59v3.6h-11.59zM146.61 208h11.59v1.5h-11.59zM169.19 252.89h11.59v2h-11.59zM180.48 269.5h11.59v1.3h-11.59zM191.77 200.5h11.59v3h-11.59zM191.77 205.5h11.59v2h-11.59zM191.77 210.5h11.59v1.5h-11.59zM191.77 219h11.59v3.4h-11.59zM214.35 423.99h11.59v1.5h-11.59zM214.35 426.99h11.59v4h-11.59zM225.65 86h11.59v5h-11.59zM236.94 225.8h11.59v0.2h-11.59zM236.94 227h11.59v2h-11.59zM248.23 143h11.59v4h-11.59zM248.23 166.5h11.59v3h-11.59zM248.23 181.5h11.59v2h-11.59zM248.23 186h11.59v2h-11.59zM248.23 194h11.59v1.4h-11.59zM270.81 92h11.59v1.5h-11.59zM270.81 101.5h11.59v0.5h-11.59zM270.81 115.5h11.59v2h-11.59zM270.81 125.5h11.59v3h-11.59zM270.81 140h11.59v2h-11.59zM270.81 144h11.59v1h-11.59zM270.81 146h11.59v1h-11.59zM270.81 152h11.59v1.5h-11.59zM270.81 183.7h11.59v1.5h-11.59zM270.81 187.2h11.59v3h-11.59zM270.81 194.7h11.59v2h-11.59zM270.81 198.2h11.59v3h-11.59zM282.1 93h11.59v1.8h-11.59zM282.1 211.6h11.59v2h-11.59zM293.39 91.6h11.59v2h-11.59zM293.39 206.4h11.59v3h-11.59zM304.68 197.6h11.59v2h-11.59zM315.97 96.68h11.59v1.41h-11.59zM315.97 172h11.59v1h-11.59zM315.97 200.17h11.59v2h-11.59zM315.97 424.94h11.59v2.28h-11.59zM327.26 141.49h11.59v1h-11.59zM327.26 149.49h11.59v1h-11.59zM327.26 161.49h11.59v3.5h-11.59zM327.26 194.01h11.59v1h-11.59zM327.26 428.99h11.59v2h-11.59zM327.26 431.99h11.59v2.01h-11.59zM338.55 100.08h11.59v2h-11.59zM338.55 103.08h11.59v2h-11.59zM338.55 114.08h11.59v3h-11.59zM338.55 124.08h11.59v3h-11.59zM338.55 128.08h11.59v2h-11.59zM338.55 133.08h11.59v1h-11.59zM338.55 143.58h11.59v5h-11.59zM338.55 149.58h11.59v1h-11.59zM338.55 159.08h11.59v0.62h-11.59zM338.55 186.5h11.59v1h-11.59zM349.84 217.17h11.59v2h-11.59zM372.42 200.17h11.59v3h-11.59zM372.42 205.17h11.59v2h-11.59zM372.42 427.44h11.59v1.54h-11.59z"/>
<path fill="#a4bddc" d="M56.29 93.2h11.59v1h-11.59zM78.87 235.9h11.59v0.9h-11.59zM112.74 245.79h11.59v1h-11.59zM146.61 421.99h11.59v2h-11.59zM169.19 241.79h11.59v1h-11.59zM180.48 268h11.59v1.5h-11.59zM191.77 405.6h11.59v1h-11.59zM191.77 412.6h11.59v1h-11.59zM191.77 420.6h11.59v2h-11.59zM203.06 207.2h11.59v1h-11.59zM214.35 200.8h11.59v1h-11.59zM248.23 99.5h11.59v2h-11.59zM248.23 115h11.59v2h-11.59zM248.23 133h11.59v2h-11.59zM270.81 112.5h11.59v1h-11.59zM270.81 121.5h11.59v1h-11.59zM282.1 193.6h11.59v2h-11.59zM304.68 419.79h11.59v1h-11.59zM315.97 184.56h11.59v1.5h-11.59zM315.97 203.17h11.59v4h-11.59zM327.26 129.49h11.59v2h-11.59zM327.26 134.49h11.59v1h-11.59zM327.26 184h11.59v1h-11.59zM327.26 198.01h11.59v2h-11.59zM327.26 229.77h11.59v2.96h-11.59zM372.42 172h11.59v1h-11.59zM372.42 425.44h11.59v2h-11.59z"/>
<path fill="#a2bcdc" d="M45 119.54h11.59v0.46h-11.59zM56.29 87h11.59v1h-11.59zM56.29 175h11.59v2h-11.59zM56.29 208h11.59v2h-11.59zM67.58 86.34h11.59v1h-11.59zM90.16 245.9h11.59v1h-11.59zM90.16 418.7h11.59v2h-11.59zM90.16 425.7h11.59v1h-11.59zM112.74 246.79h11.59v1h-11.59zM135.32 421.99h11.59v3h-11.59zM135.32 432.49h11.59v1.51h-11.59zM169.19 87.5h11.59v3h-11.59zM180.48 261h11.59v3h-11.59zM191.77 203.5h11.59v2h-11.59zM203.06 212.2h11.59v2h-11.59zM236.94 428.59h11.59v3h-11.59zM248.23 138h11.59v1h-11.59zM248.23 158.5h11.59v1h-11.59zM270.81 102h11.59v1.5h-11.59zM270.81 185.2h11.59v2h-11.59zM282.1 90h11.59v2h-11.59zM282.1 202.1h11.59v2h-11.59zM315.97 195.61h11.59v1.5h-11.59zM327.26 131.49h11.59v1h-11.59zM338.55 117.08h11.59v1.5h-11.59zM338.55 120.58h11.59v1.5h-11.59zM338.55 136.08h11.59v3h-11.59zM349.84 203.67h11.59v1h-11.59zM349.84 212.17h11.59v1h-11.59zM372.42 175h11.59v3h-11.59zM372.42 186h11.59v1h-11.59z"/>
<path fill="#9fbadb" d="M45 112.54h11.59v1h-11.59zM56.29 94.2h11.59v1.86h-11.59zM56.29 109.36h11.59v2h-11.59zM56.29 184.5h11.59v1.5h-11.59zM56.29 214h11.59v1h-11.59zM78.87 220.3h11.59v2h-11.59zM78.87 233.4h11.59v1.5h-11.59zM124.03 419.99h11.59v4h-11.59zM124.03 425.99h11.59v1h-11.59zM124.03 427.99h11.59v1h-11.59zM124.03 430.99h11.59v1h-11.59zM135.32 419.99h11.59v2h-11.59zM146.61 212h11.59v1.4h-11.59zM157.9 231.4h11.59v1.8h-11.59zM157.9 410.99h11.59v8h-11.59zM157.9 423.99h11.59v4.5h-11.59zM157.9 432.49h11.59v1.51h-11.59zM169.19 222.5h11.59v1.5h-11.59zM191.77 86.8h11.59v3h-11.59zM191.77 92.3h11.59v1h-11.59zM191.77 94.3h11.59v1.5h-11.59zM191.77 190.9h11.59v3h-11.59zM191.77 196.9h11.59v2.1h-11.59zM214.35 218.8h11.59v1h-11.59zM214.35 227.8h11.59v1.5h-11.59zM225.65 84h11.59v1h-11.59zM225.65 91h11.59v2h-11.59zM225.65 222.8h11.59v1.5h-11.59zM236.94 92.2h11.59v2h-11.59zM236.94 95.7h11.59v1h-11.59zM236.94 98.7h11.59v5h-11.59zM236.94 106.7h11.59v1.6h-11.59zM236.94 201.8h11.59v2h-11.59zM236.94 205.8h11.59v1.5h-11.59zM236.94 214.8h11.59v4.5h-11.59zM236.94 221.3h11.59v2.5h-11.59zM248.23 180.5h11.59v1h-11.59zM248.23 188h11.59v1h-11.59zM248.23 192h11.59v2h-11.59zM270.81 84h11.59v2h-11.59zM270.81 93.5h11.59v1.5h-11.59zM270.81 97h11.59v3h-11.59zM270.81 105h11.59v1h-11.59zM270.81 132.5h11.59v2h-11.59zM270.81 136.5h11.59v1.5h-11.59zM270.81 143h11.59v1h-11.59zM270.81 147h11.59v3h-11.59zM270.81 151h11.59v1h-11.59zM270.81 159.99h11.59v1h-11.59zM270.81 161.99h11.59v3h-11.59zM270.81 173h11.59v2h-11.59zM270.81 178h11.59v1h-11.59zM270.81 182h11.59v0.8h-11.59zM282.1 92h11.59v1h-11.59zM293.39 204.4h11.59v2h-11.59zM293.39 209.4h11.59v1h-11.59zM293.39 213.4h11.59v3.5h-11.59zM293.39 221.9h11.59v1.5h-11.59zM304.68 193.6h11.59v2h-11.59zM304.68 412.79h11.59v1h-11.59zM304.68 423.29h11.59v2h-11.59zM315.97 173h11.59v3h-11.59zM315.97 422.94h11.59v2h-11.59zM327.26 173.5h11.59v2h-11.59zM327.26 196.51h11.59v1.5h-11.59zM338.55 105.08h11.59v2h-11.59zM338.55 112.08h11.59v2h-11.59zM338.55 157.58h11.59v1.5h-11.59zM372.42 173h11.59v2h-11.59zM372.42 190.5h11.59v1h-11.59zM372.42 422.94h11.59v1.5h-11.59z"/>
<path fill="#9cb9db" d="M45 124.34h11.59v1h-11.59zM56.29 97.86h11.59v2h-11.59zM56.29 126.6h11.59v1h-11.59zM67.58 179h11.59v1.1h-11.59zM78.87 234.9h11.59v1h-11.59zM90.16 409.2h11.59v1h-11.59zM90.16 412.7h11.59v2h-11.59zM112.74 419.99h11.59v2h-11.59zM191.77 207.5h11.59v1.5h-11.59zM191.77 212h11.59v2h-11.59zM203.06 210.2h11.59v2h-11.59zM214.35 432.99h11.59v1.01h-11.59zM225.65 205.4h11.59v3h-11.59zM248.23 149h11.59v1h-11.59zM248.23 174h11.59v2h-11.59zM270.81 142h11.59v1h-11.59zM282.1 97.3h11.59v2h-11.59zM282.1 110.8h11.59v3h-11.59zM282.1 116.8h11.59v1.5h-11.59zM282.1 127.3h11.59v2h-11.59zM304.68 415.29h11.59v1.5h-11.59zM327.26 218.77h11.59v1h-11.59zM338.55 108.08h11.59v1h-11.59zM338.55 140.58h11.59v1h-11.59zM338.55 156.08h11.59v1.5h-11.59zM338.55 177h11.59v1h-11.59zM372.42 197.5h11.59v2h-11.59z"/>
<path fill="#99b8da" d="M45 111.54h11.59v1h-11.59zM45 118.54h11.59v1h-11.59zM56.29 91.2h11.59v2h-11.59zM56.29 105.36h11.59v2h-11.59zM56.29 135.6h11.59v2h-11.59zM56.29 144.6h11.59v1h-11.59zM56.29 155.6h11.59v2h-11.59zM78.87 215.4h11.59v2h-11.59zM78.87 222.3h11.59v3h-11.59zM90.16 95.6h11.59v1.5h-11.59zM90.16 191.98h11.59v1.98h-11.59zM90.16 232.9h11.59v2h-11.59zM90.16 235.9h11.59v3h-11.59zM90.16 239.9h11.59v2h-11.59zM112.74 231.4h11.59v1.5h-11.59zM112.74 234.9h11.59v1h-11.59zM112.74 236.9h11.59v3h-11.59zM135.32 102h11.59v1.8h-11.59zM135.32 405.6h11.59v2h-11.59zM135.32 427.99h11.59v1h-11.59zM146.61 420.99h11.59v1h-11.59zM146.61 425.99h11.59v8.01h-11.59zM169.19 217h11.59v1h-11.59zM169.19 224h11.59v0.2h-11.59zM191.77 178h11.59v1h-11.59zM191.77 193.9h11.59v2h-11.59zM214.35 231.3h11.59v0.1h-11.59zM214.35 422.99h11.59v1h-11.59zM214.35 425.49h11.59v1.5h-11.59zM225.65 94.5h11.59v0.3h-11.59zM225.65 224.3h11.59v1h-11.59zM236.94 209.3h11.59v4.5h-11.59zM270.81 103.5h11.59v1.5h-11.59zM270.81 111h11.59v1.5h-11.59zM270.81 117.5h11.59v4h-11.59zM270.81 128.5h11.59v4h-11.59zM270.81 134.5h11.59v2h-11.59zM270.81 179h11.59v3h-11.59zM282.1 129.3h11.59v0.6h-11.59zM293.39 210.4h11.59v1h-11.59zM304.68 199.6h11.59v1.2h-11.59zM315.97 176h11.59v1h-11.59zM338.55 98.08h11.59v2h-11.59zM349.84 211.17h11.59v1h-11.59zM349.84 213.17h11.59v4h-11.59zM349.84 219.17h11.59v0.37h-11.59zM372.42 188.5h11.59v2h-11.59zM372.42 424.44h11.59v1h-11.59z"/>
<path fill="#96b6da" d="M56.29 119.36h11.59v1h-11.59zM56.29 132.6h11.59v3h-11.59zM56.29 149.1h11.59v2h-11.59zM56.29 152.1h11.59v1h-11.59zM56.29 165.1h11.59v1h-11.59zM67.58 101.94h11.59v2h-11.59zM124.03 138h11.59v2h-11.59zM169.19 411.6h11.59v1h-11.59zM169.19 415.6h11.59v1h-11.59zM191.77 85.8h11.59v1h-11.59zM191.77 214h11.59v3h-11.59zM214.35 222.8h11.59v2h-11.59zM225.65 214.4h11.59v0.8h-11.59zM225.65 225.3h11.59v0.7h-11.59zM236.94 94.2h11.59v1.5h-11.59zM236.94 96.7h11.59v2h-11.59zM236.94 104.7h11.59v2h-11.59zM236.94 223.8h11.59v2h-11.59zM270.81 171.49h11.59v0.51h-11.59zM282.1 104.3h11.59v1.5h-11.59zM315.97 177h11.59v1.5h-11.59zM338.55 118.58h11.59v2h-11.59zM372.42 182h11.59v1.5h-11.59z"/>
<path fill="#93b5d9" d="M56.29 107.36h11.59v1h-11.59zM56.29 128.6h11.59v2h-11.59zM56.29 131.6h11.59v1h-11.59zM56.29 201h11.59v1.5h-11.59zM90.16 94.1h11.59v1.5h-11.59zM90.16 224.56h11.59v3h-11.59zM112.74 421.99h11.59v6h-11.59zM124.03 426.99h11.59v1h-11.59zM169.19 425.6h11.59v2h-11.59zM180.48 234.4h11.59v2h-11.59zM191.77 93.3h11.59v1h-11.59zM191.77 179h11.59v2h-11.59zM203.06 190.6h11.59v3h-11.59zM203.06 198.6h11.59v1.5h-11.59zM214.35 229.3h11.59v1h-11.59zM225.65 85h11.59v1h-11.59zM236.94 219.3h11.59v2h-11.59zM270.81 86h11.59v3h-11.59zM270.81 100h11.59v1.5h-11.59zM270.81 192.2h11.59v1h-11.59zM315.97 98.08h11.59v1.5h-11.59zM315.97 135.63h11.59v3h-11.59zM315.97 148.63h11.59v1.5h-11.59zM361.13 205.17h11.59v2h-11.59zM372.42 120.5h11.59v3h-11.59zM372.42 125.5h11.59v1.5h-11.59zM372.42 133h11.59v1h-11.59zM372.42 421.94h11.59v1h-11.59z"/>
<path fill="#90b4d9" d="M45 131.34h11.59v2h-11.59zM56.29 127.6h11.59v1h-11.59zM56.29 137.6h11.59v2h-11.59zM56.29 151.1h11.59v1h-11.59zM56.29 157.6h11.59v1.5h-11.59zM56.29 162.1h11.59v2h-11.59zM56.29 172h11.59v1h-11.59zM56.29 177h11.59v1h-11.59zM56.29 179.5h11.59v3h-11.59zM67.58 172h11.59v1.5h-11.59zM67.58 176h11.59v3h-11.59zM78.87 201.2h11.59v1h-11.59zM90.16 93.1h11.59v1h-11.59zM90.16 104.6h11.59v1h-11.59zM90.16 234.9h11.59v1h-11.59zM90.16 238.9h11.59v1h-11.59zM112.74 95.7h11.59v1.8h-11.59zM112.74 232.9h11.59v2h-11.59zM135.32 412.6h11.59v0.2h-11.59zM146.61 84h11.59v2.7h-11.59zM146.61 186.3h11.59v0.1h-11.59zM146.61 419.99h11.59v1h-11.59zM169.19 430.6h11.59v1h-11.59zM180.48 250.09h11.59v1h-11.59zM180.48 252.59h11.59v3h-11.59zM180.48 257.59h11.59v2.41h-11.59zM191.77 89.8h11.59v1.5h-11.59zM191.77 108.3h11.59v1h-11.59zM191.77 120h11.59v1.5h-11.59zM225.65 220.8h11.59v2h-11.59zM270.81 167.99h11.59v1.5h-11.59zM270.81 175h11.59v3h-11.59zM293.39 211.4h11.59v2h-11.59zM293.39 218.9h11.59v3h-11.59zM315.97 101.58h11.59v3h-11.59zM315.97 134.13h11.59v1.5h-11.59zM315.97 162.63h11.59v2h-11.59zM315.97 179.5h11.59v3h-11.59zM349.84 202.17h11.59v1.5h-11.59zM372.42 89.5h11.59v1.5h-11.59zM372.42 92.5h11.59v2h-11.59zM372.42 97.5h11.59v1h-11.59zM372.42 163h11.59v2h-11.59zM372.42 180h11.59v2h-11.59zM372.42 187h11.59v1.5h-11.59zM372.42 191.5h11.59v3h-11.59zM372.42 199.5h11.59v0.67h-11.59z"/>
<path fill="#8db3d8" d="M45 138.84h11.59v1h-11.59zM56.29 142.6h11.59v2h-11.59zM78.87 99h11.59v1h-11.59zM78.87 169.49h11.59v2.51h-11.59zM90.16 227.56h11.59v1.5h-11.59zM90.16 231.4h11.59v1.5h-11.59zM90.16 246.9h11.59v0.7h-11.59zM112.74 235.9h11.59v1h-11.59zM124.03 428.99h11.59v2h-11.59zM135.32 407.6h11.59v2h-11.59zM135.32 410.6h11.59v2h-11.59zM135.32 424.99h11.59v3h-11.59zM146.61 210.5h11.59v1.5h-11.59zM169.19 219.5h11.59v3h-11.59zM191.77 91.3h11.59v1h-11.59zM191.77 104.3h11.59v1h-11.59zM191.77 110.3h11.59v1.5h-11.59zM191.77 119.3h11.59v0.7h-11.59zM191.77 140.5h11.59v2h-11.59zM191.77 168.5h11.59v2h-11.59zM191.77 177h11.59v1h-11.59zM203.06 87h11.59v1h-11.59zM214.35 219.8h11.59v3h-11.59zM236.94 121.14h11.59v2h-11.59zM236.94 207.3h11.59v2h-11.59zM270.81 91h11.59v1h-11.59zM270.81 158.99h11.59v1h-11.59zM270.81 160.99h11.59v1h-11.59zM270.81 164.99h11.59v3h-11.59zM282.1 173.5h11.59v4h-11.59zM315.97 139.63h11.59v1.5h-11.59zM315.97 178.5h11.59v1h-11.59zM315.97 182.5h11.59v0.06h-11.59zM372.42 109.5h11.59v2h-11.59z"/>
<path fill="#8bb1d8" d="M45 116.54h11.59v2h-11.59zM146.61 423.99h11.59v2h-11.59zM180.48 246.9h11.59v0.7h-11.59zM191.77 102.3h11.59v2h-11.59zM191.77 128.5h11.59v1h-11.59zM203.06 91h11.59v1h-11.59zM203.06 202.1h11.59v0.5h-11.59zM270.81 113.5h11.59v2h-11.59zM270.81 124.5h11.59v1h-11.59zM282.1 137.16h11.59v3h-11.59zM282.1 177.5h11.59v2h-11.59zM304.68 89h11.59v1.5h-11.59zM315.97 90h11.59v1.5h-11.59zM315.97 108.65h11.59v1h-11.59zM315.97 154.63h11.59v2h-11.59zM315.97 164.63h11.59v1.5h-11.59zM349.84 206.17h11.59v1h-11.59zM361.13 202.17h11.59v3h-11.59zM361.13 219.17h11.59v1h-11.59zM361.13 221.17h11.59v0.13h-11.59zM372.42 91h11.59v1.5h-11.59zM372.42 159h11.59v2h-11.59zM372.42 171h11.59v1h-11.59zM372.42 185h11.59v1h-11.59z"/>
<path fill="#88b0d7" d="M45 122.34h11.59v2h-11.59zM45 129.34h11.59v2h-11.59zM45 133.34h11.59v3h-11.59zM45 137.84h11.59v1h-11.59zM45 141.84h11.59v0.12h-11.59zM56.29 123.6h11.59v3h-11.59zM56.29 130.6h11.59v1h-11.59zM56.29 139.6h11.59v1h-11.59zM56.29 145.6h11.59v3.5h-11.59zM56.29 154.1h11.59v1.5h-11.59zM56.29 159.1h11.59v3h-11.59zM56.29 164.1h11.59v1h-11.59zM56.29 169.1h11.59v2.9h-11.59zM56.29 178h11.59v1.5h-11.59zM67.58 95h11.59v2h-11.59zM67.58 98.94h11.59v3h-11.59zM67.58 103.94h11.59v1.66h-11.59zM78.87 87h11.59v3h-11.59zM78.87 131.5h11.59v3h-11.59zM78.87 198.7h11.59v1h-11.59zM78.87 202.2h11.59v2.2h-11.59zM78.87 217.4h11.59v1.4h-11.59zM90.16 87.6h11.59v3h-11.59zM90.16 97.1h11.59v4.5h-11.59zM90.16 105.6h11.59v2.7h-11.59zM124.03 140h11.59v1.06h-11.59zM135.32 430.49h11.59v2h-11.59zM169.19 405.6h11.59v6h-11.59zM169.19 412.6h11.59v3h-11.59zM169.19 416.6h11.59v1.5h-11.59zM169.19 424.6h11.59v1h-11.59zM169.19 427.6h11.59v1.5h-11.59zM169.19 431.6h11.59v2.4h-11.59zM180.48 239.9h11.59v3h-11.59zM180.48 247.59h11.59v1.5h-11.59zM191.77 154h11.59v2h-11.59zM191.77 172h11.59v5h-11.59zM191.77 181h11.59v8.1h-11.59zM203.06 185.6h11.59v1.5h-11.59zM214.35 181.8h11.59v2h-11.59zM225.65 195.4h11.59v2h-11.59zM225.65 201.4h11.59v1h-11.59zM225.65 210.4h11.59v4h-11.59zM236.94 137.64h11.59v1.5h-11.59zM270.81 109h11.59v2h-11.59zM282.1 94.8h11.59v2.5h-11.59zM282.1 102.3h11.59v2h-11.59zM282.1 105.8h11.59v4h-11.59zM282.1 113.8h11.59v3h-11.59zM282.1 120.3h11.59v4h-11.59zM282.1 136.16h11.59v1h-11.59zM315.97 88h11.59v2h-11.59zM315.97 93.5h11.59v1h-11.59zM315.97 118.15h11.59v1h-11.59zM315.97 142.13h11.59v3h-11.59zM315.97 150.13h11.59v1.5h-11.59zM349.84 204.67h11.59v1.5h-11.59zM361.13 207.17h11.59v1h-11.59zM361.13 212.67h11.59v1.5h-11.59zM372.42 94.5h11.59v1.5h-11.59zM372.42 107h11.59v1h-11.59zM372.42 139h11.59v1.5h-11.59zM372.42 141.5h11.59v1h-11.59zM372.42 158h11.59v1h-11.59zM372.42 170h11.59v1h-11.59z"/>
<path fill="#85afd6" d="M56.29 182.5h11.59v2h-11.59zM67.58 173.5h11.59v1h-11.59zM78.87 147h11.59v1h-11.59zM78.87 152h11.59v1.5h-11.59zM101.45 220.8h11.59v1h-11.59zM169.19 106.9h11.59v0.5h-11.59zM169.19 218h11.59v1.5h-11.59zM180.48 251.09h11.59v1.5h-11.59zM191.77 99.3h11.59v3h-11.59zM191.77 105.3h11.59v3h-11.59zM191.77 113.8h11.59v1h-11.59zM191.77 115.8h11.59v2h-11.59zM191.77 127.5h11.59v1h-11.59zM191.77 131.5h11.59v3h-11.59zM191.77 144.5h11.59v1.5h-11.59zM191.77 148h11.59v1h-11.59zM191.77 153h11.59v1h-11.59zM282.1 145.16h11.59v2h-11.59zM282.1 149.66h11.59v1h-11.59zM282.1 151.66h11.59v1h-11.59zM293.39 110.7h11.59v3h-11.59zM293.39 115.7h11.59v1h-11.59zM349.84 200.17h11.59v2h-11.59zM349.84 209.17h11.59v2h-11.59z"/>
<path fill="#82add5" d="M78.87 85.5h11.59v1.5h-11.59zM78.87 90h11.59v7h-11.59zM78.87 100h11.59v2h-11.59zM78.87 117.5h11.59v1h-11.59zM78.87 143h11.59v2h-11.59zM90.16 101.6h11.59v3h-11.59zM90.16 229.06h11.59v2.34h-11.59zM101.45 223.3h11.59v2h-11.59zM135.32 116.3h11.59v2h-11.59zM169.19 429.1h11.59v1.5h-11.59zM180.48 231.4h11.59v3h-11.59zM180.48 236.4h11.59v1h-11.59zM180.48 242.9h11.59v3h-11.59zM180.48 255.59h11.59v2h-11.59zM191.77 142.5h11.59v2h-11.59zM191.77 146h11.59v1h-11.59zM203.06 88h11.59v2h-11.59zM203.06 184.6h11.59v1h-11.59zM203.06 187.1h11.59v3.5h-11.59zM203.06 194.6h11.59v4h-11.59zM203.06 200.1h11.59v2h-11.59zM214.35 173.8h11.59v1h-11.59zM225.65 208.4h11.59v2h-11.59zM236.94 110.64h11.59v1.5h-11.59zM236.94 136.64h11.59v1h-11.59zM236.94 169.83h11.59v2h-11.59zM282.1 124.3h11.59v1h-11.59zM282.1 189h11.59v1h-11.59zM304.68 84h11.59v3h-11.59zM304.68 90.5h11.59v4.3h-11.59zM315.97 84h11.59v2h-11.59zM315.97 91.5h11.59v2h-11.59zM315.97 94.5h11.59v1h-11.59zM315.97 96.5h11.59v0.18h-11.59zM315.97 99.58h11.59v2h-11.59zM315.97 109.65h11.59v2h-11.59zM315.97 114.65h11.59v2h-11.59zM315.97 119.15h11.59v3h-11.59zM315.97 125.15h11.59v0.23h-11.59zM315.97 130.13h11.59v4h-11.59zM315.97 138.63h11.59v1h-11.59zM315.97 145.13h11.59v3.5h-11.59zM315.97 151.63h11.59v1h-11.59zM315.97 156.63h11.59v1h-11.59zM315.97 158.63h11.59v4h-11.59zM315.97 166.13h11.59v1h-11.59zM361.13 200.17h11.59v2h-11.59zM361.13 214.17h11.59v3h-11.59zM361.13 220.17h11.59v1h-11.59zM372.42 98.5h11.59v8.5h-11.59zM372.42 112.5h11.59v1h-11.59zM372.42 117.5h11.59v1h-11.59zM372.42 123.5h11.59v2h-11.59zM372.42 129h11.59v2h-11.59zM372.42 134h11.59v5h-11.59zM372.42 142.5h11.59v9h-11.59zM372.42 154.5h11.59v1h-11.59zM372.42 157h11.59v1h-11.59z"/>
<path fill="#7facd5" d="M45 125.34h11.59v4h-11.59zM45 139.84h11.59v2h-11.59zM56.29 140.6h11.59v2h-11.59zM56.29 173h11.59v2h-11.59zM56.29 186h11.59v0.4h-11.59zM78.87 127h11.59v1.5h-11.59zM78.87 154.5h11.59v1h-11.59zM78.87 197.2h11.59v1.5h-11.59zM90.16 92.1h11.59v1h-11.59zM101.45 221.8h11.59v1.5h-11.59zM135.32 106.3h11.59v1h-11.59zM169.19 420.1h11.59v1.5h-11.59zM180.48 249.09h11.59v1h-11.59zM203.06 123.98h11.59v1h-11.59zM203.06 129.48h11.59v0.42h-11.59zM225.65 197.4h11.59v4h-11.59zM236.94 125.14h11.59v1h-11.59zM282.1 109.8h11.59v1h-11.59zM282.1 125.3h11.59v2h-11.59zM282.1 152.66h11.59v2h-11.59zM282.1 157.66h11.59v2h-11.59zM293.39 199.8h11.59v1h-11.59z"/>
<path fill="#7cabd4" d="M56.29 153.1h11.59v1h-11.59zM67.58 94h11.59v1h-11.59zM67.58 174.5h11.59v1.5h-11.59zM78.87 106.5h11.59v2h-11.59zM78.87 112.5h11.59v1h-11.59zM78.87 153.5h11.59v1h-11.59zM90.16 183.82h11.59v0.06h-11.59zM90.16 211.36h11.59v0.6h-11.59zM101.45 209.36h11.59v2h-11.59zM135.32 108.8h11.59v3h-11.59zM135.32 121.3h11.59v1h-11.59zM169.19 116.4h11.59v7.5h-11.59zM169.19 165.4h11.59v1.5h-11.59zM191.77 112.8h11.59v1h-11.59zM191.77 114.8h11.59v1h-11.59zM191.77 123h11.59v3h-11.59zM191.77 136.5h11.59v1h-11.59zM191.77 147h11.59v1h-11.59zM191.77 157h11.59v11.5h-11.59zM214.35 96.96h11.59v3h-11.59zM214.35 130.46h11.59v1.5h-11.59zM214.35 140.46h11.59v2h-11.59zM214.35 167.96h11.59v3h-11.59zM225.65 218.8h11.59v2h-11.59zM293.39 123.2h11.59v1h-11.59zM293.39 125.2h11.59v1.5h-11.59zM372.42 178h11.59v2h-11.59zM372.42 183.5h11.59v1.5h-11.59zM372.42 194.5h11.59v3h-11.59z"/>
<path fill="#79a9d3" d="M78.87 84h11.59v1.5h-11.59zM78.87 120h11.59v3h-11.59zM78.87 124h11.59v3h-11.59zM78.87 135.5h11.59v1h-11.59zM78.87 155.99h11.59v5.5h-11.59zM78.87 162.99h11.59v5h-11.59zM90.16 90.6h11.59v1.5h-11.59zM101.45 208.36h11.59v1h-11.59zM101.45 212.36h11.59v1.5h-11.59zM101.45 218.8h11.59v2h-11.59zM101.45 225.3h11.59v2.5h-11.59zM135.32 119.8h11.59v1.5h-11.59zM135.32 122.3h11.59v1.3h-11.59zM169.19 96.9h11.59v1h-11.59zM169.19 418.1h11.59v2h-11.59zM203.06 85.5h11.59v1.5h-11.59zM203.06 90h11.59v1h-11.59zM203.06 92h11.59v0.1h-11.59zM214.35 84h11.59v1h-11.59zM214.35 86.5h11.59v1h-11.59zM214.35 93.5h11.59v2.2h-11.59zM214.35 107.96h11.59v1h-11.59zM214.35 146.46h11.59v2h-11.59zM214.35 174.8h11.59v1h-11.59zM214.35 179.8h11.59v2h-11.59zM214.35 183.8h11.59v4h-11.59zM214.35 190.8h11.59v1h-11.59zM236.94 112.14h11.59v2h-11.59zM236.94 118.14h11.59v3h-11.59zM236.94 126.14h11.59v4.5h-11.59zM236.94 139.14h11.59v2.5h-11.59zM236.94 143.64h11.59v1h-11.59zM236.94 153.83h11.59v3h-11.59zM236.94 158.33h11.59v2h-11.59zM236.94 163.33h11.59v2h-11.59zM236.94 166.33h11.59v3.5h-11.59zM236.94 172h11.59v2h-11.59zM282.1 131.16h11.59v3h-11.59zM282.1 140.16h11.59v5h-11.59zM282.1 148.66h11.59v1h-11.59zM282.1 150.66h11.59v1h-11.59zM282.1 155.66h11.59v2h-11.59zM282.1 159.66h11.59v4h-11.59zM282.1 166.16h11.59v3h-11.59zM282.1 179.5h11.59v6.5h-11.59zM282.1 187.5h11.59v1.5h-11.59zM293.39 135.7h11.59v1h-11.59zM304.68 174h11.59v1.5h-11.59zM315.97 86h11.59v1h-11.59zM315.97 127.13h11.59v1h-11.59zM315.97 129.13h11.59v1h-11.59zM315.97 157.63h11.59v1h-11.59zM361.13 208.17h11.59v1.5h-11.59zM372.42 86.5h11.59v3h-11.59zM372.42 113.5h11.59v3h-11.59zM372.42 161h11.59v2h-11.59z"/>
<path fill="#76a8d3" d="M78.87 213.4h11.59v2h-11.59zM90.16 172h11.59v2h-11.59zM135.32 114.8h11.59v1.5h-11.59zM180.48 237.4h11.59v1h-11.59zM191.77 117.8h11.59v1.5h-11.59zM191.77 134.5h11.59v2h-11.59zM191.77 138.5h11.59v2h-11.59zM191.77 156h11.59v1h-11.59zM214.35 117.96h11.59v2h-11.59zM214.35 170.96h11.59v1h-11.59zM225.65 185.4h11.59v3h-11.59zM282.1 118.3h11.59v2h-11.59zM293.39 103.2h11.59v1h-11.59zM304.68 179.5h11.59v1h-11.59zM304.68 187.5h11.59v2h-11.59zM315.97 87h11.59v1h-11.59zM315.97 122.15h11.59v3h-11.59zM315.97 170.13h11.59v1.87h-11.59zM372.42 111.5h11.59v1h-11.59zM372.42 131h11.59v2h-11.59zM372.42 140.5h11.59v1h-11.59zM372.42 151.5h11.59v3h-11.59zM372.42 167h11.59v3h-11.59z"/>
<path fill="#74a6d2" d="M45 136.34h11.59v1.5h-11.59zM56.29 166.1h11.59v3h-11.59zM67.58 93h11.59v1h-11.59zM67.58 97h11.59v0.86h-11.59zM78.87 199.7h11.59v1.5h-11.59zM169.19 143.9h11.59v3h-11.59zM169.19 421.6h11.59v3h-11.59zM180.48 238.4h11.59v1.5h-11.59zM191.77 126h11.59v1.5h-11.59zM191.77 129.5h11.59v2h-11.59zM203.06 121.98h11.59v2h-11.59zM203.06 124.98h11.59v4.5h-11.59zM203.06 193.6h11.59v1h-11.59zM214.35 102.96h11.59v2h-11.59zM214.35 171.96h11.59v0.04h-11.59zM225.65 189.4h11.59v2h-11.59zM225.65 202.4h11.59v3h-11.59zM236.94 188.8h11.59v3h-11.59zM282.1 99.3h11.59v3h-11.59zM304.68 87h11.59v2h-11.59zM304.68 182h11.59v5.5h-11.59zM361.13 209.67h11.59v3h-11.59zM372.42 96h11.59v1.5h-11.59zM372.42 127h11.59v2h-11.59zM372.42 155.5h11.59v1.5h-11.59z"/>
<path fill="#71a5d1" d="M78.87 102h11.59v1.5h-11.59zM78.87 105.5h11.59v1h-11.59zM78.87 108.5h11.59v3h-11.59zM78.87 113.5h11.59v4h-11.59zM78.87 118.5h11.59v1.5h-11.59zM78.87 136.5h11.59v5.5h-11.59zM78.87 148h11.59v4h-11.59zM78.87 167.99h11.59v1.5h-11.59zM90.16 128h11.59v2h-11.59zM90.16 208.36h11.59v1h-11.59zM90.16 247.59h11.59v1.5h-11.59zM90.16 250.09h11.59v1.5h-11.59zM101.45 174.88h11.59v1h-11.59zM101.45 183.88h11.59v1.8h-11.59zM101.45 211.36h11.59v1h-11.59zM101.45 213.86h11.59v4.94h-11.59zM112.74 222.8h11.59v2h-11.59zM135.32 103.8h11.59v2.5h-11.59zM135.32 111.8h11.59v3h-11.59zM135.32 118.3h11.59v1.5h-11.59zM146.61 91.7h11.59v1h-11.59zM169.19 93.9h11.59v1h-11.59zM169.19 97.9h11.59v3h-11.59zM169.19 101.9h11.59v3h-11.59zM191.77 109.3h11.59v1h-11.59zM191.77 111.8h11.59v1h-11.59zM191.77 170.5h11.59v1.5h-11.59zM214.35 89.5h11.59v4h-11.59zM214.35 114.96h11.59v3h-11.59zM214.35 120.96h11.59v3h-11.59zM214.35 155.96h11.59v3h-11.59zM214.35 175.8h11.59v3h-11.59zM214.35 188.8h11.59v2h-11.59zM236.94 130.64h11.59v2h-11.59zM236.94 145.64h11.59v3h-11.59zM236.94 151.64h11.59v0.76h-11.59zM282.1 154.66h11.59v1h-11.59zM282.1 163.66h11.59v2.5h-11.59zM282.1 172h11.59v1.5h-11.59zM282.1 186h11.59v1.5h-11.59zM293.39 100.2h11.59v3h-11.59zM293.39 104.2h11.59v2.5h-11.59zM293.39 118.2h11.59v2h-11.59zM293.39 124.2h11.59v1h-11.59zM293.39 130.7h11.59v2h-11.59zM293.39 136.7h11.59v3.1h-11.59zM293.39 193.8h11.59v4h-11.59zM304.68 192.5h11.59v1.1h-11.59zM315.97 95.5h11.59v1h-11.59zM315.97 141.13h11.59v1h-11.59zM361.13 217.17h11.59v2h-11.59zM372.42 84h11.59v2.5h-11.59zM372.42 108h11.59v1.5h-11.59z"/>
<path fill="#6ea4d0" d="M67.58 112.8h11.59v1h-11.59zM78.87 128.5h11.59v3h-11.59zM78.87 134.5h11.59v1h-11.59zM90.16 113h11.59v3h-11.59zM90.16 130h11.59v3h-11.59zM90.16 180.82h11.59v1h-11.59zM101.45 103.5h11.59v1.5h-11.59zM135.32 222h11.59v2h-11.59zM135.32 226h11.59v3h-11.59zM146.61 100.7h11.59v2h-11.59zM157.9 227.26h11.59v1h-11.59zM169.19 140.4h11.59v1.5h-11.59zM169.19 177.5h11.59v1h-11.59zM169.19 186h11.59v1.5h-11.59zM180.48 245.9h11.59v1h-11.59zM191.77 137.5h11.59v1h-11.59zM191.77 151h11.59v2h-11.59zM203.06 84h11.59v1.5h-11.59zM214.35 178.8h11.59v1h-11.59zM214.35 187.8h11.59v1h-11.59zM225.65 124.3h11.59v1.5h-11.59zM225.65 136.3h11.59v2h-11.59zM225.65 164.3h11.59v1h-11.59zM236.94 114.14h11.59v1h-11.59zM236.94 116.14h11.59v2h-11.59zM236.94 132.64h11.59v2h-11.59zM236.94 141.64h11.59v2h-11.59zM236.94 144.64h11.59v1h-11.59zM236.94 171.83h11.59v0.17h-11.59zM282.1 134.16h11.59v2h-11.59zM282.1 147.16h11.59v1.5h-11.59zM282.1 171.16h11.59v0.84h-11.59zM315.97 111.65h11.59v3h-11.59zM315.97 116.65h11.59v1.5h-11.59zM315.97 128.13h11.59v1h-11.59zM315.97 167.13h11.59v3h-11.59zM349.84 84h11.59v2h-11.59zM349.84 88h11.59v1h-11.59zM349.84 102h11.59v2h-11.59zM349.84 109.5h11.59v3h-11.59zM349.84 186.5h11.59v2h-11.59zM361.13 86h11.59v3h-11.59zM372.42 116.5h11.59v1h-11.59z"/>
<path fill="#6ba2d0" d="M78.87 97h11.59v2h-11.59zM90.16 133h11.59v2h-11.59zM90.16 149h11.59v2h-11.59zM90.16 165h11.59v1h-11.59zM90.16 167h11.59v1.5h-11.59zM101.45 93.5h11.59v3h-11.59zM135.32 87h11.59v2h-11.59zM135.32 91h11.59v1.5h-11.59zM135.32 98.5h11.59v1h-11.59zM135.32 205h11.59v1.5h-11.59zM146.61 89.7h11.59v2h-11.59zM146.61 97.7h11.59v3h-11.59zM146.61 106.2h11.59v2h-11.59zM169.19 100.9h11.59v1h-11.59zM180.48 98h11.59v2h-11.59zM214.35 87.5h11.59v2h-11.59zM225.65 151.3h11.59v3h-11.59zM225.65 172.9h11.59v1.5h-11.59zM225.65 184.4h11.59v1h-11.59zM236.94 123.14h11.59v2h-11.59zM236.94 134.64h11.59v2h-11.59zM236.94 150.64h11.59v1h-11.59zM236.94 156.83h11.59v1.5h-11.59zM236.94 165.33h11.59v1h-11.59zM236.94 174h11.59v1.6h-11.59zM282.1 169.16h11.59v2h-11.59zM293.39 107.7h11.59v3h-11.59zM293.39 132.7h11.59v3h-11.59zM293.39 200.8h11.59v2h-11.59zM315.97 104.58h11.59v0.54h-11.59zM315.97 152.63h11.59v2h-11.59zM349.84 195h11.59v2h-11.59zM361.13 89h11.59v1h-11.59zM361.13 94h11.59v1h-11.59zM372.42 118.5h11.59v2h-11.59zM372.42 165h11.59v2h-11.59z"/>
<path fill="#68a1cf" d="M78.87 111.5h11.59v1h-11.59zM78.87 123h11.59v1h-11.59zM78.87 145h11.59v2h-11.59zM78.87 195.56h11.59v1h-11.59zM78.87 204.4h11.59v1h-11.59zM78.87 206.4h11.59v2h-11.59zM90.16 117h11.59v1h-11.59zM90.16 174h11.59v1.42h-11.59zM90.16 181.82h11.59v1h-11.59zM101.45 175.88h11.59v1.88h-11.59zM112.74 221.8h11.59v1h-11.59zM135.32 84h11.59v3h-11.59zM135.32 107.3h11.59v1.5h-11.59zM135.32 198h11.59v3h-11.59zM135.32 210h11.59v1.5h-11.59zM135.32 235h11.59v1h-11.59zM146.61 88.2h11.59v1.5h-11.59zM146.61 96.7h11.59v1h-11.59zM146.61 104.2h11.59v2h-11.59zM157.9 218.26h11.59v1h-11.59zM157.9 221.26h11.59v1.5h-11.59zM169.19 109.4h11.59v7h-11.59zM169.19 127.9h11.59v5h-11.59zM169.19 136.9h11.59v3.5h-11.59zM169.19 150.9h11.59v3h-11.59zM169.19 156.9h11.59v3h-11.59zM169.19 160.9h11.59v4.5h-11.59zM169.19 170.49h11.59v1.5h-11.59zM180.48 87.5h11.59v1h-11.59zM191.77 121.5h11.59v1.5h-11.59zM191.77 149h11.59v2h-11.59zM203.06 182h11.59v1h-11.59zM203.06 184h11.59v0.6h-11.59zM214.35 85h11.59v1.5h-11.59zM214.35 108.96h11.59v1h-11.59zM214.35 119.96h11.59v1h-11.59zM214.35 125.96h11.59v2.5h-11.59zM214.35 129.46h11.59v1h-11.59zM214.35 136.46h11.59v3h-11.59zM214.35 142.46h11.59v4h-11.59zM214.35 148.46h11.59v5h-11.59zM214.35 154.96h11.59v1h-11.59zM214.35 158.96h11.59v1h-11.59zM214.35 162.96h11.59v5h-11.59zM225.65 96.3h11.59v2h-11.59zM225.65 121.3h11.59v3h-11.59zM225.65 180.4h11.59v1h-11.59zM225.65 188.4h11.59v1h-11.59zM225.65 191.4h11.59v1.5h-11.59zM236.94 115.14h11.59v1h-11.59zM236.94 148.64h11.59v2h-11.59zM236.94 160.33h11.59v3h-11.59zM236.94 183.3h11.59v2h-11.59zM293.39 113.7h11.59v1h-11.59zM293.39 126.7h11.59v1h-11.59zM293.39 191.8h11.59v2h-11.59zM304.68 175.5h11.59v1h-11.59zM304.68 191.5h11.59v1h-11.59zM349.84 100.5h11.59v1.5h-11.59z"/>
<path fill="#65a0ce" d="M67.58 114.8h11.59v1.5h-11.59zM78.87 155.5h11.59v0.5h-11.59zM78.87 161.49h11.59v1.5h-11.59zM78.87 176.5h11.59v3h-11.59zM124.03 84h11.59v1.5h-11.59zM135.32 146.6h11.59v1.5h-11.59zM135.32 191h11.59v1.5h-11.59zM135.32 213h11.59v1h-11.59zM146.61 175h11.59v1h-11.59zM146.61 180h11.59v2.8h-11.59zM146.61 196.6h11.59v3h-11.59zM169.19 94.9h11.59v2h-11.59zM169.19 104.9h11.59v2h-11.59zM169.19 190.5h11.59v2h-11.59zM169.19 207h11.59v1h-11.59zM180.48 93h11.59v2h-11.59zM203.06 104.1h11.59v1.5h-11.59zM203.06 107.6h11.59v1h-11.59zM225.65 103.3h11.59v1h-11.59zM225.65 113.3h11.59v3h-11.59zM225.65 143.8h11.59v2h-11.59zM225.65 150.3h11.59v1h-11.59zM293.39 106.7h11.59v1h-11.59zM293.39 145.3h11.59v1h-11.59zM293.39 202.8h11.59v1.6h-11.59zM304.68 164.3h11.59v1h-11.59zM304.68 171.3h11.59v0.7h-11.59zM349.84 99h11.59v1.5h-11.59zM349.84 137.71h11.59v3h-11.59zM349.84 149.62h11.59v2h-11.59zM349.84 171.12h11.59v0.88h-11.59z"/>
<path fill="#629ecd" d="M67.58 119.8h11.59v1.5h-11.59zM67.58 127.8h11.59v1h-11.59zM78.87 179.5h11.59v1h-11.59zM90.16 209.36h11.59v2h-11.59zM90.16 253.59h11.59v1.2h-11.59zM112.74 218.8h11.59v2h-11.59zM112.74 224.8h11.59v3h-11.59zM124.03 101h11.59v1h-11.59zM146.61 194.6h11.59v2h-11.59zM146.61 203.1h11.59v1h-11.59zM169.19 141.9h11.59v2h-11.59zM169.19 153.9h11.59v3h-11.59zM169.19 166.9h11.59v0.8h-11.59zM169.19 212h11.59v2h-11.59zM180.48 91h11.59v2h-11.59zM180.48 95h11.59v2h-11.59zM180.48 100h11.59v4h-11.59zM203.06 101.1h11.59v3h-11.59zM203.06 105.6h11.59v1h-11.59zM214.35 123.96h11.59v2h-11.59zM225.65 139.3h11.59v3h-11.59zM293.39 127.7h11.59v3h-11.59zM293.39 197.8h11.59v2h-11.59zM304.68 103.3h11.59v1.5h-11.59zM304.68 139.8h11.59v1h-11.59zM304.68 159.8h11.59v2h-11.59zM304.68 176.5h11.59v3h-11.59zM349.84 127.21h11.59v1h-11.59zM349.84 175.5h11.59v1.5h-11.59zM349.84 178h11.59v3h-11.59zM361.13 99.5h11.59v2h-11.59z"/>
<path fill="#5f9dcd" d="M67.58 131.3h11.59v3h-11.59zM67.58 151h11.59v1h-11.59zM67.58 168.5h11.59v2h-11.59zM78.87 180.5h11.59v1h-11.59zM78.87 182.5h11.59v0.3h-11.59zM78.87 186.06h11.59v2h-11.59zM78.87 190.56h11.59v4h-11.59zM78.87 196.56h11.59v0.64h-11.59zM78.87 208.4h11.59v2h-11.59zM78.87 211.9h11.59v1.5h-11.59zM90.16 116h11.59v1h-11.59zM90.16 118h11.59v10h-11.59zM90.16 135h11.59v1.5h-11.59zM90.16 137.5h11.59v0.5h-11.59zM90.16 145h11.59v1h-11.59zM101.45 107h11.59v1.5h-11.59zM101.45 115.5h11.59v1h-11.59zM101.45 118.5h11.59v2h-11.59zM124.03 119.1h11.59v0.9h-11.59zM135.32 95.5h11.59v3h-11.59zM135.32 126.6h11.59v1h-11.59zM135.32 160.99h11.59v3h-11.59zM135.32 192.5h11.59v1h-11.59zM135.32 206.5h11.59v1.5h-11.59zM146.61 94.7h11.59v2h-11.59zM146.61 102.7h11.59v1.5h-11.59zM146.61 108.2h11.59v1h-11.59zM146.61 187.4h11.59v2h-11.59zM169.19 107.4h11.59v2h-11.59zM169.19 132.9h11.59v2h-11.59zM169.19 198.5h11.59v1.5h-11.59zM180.48 222.6h11.59v1h-11.59zM203.06 97.6h11.59v1h-11.59zM203.06 112.6h11.59v2h-11.59zM203.06 173.5h11.59v1.5h-11.59zM203.06 180h11.59v2h-11.59zM203.06 183h11.59v1h-11.59zM214.35 133.46h11.59v3h-11.59zM214.35 139.46h11.59v1h-11.59zM214.35 153.46h11.59v1.5h-11.59zM225.65 109.8h11.59v2h-11.59zM225.65 130.3h11.59v3h-11.59zM225.65 161.3h11.59v2h-11.59zM225.65 168.3h11.59v2h-11.59zM225.65 174.4h11.59v1.5h-11.59zM225.65 178.9h11.59v1.5h-11.59zM225.65 181.4h11.59v3h-11.59zM236.94 178.3h11.59v1h-11.59zM236.94 182.3h11.59v1h-11.59zM236.94 185.3h11.59v1h-11.59zM236.94 191.8h11.59v5h-11.59zM236.94 197.8h11.59v1.5h-11.59zM293.39 120.2h11.59v3h-11.59zM293.39 156.8h11.59v1h-11.59zM293.39 171.3h11.59v0.7h-11.59zM304.68 110.8h11.59v2h-11.59zM304.68 115.3h11.59v6h-11.59zM304.68 123.3h11.59v3h-11.59zM304.68 136.3h11.59v2h-11.59zM304.68 143.8h11.59v2h-11.59zM304.68 153.8h11.59v1h-11.59zM304.68 172h11.59v2h-11.59zM315.97 125.37h11.59v1.76h-11.59zM349.84 164.12h11.59v2h-11.59zM361.13 91h11.59v2h-11.59zM361.13 98.5h11.59v1h-11.59zM361.13 179h11.59v4h-11.59z"/>
<path fill="#5c9ccc" d="M67.58 165.5h11.59v3h-11.59zM78.87 103.5h11.59v2h-11.59zM78.87 142h11.59v1h-11.59zM90.16 139h11.59v3h-11.59zM90.16 158h11.59v2h-11.59zM90.16 200.46h11.59v1h-11.59zM90.16 249.09h11.59v1h-11.59zM90.16 251.59h11.59v2h-11.59zM112.74 227.8h11.59v3h-11.59zM124.03 97.5h11.59v1h-11.59zM124.03 111.1h11.59v1h-11.59zM124.03 117.1h11.59v2h-11.59zM169.19 123.9h11.59v2h-11.59zM169.19 134.9h11.59v2h-11.59zM169.19 146.9h11.59v1h-11.59zM169.19 149.9h11.59v1h-11.59zM214.35 104.96h11.59v3h-11.59zM293.39 114.7h11.59v1h-11.59zM293.39 116.7h11.59v1.5h-11.59zM304.68 98.8h11.59v3h-11.59zM304.68 105.8h11.59v1h-11.59zM304.68 129.3h11.59v2h-11.59zM304.68 154.8h11.59v2h-11.59zM304.68 180.5h11.59v1.5h-11.59zM304.68 189.5h11.59v2h-11.59z"/>
<path fill="#5a9bcb" d="M67.58 113.8h11.59v1h-11.59zM67.58 117.8h11.59v2h-11.59zM67.58 124.8h11.59v3h-11.59zM67.58 130.3h11.59v1h-11.59zM67.58 134.3h11.59v2h-11.59zM78.87 210.4h11.59v1.5h-11.59zM90.16 111h11.59v2h-11.59zM90.16 182.82h11.59v1h-11.59zM101.45 99.5h11.59v4h-11.59zM101.45 106h11.59v1h-11.59zM101.45 108.5h11.59v2.5h-11.59zM112.74 90h11.59v2h-11.59zM112.74 120h11.59v1h-11.59zM112.74 131.5h11.59v1h-11.59zM124.03 137.6h11.59v0.4h-11.59zM135.32 89h11.59v2h-11.59zM135.32 92.5h11.59v1h-11.59zM135.32 127.6h11.59v1.5h-11.59zM135.32 148.1h11.59v1.6h-11.59zM135.32 172h11.59v3.5h-11.59zM135.32 177.5h11.59v3h-11.59zM135.32 185.5h11.59v1.5h-11.59zM135.32 188h11.59v3h-11.59zM135.32 195.5h11.59v1.5h-11.59zM135.32 201h11.59v3h-11.59zM135.32 208h11.59v2h-11.59zM135.32 215h11.59v1h-11.59zM135.32 219h11.59v3h-11.59zM135.32 229h11.59v6h-11.59zM146.61 172h11.59v3h-11.59zM146.61 177h11.59v1h-11.59zM146.61 201.6h11.59v1.5h-11.59zM157.9 84h11.59v1.5h-11.59zM157.9 90h11.59v1.5h-11.59zM157.9 213.76h11.59v1.5h-11.59zM157.9 222.76h11.59v3h-11.59zM157.9 228.26h11.59v3h-11.59zM169.19 125.9h11.59v2h-11.59zM169.19 147.9h11.59v2h-11.59zM169.19 159.9h11.59v1h-11.59zM169.19 169.49h11.59v1h-11.59zM169.19 172h11.59v4.5h-11.59zM169.19 178.5h11.59v1.5h-11.59zM169.19 182h11.59v4h-11.59zM169.19 187.5h11.59v1h-11.59zM169.19 194.5h11.59v2h-11.59zM169.19 202h11.59v1h-11.59zM169.19 208h11.59v4h-11.59zM180.48 85h11.59v1.5h-11.59zM180.48 88.5h11.59v2.5h-11.59zM180.48 110h11.59v1h-11.59zM180.48 221.6h11.59v1h-11.59zM203.06 93.6h11.59v2h-11.59zM203.06 115.6h11.59v1h-11.59zM214.35 111.96h11.59v1.5h-11.59zM214.35 159.96h11.59v3h-11.59zM225.65 94.8h11.59v1.5h-11.59zM225.65 98.3h11.59v3h-11.59zM225.65 104.3h11.59v4h-11.59zM225.65 111.8h11.59v1.5h-11.59zM225.65 116.3h11.59v2h-11.59zM225.65 125.8h11.59v4.5h-11.59zM225.65 138.3h11.59v1h-11.59zM225.65 147.8h11.59v2.5h-11.59zM225.65 157.3h11.59v4h-11.59zM225.65 163.3h11.59v1h-11.59zM225.65 165.3h11.59v3h-11.59zM236.94 187.3h11.59v1.5h-11.59zM293.39 142.8h11.59v1.5h-11.59zM293.39 176h11.59v1h-11.59zM304.68 96.8h11.59v2h-11.59zM304.68 127.8h11.59v1.5h-11.59zM349.84 86h11.59v2h-11.59zM349.84 90h11.59v9h-11.59zM349.84 104h11.59v5.5h-11.59zM349.84 112.5h11.59v3h-11.59zM349.84 118.5h11.59v3.71h-11.59zM349.84 144.71h11.59v0.91h-11.59zM349.84 174h11.59v1.5h-11.59zM349.84 181h11.59v1.5h-11.59zM349.84 188.5h11.59v1.5h-11.59zM349.84 194h11.59v1h-11.59zM349.84 197h11.59v3.17h-11.59zM361.13 93h11.59v1h-11.59zM361.13 95h11.59v3.5h-11.59z"/>
<path fill="#5799ca" d="M67.58 141h11.59v2h-11.59zM67.58 144h11.59v3h-11.59zM78.87 205.4h11.59v1h-11.59zM90.16 136.5h11.59v1h-11.59zM101.45 113h11.59v1.5h-11.59zM101.45 123.5h11.59v3h-11.59zM101.45 136h11.59v1.5h-11.59zM112.74 158.5h11.59v1.1h-11.59zM112.74 216.9h11.59v1.5h-11.59zM135.32 152.99h11.59v2h-11.59zM146.61 86.7h11.59v1.5h-11.59zM146.61 92.7h11.59v2h-11.59zM146.61 186.4h11.59v1h-11.59zM203.06 177h11.59v1h-11.59zM214.35 131.96h11.59v1.5h-11.59zM225.65 175.9h11.59v2h-11.59zM236.94 179.3h11.59v3h-11.59zM293.39 147.8h11.59v2h-11.59zM293.39 164.3h11.59v3h-11.59zM293.39 169.3h11.59v1h-11.59zM293.39 173h11.59v2h-11.59zM315.97 105.13h11.59v1h-11.59zM349.84 128.21h11.59v1.5h-11.59z"/>
<path fill="#5498c9" d="M67.58 121.3h11.59v3.5h-11.59zM67.58 162h11.59v2.5h-11.59zM67.58 170.5h11.59v1.5h-11.59zM78.87 173.5h11.59v1h-11.59zM78.87 181.5h11.59v1h-11.59zM78.87 189.56h11.59v1h-11.59zM90.16 138h11.59v1h-11.59zM90.16 142h11.59v3h-11.59zM90.16 146h11.59v3h-11.59zM90.16 151h11.59v3h-11.59zM90.16 155h11.59v3h-11.59zM90.16 162h11.59v1h-11.59zM90.16 197.46h11.59v3h-11.59zM90.16 201.46h11.59v1h-11.59zM101.45 90.5h11.59v3h-11.59zM101.45 116.5h11.59v2h-11.59zM112.74 92h11.59v2h-11.59zM112.74 220.8h11.59v1h-11.59zM112.74 230.8h11.59v0.6h-11.59zM124.03 95.5h11.59v2h-11.59zM124.03 98.5h11.59v1.5h-11.59zM124.03 102h11.59v4.5h-11.59zM124.03 110.1h11.59v1h-11.59zM124.03 112.1h11.59v5h-11.59zM135.32 123.6h11.59v3h-11.59zM135.32 133.1h11.59v10.5h-11.59zM135.32 144.6h11.59v2h-11.59zM146.61 189.4h11.59v0.6h-11.59zM157.9 85.5h11.59v3h-11.59zM157.9 219.26h11.59v2h-11.59zM157.9 225.76h11.59v1.5h-11.59zM157.9 231.26h11.59v0.14h-11.59zM169.19 188.5h11.59v2h-11.59zM180.48 229.6h11.59v1.5h-11.59zM203.06 175h11.59v2h-11.59zM214.35 99.96h11.59v3h-11.59zM214.35 109.96h11.59v2h-11.59zM214.35 113.46h11.59v1.5h-11.59zM214.35 128.46h11.59v1h-11.59zM225.65 108.3h11.59v1.5h-11.59zM225.65 192.9h11.59v2.5h-11.59zM236.94 196.8h11.59v1h-11.59zM236.94 199.3h11.59v1.5h-11.59zM304.68 94.8h11.59v2h-11.59zM304.68 104.8h11.59v1h-11.59zM304.68 106.8h11.59v2h-11.59zM304.68 114.3h11.59v1h-11.59zM304.68 122.3h11.59v1h-11.59zM304.68 126.3h11.59v1.5h-11.59zM304.68 131.3h11.59v5h-11.59zM304.68 138.3h11.59v1.5h-11.59zM304.68 148.8h11.59v5h-11.59zM304.68 156.8h11.59v1h-11.59zM304.68 161.8h11.59v1.5h-11.59zM304.68 165.3h11.59v6h-11.59zM349.84 145.62h11.59v2h-11.59zM349.84 148.62h11.59v1h-11.59zM349.84 151.62h11.59v1h-11.59zM349.84 154.12h11.59v9h-11.59zM349.84 166.12h11.59v5h-11.59zM349.84 191h11.59v3h-11.59zM361.13 172h11.59v1h-11.59zM361.13 192h11.59v2h-11.59zM361.13 195.5h11.59v2h-11.59z"/>
<path fill="#5197c9" d="M67.58 116.3h11.59v1.5h-11.59zM67.58 128.8h11.59v1.5h-11.59zM112.74 107h11.59v2h-11.59zM112.74 157.5h11.59v1h-11.59zM112.74 171.69h11.59v0.31h-11.59zM124.03 126.6h11.59v2h-11.59zM135.32 99.5h11.59v2.5h-11.59zM135.32 171.49h11.59v0.51h-11.59zM135.32 175.5h11.59v2h-11.59zM135.32 187h11.59v1h-11.59zM135.32 193.5h11.59v2h-11.59zM135.32 197h11.59v1h-11.59zM146.61 176h11.59v1h-11.59zM146.61 178h11.59v2h-11.59zM146.61 204.1h11.59v3h-11.59zM169.19 176.5h11.59v1h-11.59zM169.19 181h11.59v1h-11.59zM169.19 200h11.59v2h-11.59zM180.48 86.5h11.59v1h-11.59zM180.48 105.5h11.59v3h-11.59zM203.06 133.4h11.59v1h-11.59zM203.06 172h11.59v1.5h-11.59zM203.06 178h11.59v2h-11.59zM225.65 145.8h11.59v2h-11.59zM225.65 154.3h11.59v3h-11.59zM225.65 177.9h11.59v1h-11.59zM293.39 179h11.59v1h-11.59zM293.39 184h11.59v1.5h-11.59zM349.84 89h11.59v1h-11.59zM349.84 115.5h11.59v3h-11.59zM349.84 190h11.59v1h-11.59zM361.13 108.61h11.59v2h-11.59zM361.13 177h11.59v2h-11.59zM361.13 189h11.59v3h-11.59z"/>
<path fill="#4e95c8" d="M78.87 184.06h11.59v2h-11.59zM78.87 188.06h11.59v1.5h-11.59zM78.87 194.56h11.59v1h-11.59zM90.16 154h11.59v1h-11.59zM90.16 168.5h11.59v1.5h-11.59zM101.45 96.5h11.59v3h-11.59zM101.45 105h11.59v1h-11.59zM112.74 98.5h11.59v1h-11.59zM112.74 105.5h11.59v1.5h-11.59zM112.74 112h11.59v1h-11.59zM112.74 136.5h11.59v1.5h-11.59zM112.74 188h11.59v3h-11.59zM135.32 183.5h11.59v2h-11.59zM135.32 204h11.59v1h-11.59zM135.32 211.5h11.59v1.5h-11.59zM135.32 214h11.59v1h-11.59zM135.32 224h11.59v2h-11.59zM157.9 215.26h11.59v3h-11.59zM169.19 196.5h11.59v2h-11.59zM169.19 215h11.59v2h-11.59zM180.48 108.5h11.59v1.5h-11.59zM203.06 92.1h11.59v1.5h-11.59zM203.06 95.6h11.59v2h-11.59zM203.06 106.6h11.59v1h-11.59zM203.06 109.6h11.59v3h-11.59zM203.06 137.9h11.59v1h-11.59zM225.65 133.3h11.59v3h-11.59zM236.94 186.3h11.59v1h-11.59zM293.39 139.8h11.59v3h-11.59zM293.39 149.8h11.59v7h-11.59zM293.39 157.8h11.59v4h-11.59zM293.39 167.3h11.59v2h-11.59zM293.39 170.3h11.59v1h-11.59zM315.97 106.13h11.59v2.52h-11.59zM349.84 129.71h11.59v2h-11.59zM349.84 152.62h11.59v1.5h-11.59zM349.84 172h11.59v2h-11.59zM349.84 177h11.59v1h-11.59zM349.84 183.5h11.59v2h-11.59zM361.13 133.11h11.59v1.5h-11.59z"/>
<path fill="#4b94c7" d="M67.58 137.8h11.59v3.2h-11.59zM67.58 143h11.59v1h-11.59zM67.58 147h11.59v2h-11.59zM67.58 155h11.59v2.5h-11.59zM67.58 164.5h11.59v1h-11.59zM90.16 160h11.59v2h-11.59zM90.16 202.46h11.59v5h-11.59zM101.45 121.5h11.59v2h-11.59zM101.45 132.5h11.59v1.5h-11.59zM101.45 137.5h11.59v2h-11.59zM101.45 141.5h11.59v0.1h-11.59zM112.74 86h11.59v1h-11.59zM112.74 89h11.59v1h-11.59zM112.74 94h11.59v1.7h-11.59zM112.74 101.5h11.59v2h-11.59zM112.74 117h11.59v1.5h-11.59zM112.74 124h11.59v3h-11.59zM112.74 138h11.59v1h-11.59zM112.74 213.4h11.59v3.5h-11.59zM124.03 85.5h11.59v2h-11.59zM124.03 93.5h11.59v2h-11.59zM124.03 123.6h11.59v3h-11.59zM124.03 128.6h11.59v6h-11.59zM124.03 135.6h11.59v2h-11.59zM135.32 132.1h11.59v1h-11.59zM135.32 154.99h11.59v5h-11.59zM135.32 163.99h11.59v1h-11.59zM135.32 166.99h11.59v1h-11.59zM135.32 169.99h11.59v1.5h-11.59zM135.32 216h11.59v3h-11.59zM135.32 236h11.59v0.79h-11.59zM146.61 193.6h11.59v1h-11.59zM146.61 199.6h11.59v2h-11.59zM157.9 88.5h11.59v1.5h-11.59zM157.9 91.5h11.59v1h-11.59zM157.9 94.5h11.59v2h-11.59zM157.9 97.5h11.59v0.9h-11.59zM169.19 180h11.59v1h-11.59zM169.19 192.5h11.59v2h-11.59zM169.19 203h11.59v2h-11.59zM169.19 214h11.59v1h-11.59zM180.48 97h11.59v1h-11.59zM180.48 104h11.59v1.5h-11.59zM180.48 220.6h11.59v1h-11.59zM180.48 223.6h11.59v2h-11.59zM180.48 231.1h11.59v0.3h-11.59zM203.06 143.9h11.59v1.5h-11.59zM203.06 155.99h11.59v1.5h-11.59zM203.06 169.49h11.59v2.51h-11.59zM293.39 172h11.59v1h-11.59zM293.39 178h11.59v1h-11.59zM293.39 182h11.59v2h-11.59zM293.39 185.5h11.59v4.5h-11.59zM304.68 112.8h11.59v1.5h-11.59zM349.84 163.12h11.59v1h-11.59zM349.84 185.5h11.59v1h-11.59zM361.13 101.5h11.59v0.11h-11.59zM361.13 131.11h11.59v2h-11.59zM361.13 165.58h11.59v2h-11.59zM361.13 174h11.59v3h-11.59zM361.13 183h11.59v2h-11.59zM361.13 199.5h11.59v0.67h-11.59z"/>
<path fill="#4893c6" d="M67.58 136.3h11.59v1.5h-11.59zM90.16 166h11.59v1h-11.59zM90.16 170h11.59v2h-11.59zM112.74 178h11.59v1h-11.59zM124.03 205.04h11.59v1h-11.59zM135.32 93.5h11.59v2h-11.59zM135.32 129.1h11.59v3h-11.59zM180.48 84h11.59v1h-11.59zM180.48 128.1h11.59v2h-11.59zM180.48 133.1h11.59v2h-11.59zM180.48 168.6h11.59v1h-11.59zM180.48 190h11.59v1h-11.59zM180.48 193h11.59v1h-11.59zM203.06 116.6h11.59v2.32h-11.59zM203.06 132.4h11.59v1h-11.59zM203.06 142.9h11.59v1h-11.59zM225.65 170.3h11.59v1.7h-11.59zM293.39 161.8h11.59v1.5h-11.59zM349.84 122.21h11.59v3h-11.59zM361.13 84h11.59v2h-11.59zM361.13 105.61h11.59v2h-11.59zM361.13 112.11h11.59v2h-11.59zM361.13 139.11h11.59v2h-11.59zM361.13 146.61h11.59v2h-11.59z"/>
<path fill="#4592c5" d="M90.16 207.46h11.59v0.9h-11.59zM101.45 88.5h11.59v2h-11.59zM101.45 129.5h11.59v3h-11.59zM112.74 163.19h11.59v1h-11.59zM124.03 87.5h11.59v3h-11.59zM124.03 100h11.59v1h-11.59zM135.32 180.5h11.59v3h-11.59zM146.61 207.1h11.59v0.9h-11.59zM157.9 187h11.59v2h-11.59zM157.9 191h11.59v3h-11.59zM169.19 205h11.59v2h-11.59zM180.48 146.1h11.59v2h-11.59zM225.65 101.3h11.59v2h-11.59zM225.65 118.3h11.59v3h-11.59zM225.65 142.3h11.59v1.5h-11.59zM293.39 146.3h11.59v1.5h-11.59zM304.68 157.8h11.59v2h-11.59zM349.84 134.71h11.59v3h-11.59zM349.84 140.71h11.59v1h-11.59zM349.84 182.5h11.59v1h-11.59zM361.13 90h11.59v1h-11.59zM361.13 104.61h11.59v1h-11.59zM361.13 141.11h11.59v5.5h-11.59zM361.13 151.61h11.59v2h-11.59zM361.13 157.61h11.59v1.22h-11.59zM361.13 170.89h11.59v1.11h-11.59z"/>
<path fill="#4390c5" d="M67.58 150h11.59v1h-11.59zM67.58 157.5h11.59v1.5h-11.59zM90.16 163h11.59v2h-11.59zM90.16 188.02h11.59v1h-11.59zM90.16 191.02h11.59v0.96h-11.59zM101.45 114.5h11.59v1h-11.59zM101.45 126.5h11.59v3h-11.59zM112.74 87h11.59v2h-11.59zM112.74 99.5h11.59v2h-11.59zM112.74 103.5h11.59v2h-11.59zM112.74 113h11.59v4h-11.59zM112.74 118.5h11.59v1.5h-11.59zM112.74 121h11.59v3h-11.59zM112.74 130h11.59v1.5h-11.59zM112.74 132.5h11.59v2h-11.59zM112.74 142h11.59v2h-11.59zM112.74 145.5h11.59v2h-11.59zM112.74 170.19h11.59v1.5h-11.59zM112.74 182h11.59v1h-11.59zM124.03 134.6h11.59v1h-11.59zM124.03 141.06h11.59v2h-11.59zM124.03 146.56h11.59v1.52h-11.59zM135.32 143.6h11.59v1h-11.59zM146.61 147.7h11.59v1h-11.59zM146.61 161.59h11.59v2h-11.59zM157.9 92.5h11.59v2h-11.59zM180.48 152.1h11.59v2h-11.59zM180.48 159.1h11.59v1h-11.59zM180.48 187h11.59v3h-11.59zM203.06 108.6h11.59v1h-11.59zM293.39 144.3h11.59v1h-11.59zM293.39 177h11.59v1h-11.59zM293.39 180h11.59v1h-11.59zM304.68 140.8h11.59v3h-11.59zM304.68 145.8h11.59v3h-11.59zM349.84 125.21h11.59v2h-11.59zM349.84 131.71h11.59v3h-11.59zM349.84 141.71h11.59v3h-11.59zM349.84 147.62h11.59v1h-11.59zM361.13 119.11h11.59v1h-11.59zM361.13 185h11.59v4h-11.59z"/>
<path fill="#418fc4" d="M67.58 159h11.59v3h-11.59zM124.03 90.5h11.59v3h-11.59zM146.61 123.7h11.59v1.5h-11.59zM157.9 96.5h11.59v1h-11.59zM180.48 140.1h11.59v2h-11.59zM180.48 183h11.59v1h-11.59zM180.48 195h11.59v1h-11.59zM180.48 202h11.59v1h-11.59zM180.48 226.6h11.59v3h-11.59zM203.06 98.6h11.59v1.5h-11.59zM203.06 114.6h11.59v1h-11.59zM293.39 163.3h11.59v1h-11.59zM304.68 101.8h11.59v1.5h-11.59zM304.68 108.8h11.59v2h-11.59zM304.68 163.3h11.59v1h-11.59zM361.13 173h11.59v1h-11.59z"/>
<path fill="#3e8ec4" d="M67.58 152h11.59v3h-11.59zM78.87 172h11.59v1.5h-11.59zM78.87 174.5h11.59v2h-11.59zM90.16 178.22h11.59v2.5h-11.59zM90.16 193.96h11.59v1.5h-11.59zM101.45 120.5h11.59v1h-11.59zM101.45 134h11.59v2h-11.59zM112.74 127h11.59v3h-11.59zM112.74 139h11.59v1h-11.59zM112.74 147.5h11.59v1h-11.59zM112.74 151.5h11.59v1.5h-11.59zM112.74 154.5h11.59v1h-11.59zM112.74 172h11.59v1h-11.59zM112.74 174.5h11.59v3.5h-11.59zM112.74 180h11.59v2h-11.59zM112.74 183h11.59v3h-11.59zM112.74 198h11.59v8.2h-11.59zM135.32 167.99h11.59v2h-11.59zM146.61 138.2h11.59v2h-11.59zM180.48 114.5h11.59v2h-11.59zM180.48 158.1h11.59v1h-11.59zM180.48 160.1h11.59v1.5h-11.59zM203.06 100.1h11.59v1h-11.59zM203.06 129.9h11.59v1h-11.59zM203.06 136.9h11.59v1h-11.59zM203.06 138.9h11.59v1h-11.59zM203.06 140.9h11.59v2h-11.59zM203.06 146.9h11.59v5.5h-11.59zM203.06 157.49h11.59v8h-11.59zM203.06 168.49h11.59v1h-11.59zM304.68 121.3h11.59v1h-11.59zM361.13 101.61h11.59v3h-11.59zM361.13 110.61h11.59v1.5h-11.59zM361.13 114.11h11.59v5h-11.59zM361.13 120.11h11.59v6h-11.59zM361.13 128.11h11.59v3h-11.59zM361.13 134.61h11.59v4.5h-11.59zM361.13 154.61h11.59v3h-11.59zM361.13 160.58h11.59v5h-11.59zM361.13 169.39h11.59v1.5h-11.59zM361.13 194h11.59v1.5h-11.59z"/>
<path fill="#3c8dc4" d="M112.74 84h11.59v2h-11.59zM112.74 97.5h11.59v1h-11.59zM112.74 155.5h11.59v2h-11.59zM124.03 144.56h11.59v2h-11.59zM146.61 125.2h11.59v2h-11.59zM146.61 135.2h11.59v3h-11.59zM293.39 181h11.59v1h-11.59zM361.13 197.5h11.59v2h-11.59z"/>
<path fill="#3a8cc3" d="M67.58 149h11.59v1h-11.59zM90.16 195.46h11.59v2h-11.59zM101.45 111h11.59v2h-11.59zM101.45 139.5h11.59v2h-11.59zM101.45 204.76h11.59v3h-11.59zM112.74 134.5h11.59v2h-11.59zM112.74 140h11.59v2h-11.59zM112.74 148.5h11.59v3h-11.59zM112.74 153h11.59v1.5h-11.59zM112.74 191h11.59v6h-11.59zM112.74 218.4h11.59v0.4h-11.59zM124.03 206.04h11.59v1h-11.59zM135.32 151.49h11.59v1.5h-11.59zM135.32 159.99h11.59v1h-11.59zM135.32 164.99h11.59v2h-11.59zM146.61 113.2h11.59v2h-11.59zM146.61 118.7h11.59v1.5h-11.59zM157.9 184h11.59v3h-11.59zM157.9 189h11.59v2h-11.59zM157.9 194h11.59v3h-11.59zM157.9 198.5h11.59v1.5h-11.59zM157.9 201.5h11.59v4.5h-11.59zM169.19 167.69h11.59v1.8h-11.59zM180.48 111h11.59v2h-11.59zM180.48 120h11.59v1h-11.59zM180.48 122h11.59v2h-11.59zM180.48 130.1h11.59v3h-11.59zM180.48 137.1h11.59v2h-11.59zM180.48 144.1h11.59v2h-11.59zM180.48 151.1h11.59v1h-11.59zM180.48 154.1h11.59v4h-11.59zM180.48 169.6h11.59v1h-11.59zM180.48 172h11.59v2h-11.59zM180.48 177h11.59v6h-11.59zM180.48 186h11.59v1h-11.59zM180.48 196h11.59v6h-11.59zM180.48 205h11.59v3h-11.59zM180.48 212.5h11.59v2h-11.59zM180.48 225.6h11.59v1h-11.59zM293.39 175h11.59v1h-11.59zM361.13 107.61h11.59v1h-11.59zM361.13 167.58h11.59v0.04h-11.59z"/>
<path fill="#388bc3" d="M90.16 189.02h11.59v2h-11.59zM112.74 164.19h11.59v3h-11.59zM112.74 197h11.59v1h-11.59zM157.9 110.9h11.59v2h-11.59zM203.06 139.9h11.59v1h-11.59z"/>
<path fill="#358ac2" d="M90.16 177.22h11.59v1h-11.59zM101.45 164.69h11.59v1.2h-11.59zM112.74 109h11.59v3h-11.59zM112.74 144h11.59v1.5h-11.59zM112.74 173h11.59v1.5h-11.59zM112.74 179h11.59v1h-11.59zM124.03 143.06h11.59v1.5h-11.59zM157.9 115.9h11.59v1h-11.59zM157.9 123.9h11.59v3h-11.59zM180.48 210h11.59v2.5h-11.59zM203.06 135.9h11.59v1h-11.59zM203.06 166.49h11.59v2h-11.59zM361.13 148.61h11.59v3h-11.59z"/>
<path fill="#3389c2" d="M124.03 207.04h11.59v2h-11.59zM146.61 110.2h11.59v3h-11.59zM146.61 115.2h11.59v3.5h-11.59zM146.61 121.2h11.59v1.5h-11.59zM146.61 127.2h11.59v2h-11.59zM146.61 131.2h11.59v4h-11.59zM146.61 145.7h11.59v2h-11.59zM146.61 148.7h11.59v3.7h-11.59zM146.61 163.59h11.59v2h-11.59zM146.61 171.59h11.59v0.41h-11.59zM157.9 197h11.59v1.5h-11.59zM180.48 116.5h11.59v2h-11.59zM180.48 121h11.59v1h-11.59zM180.48 139.1h11.59v1h-11.59zM180.48 148.1h11.59v1h-11.59zM180.48 161.6h11.59v3h-11.59zM180.48 191h11.59v2h-11.59zM180.48 220.5h11.59v0.1h-11.59zM203.06 165.49h11.59v1h-11.59zM361.13 153.61h11.59v1h-11.59z"/>
<path fill="#3188c2" d="M101.45 199.56h11.59v0.52h-11.59zM112.74 186h11.59v2h-11.59zM124.03 204.04h11.59v1h-11.59zM124.03 209.04h11.59v2h-11.59zM157.9 170.59h11.59v1.41h-11.59zM157.9 179.3h11.59v1.7h-11.59zM157.9 200h11.59v1.5h-11.59zM157.9 206h11.59v1.1h-11.59zM180.48 113h11.59v1.5h-11.59zM180.48 124h11.59v1.5h-11.59zM180.48 184h11.59v1h-11.59zM203.06 152.39h11.59v2h-11.59z"/>
<path fill="#2f87c1" d="M90.16 180.72h11.59v0.1h-11.59zM101.45 197.56h11.59v2h-11.59zM101.45 207.76h11.59v0.6h-11.59zM112.74 167.19h11.59v3h-11.59zM146.61 122.7h11.59v1h-11.59zM157.9 106.9h11.59v2h-11.59zM157.9 181h11.59v3h-11.59zM180.48 118.5h11.59v1.5h-11.59zM180.48 125.5h11.59v0.8h-11.59zM180.48 166.1h11.59v1.5h-11.59zM180.48 170.6h11.59v1.4h-11.59zM180.48 185h11.59v1h-11.59zM203.06 130.9h11.59v1.5h-11.59zM203.06 134.4h11.59v1.5h-11.59zM203.06 145.4h11.59v1.5h-11.59zM361.13 126.11h11.59v2h-11.59z"/>
<path fill="#2c86c1" d="M101.45 163.19h11.59v1.5h-11.59zM146.61 109.2h11.59v1h-11.59zM146.61 143.2h11.59v1h-11.59zM146.61 157.89h11.59v1h-11.59zM146.61 166.59h11.59v1h-11.59zM146.61 170.59h11.59v1h-11.59zM157.9 104.9h11.59v2h-11.59zM157.9 120.9h11.59v3h-11.59zM157.9 164.59h11.59v2h-11.59zM180.48 135.1h11.59v2h-11.59zM180.48 142.1h11.59v2h-11.59zM180.48 164.6h11.59v1.5h-11.59zM180.48 174h11.59v1.5h-11.59z"/>
<path fill="#2a85c0" d="M146.61 140.2h11.59v3h-11.59zM146.61 159.59h11.59v2h-11.59zM146.61 165.59h11.59v1h-11.59zM146.61 167.59h11.59v3h-11.59z"/>
<path fill="#2884c0" d="M124.03 211.04h11.59v0.02h-11.59zM146.61 129.2h11.59v2h-11.59zM146.61 154.89h11.59v1h-11.59zM157.9 103.4h11.59v1.5h-11.59zM157.9 108.9h11.59v2h-11.59zM157.9 112.9h11.59v3h-11.59zM157.9 116.9h11.59v1h-11.59zM157.9 128.4h11.59v9.6h-11.59zM157.9 162.59h11.59v1h-11.59zM157.9 166.59h11.59v2h-11.59zM180.48 149.1h11.59v2h-11.59zM180.48 167.6h11.59v1h-11.59zM180.48 175.5h11.59v1.5h-11.59zM180.48 194h11.59v1h-11.59zM180.48 203h11.59v2h-11.59zM180.48 208h11.59v2h-11.59zM180.48 217.5h11.59v1h-11.59z"/>
<path fill="#2781be" d="M146.61 120.2h11.59v1h-11.59zM180.48 214.5h11.59v2h-11.59zM180.48 218.5h11.59v2h-11.59z"/>
<path fill="#267ebd" d="M124.03 188.02h11.59v1.98h-11.59zM135.32 149.69h11.59v1.8h-11.59zM146.61 144.2h11.59v1.5h-11.59zM146.61 152.39h11.59v2.5h-11.59zM146.61 155.89h11.59v2h-11.59zM146.61 158.89h11.59v0.7h-11.59zM157.9 177.8h11.59v1.5h-11.59z"/>
<path fill="#257bbb" d="M157.9 98.4h11.59v3h-11.59zM157.9 146h11.59v1h-11.59zM157.9 168.59h11.59v2h-11.59zM180.48 216.5h11.59v1h-11.59z"/>
<path fill="#2478ba" d="M157.9 117.9h11.59v3h-11.59zM157.9 126.9h11.59v1.5h-11.59zM157.9 141h11.59v2h-11.59zM157.9 156h11.59v2h-11.59z"/>
<path fill="#2376b8" d="M124.03 200.98h11.59v3h-11.59zM157.9 101.4h11.59v2h-11.59zM157.9 163.59h11.59v1h-11.59zM361.13 167.63h11.59v1.76h-11.59z"/>
<path fill="#2273b6" d="M101.45 148.79h11.59v3h-11.59z"/>
<path fill="#2170b5" d="M101.45 151.79h11.59v0.6h-11.59zM157.9 143h11.59v3h-11.59zM157.9 147h11.59v1h-11.59zM157.9 151h11.59v4h-11.59zM157.9 158h11.59v4.6h-11.59zM157.9 174.8h11.59v3h-11.59z"/>
<path fill="#206db3" d="M203.06 154.39h11.59v1.6h-11.59z"/>
<path fill="#1f6ab2" d="M90.16 187.38h11.59v0.64h-11.59zM101.45 185.68h11.59v2h-11.59zM157.9 140h11.59v1h-11.59zM157.9 155h11.59v1h-11.59zM157.9 173.8h11.59v1h-11.59z"/>
<path fill="#1e67b0" d="M101.45 204.08h11.59v0.68h-11.59zM124.03 203.98h11.59v0.06h-11.59z"/>
<path fill="#1c61ad" d="M90.16 175.42h11.59v1.8h-11.59zM90.16 183.88h11.59v1h-11.59zM101.45 203.08h11.59v1h-11.59zM112.74 161.09h11.59v2.1h-11.59zM124.03 175.96h11.59v1.98h-11.59zM157.9 138h11.59v2h-11.59zM180.48 126.3h11.59v1.8h-11.59zM361.13 158.82h11.59v1.76h-11.59z"/>
<path fill="#1a5aab" d="M90.16 185.88h11.59v1.5h-11.59zM101.45 200.08h11.59v3h-11.59zM157.9 148h11.59v3h-11.59z"/>
<path fill="#1956aa" d="M101.45 187.68h11.59v2.68h-11.59z"/>
<path fill="#1853a9" d="M101.45 182.08h11.59v1.8h-11.59zM112.74 159.59h11.59v1.5h-11.59zM124.03 163.91h11.59v2.16h-11.59zM124.03 190h11.59v1h-11.59z"/>
<path fill="#164ba7" d="M90.16 184.88h11.59v1h-11.59zM101.45 193.36h11.59v1.5h-11.59z"/>
<path fill="#1547a6" d="M101.45 172h11.59v1.08h-11.59z"/>
<path fill="#123fa4" d="M101.45 141.6h11.59v1.5h-11.59zM101.45 156.39h11.59v1h-11.59zM124.03 108.3h11.59v1.8h-11.59zM124.03 197h11.59v2h-11.59z"/>
<path fill="#113ca3" d="M101.45 143.1h11.59v2h-11.59z"/>
<path fill="#1038a2" d="M101.45 190.36h11.59v1h-11.59zM124.03 191h11.59v3h-11.59zM124.03 196h11.59v1h-11.59z"/>
<path fill="#0f34a1" d="M101.45 157.39h11.59v1.5h-11.59z"/>
<path fill="#0e30a0" d="M101.45 194.86h11.59v2.7h-11.59zM124.03 167.07h11.59v3h-11.59z"/>
<path fill="#0c2b9f" d="M101.45 146.1h11.59v1.5h-11.59zM101.45 178.76h11.59v2h-11.59zM124.03 156.07h11.59v1.5h-11.59z"/>
<path fill="#0a269d" d="M101.45 165.89h11.59v1h-11.59zM101.45 191.36h11.59v2h-11.59zM124.03 166.07h11.59v1h-11.59z"/>
<path fill="#08219c" d="M101.45 145.1h11.59v1h-11.59zM101.45 153.39h11.59v3h-11.59zM101.45 159.89h11.59v3h-11.59zM101.45 173.08h11.59v1.8h-11.59zM124.03 200h11.59v0.98h-11.59z"/>
<path fill="#061b9a" d="M101.45 168.39h11.59v1.5h-11.59zM101.45 170.89h11.59v1.11h-11.59zM124.03 151.57h11.59v1h-11.59zM124.03 175h11.59v0.96h-11.59zM124.03 177.94h11.59v1h-11.59z"/>
<path fill="#041699" d="M101.45 158.89h11.59v1h-11.59zM124.03 158.57h11.59v1h-11.59zM124.03 194h11.59v2h-11.59zM124.03 199h11.59v1h-11.59z"/>
<path fill="#021197" d="M101.45 147.6h11.59v1.2h-11.59zM101.45 152.39h11.59v1h-11.59z"/>
<path fill="#000c96" d="M67.58 180.1h11.59v1.8h-11.59zM101.45 162.89h11.59v0.3h-11.59zM101.45 166.89h11.59v1.5h-11.59zM101.45 169.89h11.59v1h-11.59zM101.45 177.76h11.59v1h-11.59zM101.45 180.76h11.59v1.32h-11.59zM124.03 148.07h11.59v3.5h-11.59zM124.03 152.57h11.59v3.5h-11.59zM124.03 157.57h11.59v1h-11.59zM124.03 159.57h11.59v4.34h-11.59zM124.03 170.07h11.59v4.93h-11.59zM124.03 178.94h11.59v9.08h-11.59z"/>
</g>
<g stroke="#8a8a8a" stroke-width="1" stroke-dasharray="1 3.29" stroke-opacity="0.65">
<line x1="48.7" y1="404.5" x2="395.0" y2="404.5"/>
<line x1="48.7" y1="377.2" x2="395.0" y2="377.2"/>
<line x1="48.7" y1="347.4" x2="395.0" y2="347.4"/>
<line x1="48.7" y1="318.4" x2="395.0" y2="318.4"/>
<line x1="48.7" y1="288.4" x2="395.0" y2="288.4"/>
<line x1="48.7" y1="259.4" x2="395.0" y2="259.4"/>
<line x1="48.7" y1="230.4" x2="395.0" y2="230.4"/>
<line x1="48.7" y1="200.4" x2="395.0" y2="200.4"/>
<line x1="48.7" y1="171.4" x2="395.0" y2="171.4"/>
<line x1="48.7" y1="141.4" x2="395.0" y2="141.4"/>
<line x1="48.7" y1="112.5" x2="395.0" y2="112.5"/>
</g>
<rect x="44.5" y="83.6" width="350.9" height="350.5" fill="none" stroke="#000" stroke-width="1.2"/>
<g stroke="#000" stroke-width="1.2">
<line x1="38.3" y1="434.0" x2="44.5" y2="434.0"/>
<line x1="38.3" y1="404.5" x2="44.5" y2="404.5"/>
<line x1="38.3" y1="377.2" x2="44.5" y2="377.2"/>
<line x1="38.3" y1="347.4" x2="44.5" y2="347.4"/>
<line x1="38.3" y1="318.4" x2="44.5" y2="318.4"/>
<line x1="38.3" y1="288.4" x2="44.5" y2="288.4"/>
<line x1="38.3" y1="259.4" x2="44.5" y2="259.4"/>
<line x1="38.3" y1="230.4" x2="44.5" y2="230.4"/>
<line x1="38.3" y1="200.4" x2="44.5" y2="200.4"/>
<line x1="38.3" y1="171.4" x2="44.5" y2="171.4"/>
<line x1="38.3" y1="141.4" x2="44.5" y2="141.4"/>
<line x1="38.3" y1="112.5" x2="44.5" y2="112.5"/>
<line x1="49.65" y1="434" x2="49.65" y2="440"/>
<line x1="60.94" y1="434" x2="60.94" y2="440"/>
<line x1="72.23" y1="434" x2="72.23" y2="440"/>
<line x1="83.52" y1="434" x2="83.52" y2="440"/>
<line x1="94.81" y1="434" x2="94.81" y2="440"/>
<line x1="106.10" y1="434" x2="106.10" y2="440"/>
<line x1="117.39" y1="434" x2="117.39" y2="440"/>
<line x1="128.68" y1="434" x2="128.68" y2="440"/>
<line x1="139.97" y1="434" x2="139.97" y2="440"/>
<line x1="151.26" y1="434" x2="151.26" y2="440"/>
<line x1="162.55" y1="434" x2="162.55" y2="440"/>
<line x1="173.84" y1="434" x2="173.84" y2="440"/>
<line x1="185.13" y1="434" x2="185.13" y2="440"/>
<line x1="196.42" y1="434" x2="196.42" y2="440"/>
<line x1="207.71" y1="434" x2="207.71" y2="440"/>
<line x1="219.00" y1="434" x2="219.00" y2="440"/>
<line x1="230.29" y1="434" x2="230.29" y2="440"/>
<line x1="241.58" y1="434" x2="241.58" y2="440"/>
<line x1="252.87" y1="434" x2="252.87" y2="440"/>
<line x1="264.16" y1="434" x2="264.16" y2="440"/>
<line x1="275.45" y1="434" x2="275.45" y2="440"/>
<line x1="286.74" y1="434" x2="286.74" y2="440"/>
<line x1="298.03" y1="434" x2="298.03" y2="440"/>
<line x1="309.32" y1="434" x2="309.32" y2="440"/>
<line x1="320.61" y1="434" x2="320.61" y2="440"/>
<line x1="331.90" y1="434" x2="331.90" y2="440"/>
<line x1="343.19" y1="434" x2="343.19" y2="440"/>
<line x1="354.48" y1="434" x2="354.48" y2="440"/>
<line x1="365.77" y1="434" x2="365.77" y2="440"/>
<line x1="377.06" y1="434" x2="377.06" y2="440"/>
<line x1="388.35" y1="434" x2="388.35" y2="440"/>
</g>
<g font-size="11" fill="#000" text-anchor="end">
<text x="31.5" y="439.1">Oct</text>
<text x="31.5" y="409.5">Nov</text>
<text x="31.5" y="382.1">Dec</text>
<text x="31.5" y="352.2">Jan</text>
<text x="31.5" y="323.0">Feb</text>
<text x="31.5" y="292.9">Mar</text>
<text x="31.5" y="263.8">Apr</text>
<text x="31.5" y="234.7">May</text>
<text x="31.5" y="204.6">Jun</text>
<text x="31.5" y="175.4">Jul</text>
<text x="31.5" y="145.3">Aug</text>
<text x="31.5" y="116.3">Sep</text>
</g>
<g font-size="11.5" fill="#000" text-anchor="end">
<text transform="translate(49.65,448) rotate(-90)" x="0" y="4" textLength="26.5" lengthAdjust="spacingAndGlyphs">1996</text>
<text transform="translate(60.94,448) rotate(-90)" x="0" y="4" textLength="26.5" lengthAdjust="spacingAndGlyphs">1997</text>
<text transform="translate(72.23,448) rotate(-90)" x="0" y="4" textLength="26.5" lengthAdjust="spacingAndGlyphs">1998</text>
<text transform="translate(83.52,448) rotate(-90)" x="0" y="4" textLength="26.5" lengthAdjust="spacingAndGlyphs">1999</text>
<text transform="translate(94.81,448) rotate(-90)" x="0" y="4" textLength="26.5" lengthAdjust="spacingAndGlyphs">2000</text>
<text transform="translate(106.10,448) rotate(-90)" x="0" y="4" textLength="26.5" lengthAdjust="spacingAndGlyphs">2001</text>
<text transform="translate(117.39,448) rotate(-90)" x="0" y="4" textLength="26.5" lengthAdjust="spacingAndGlyphs">2002</text>
<text transform="translate(128.68,448) rotate(-90)" x="0" y="4" textLength="26.5" lengthAdjust="spacingAndGlyphs">2003</text>
<text transform="translate(139.97,448) rotate(-90)" x="0" y="4" textLength="26.5" lengthAdjust="spacingAndGlyphs">2004</text>
<text transform="translate(151.26,448) rotate(-90)" x="0" y="4" textLength="26.5" lengthAdjust="spacingAndGlyphs">2005</text>
<text transform="translate(162.55,448) rotate(-90)" x="0" y="4" textLength="26.5" lengthAdjust="spacingAndGlyphs">2006</text>
<text transform="translate(173.84,448) rotate(-90)" x="0" y="4" textLength="26.5" lengthAdjust="spacingAndGlyphs">2007</text>
<text transform="translate(185.13,448) rotate(-90)" x="0" y="4" textLength="26.5" lengthAdjust="spacingAndGlyphs">2008</text>
<text transform="translate(196.42,448) rotate(-90)" x="0" y="4" textLength="26.5" lengthAdjust="spacingAndGlyphs">2009</text>
<text transform="translate(207.71,448) rotate(-90)" x="0" y="4" textLength="26.5" lengthAdjust="spacingAndGlyphs">2010</text>
<text transform="translate(219.00,448) rotate(-90)" x="0" y="4" textLength="26.5" lengthAdjust="spacingAndGlyphs">2011</text>
<text transform="translate(230.29,448) rotate(-90)" x="0" y="4" textLength="26.5" lengthAdjust="spacingAndGlyphs">2012</text>
<text transform="translate(241.58,448) rotate(-90)" x="0" y="4" textLength="26.5" lengthAdjust="spacingAndGlyphs">2013</text>
<text transform="translate(252.87,448) rotate(-90)" x="0" y="4" textLength="26.5" lengthAdjust="spacingAndGlyphs">2014</text>
<text transform="translate(264.16,448) rotate(-90)" x="0" y="4" textLength="26.5" lengthAdjust="spacingAndGlyphs">2015</text>
<text transform="translate(275.45,448) rotate(-90)" x="0" y="4" textLength="26.5" lengthAdjust="spacingAndGlyphs">2016</text>
<text transform="translate(286.74,448) rotate(-90)" x="0" y="4" textLength="26.5" lengthAdjust="spacingAndGlyphs">2017</text>
<text transform="translate(298.03,448) rotate(-90)" x="0" y="4" textLength="26.5" lengthAdjust="spacingAndGlyphs">2018</text>
<text transform="translate(309.32,448) rotate(-90)" x="0" y="4" textLength="26.5" lengthAdjust="spacingAndGlyphs">2019</text>
<text transform="translate(320.61,448) rotate(-90)" x="0" y="4" textLength="26.5" lengthAdjust="spacingAndGlyphs">2020</text>
<text transform="translate(331.90,448) rotate(-90)" x="0" y="4" textLength="26.5" lengthAdjust="spacingAndGlyphs">2021</text>
<text transform="translate(343.19,448) rotate(-90)" x="0" y="4" textLength="26.5" lengthAdjust="spacingAndGlyphs">2022</text>
<text transform="translate(354.48,448) rotate(-90)" x="0" y="4" textLength="26.5" lengthAdjust="spacingAndGlyphs">2023</text>
<text transform="translate(365.77,448) rotate(-90)" x="0" y="4" textLength="26.5" lengthAdjust="spacingAndGlyphs">2024</text>
<text transform="translate(377.06,448) rotate(-90)" x="0" y="4" textLength="26.5" lengthAdjust="spacingAndGlyphs">2025</text>
<text transform="translate(388.35,448) rotate(-90)" x="0" y="4" textLength="26.5" lengthAdjust="spacingAndGlyphs">2026</text>
</g>
<defs><linearGradient id="cb" x1="0" y1="1" x2="0" y2="0">
<stop offset="0.0000" stop-color="#c84c02"/>
<stop offset="0.0110" stop-color="#cc5406"/>
<stop offset="0.0220" stop-color="#d05b09"/>
<stop offset="0.0330" stop-color="#d4630d"/>
<stop offset="0.0440" stop-color="#d96b10"/>
<stop offset="0.0549" stop-color="#dd7214"/>
<stop offset="0.0659" stop-color="#e17a17"/>
<stop offset="0.0769" stop-color="#e4811b"/>
<stop offset="0.0879" stop-color="#e78820"/>
<stop offset="0.0989" stop-color="#ea8e24"/>
<stop offset="0.1099" stop-color="#ed9529"/>
<stop offset="0.1209" stop-color="#f09c2d"/>
<stop offset="0.1319" stop-color="#f3a332"/>
<stop offset="0.1429" stop-color="#f5a836"/>
<stop offset="0.1538" stop-color="#f6ad3b"/>
<stop offset="0.1648" stop-color="#f8b140"/>
<stop offset="0.1758" stop-color="#f9b645"/>
<stop offset="0.1868" stop-color="#faba4a"/>
<stop offset="0.1978" stop-color="#fcbf4e"/>
<stop offset="0.2088" stop-color="#fdc353"/>
<stop offset="0.2198" stop-color="#fdc558"/>
<stop offset="0.2308" stop-color="#fdc75d"/>
<stop offset="0.2418" stop-color="#fdc962"/>
<stop offset="0.2527" stop-color="#fdcb66"/>
<stop offset="0.2637" stop-color="#fdcd6b"/>
<stop offset="0.2747" stop-color="#fdcf70"/>
<stop offset="0.2857" stop-color="#fcd076"/>
<stop offset="0.2967" stop-color="#fcd27c"/>
<stop offset="0.3077" stop-color="#fbd382"/>
<stop offset="0.3187" stop-color="#fad488"/>
<stop offset="0.3297" stop-color="#fad58e"/>
<stop offset="0.3407" stop-color="#f9d794"/>
<stop offset="0.3516" stop-color="#f7d79a"/>
<stop offset="0.3626" stop-color="#f4d79f"/>
<stop offset="0.3736" stop-color="#f1d7a4"/>
<stop offset="0.3846" stop-color="#eed6a9"/>
<stop offset="0.3956" stop-color="#ebd6ae"/>
<stop offset="0.4066" stop-color="#e8d6b3"/>
<stop offset="0.4176" stop-color="#e4d5b8"/>
<stop offset="0.4286" stop-color="#dfd4bd"/>
<stop offset="0.4396" stop-color="#dad2c2"/>
<stop offset="0.4505" stop-color="#d5d0c7"/>
<stop offset="0.4615" stop-color="#d0cfcc"/>
<stop offset="0.4725" stop-color="#cccdcf"/>
<stop offset="0.4835" stop-color="#c8ccd1"/>
<stop offset="0.4945" stop-color="#c4cad3"/>
<stop offset="0.5055" stop-color="#c0c8d5"/>
<stop offset="0.5165" stop-color="#bcc7d8"/>
<stop offset="0.5275" stop-color="#b8c5da"/>
<stop offset="0.5385" stop-color="#b4c4dc"/>
<stop offset="0.5495" stop-color="#b0c2de"/>
<stop offset="0.5604" stop-color="#aabfdd"/>
<stop offset="0.5714" stop-color="#a4bddc"/>
<stop offset="0.5824" stop-color="#9fbadb"/>
<stop offset="0.5934" stop-color="#99b8da"/>
<stop offset="0.6044" stop-color="#93b5d9"/>
<stop offset="0.6154" stop-color="#8db3d8"/>
<stop offset="0.6264" stop-color="#88b0d7"/>
<stop offset="0.6374" stop-color="#82add5"/>
<stop offset="0.6484" stop-color="#7cabd4"/>
<stop offset="0.6593" stop-color="#76a8d3"/>
<stop offset="0.6703" stop-color="#71a5d1"/>
<stop offset="0.6813" stop-color="#6ba2d0"/>
<stop offset="0.6923" stop-color="#65a0ce"/>
<stop offset="0.7033" stop-color="#5f9dcd"/>
<stop offset="0.7143" stop-color="#5a9bcb"/>
<stop offset="0.7253" stop-color="#5498c9"/>
<stop offset="0.7363" stop-color="#4e95c8"/>
<stop offset="0.7473" stop-color="#4893c6"/>
<stop offset="0.7582" stop-color="#4390c5"/>
<stop offset="0.7692" stop-color="#3e8ec4"/>
<stop offset="0.7802" stop-color="#3a8cc3"/>
<stop offset="0.7912" stop-color="#358ac2"/>
<stop offset="0.8022" stop-color="#3188c2"/>
<stop offset="0.8132" stop-color="#2c86c1"/>
<stop offset="0.8242" stop-color="#2884c0"/>
<stop offset="0.8352" stop-color="#267ebd"/>
<stop offset="0.8462" stop-color="#2478ba"/>
<stop offset="0.8571" stop-color="#2273b6"/>
<stop offset="0.8681" stop-color="#206db3"/>
<stop offset="0.8791" stop-color="#1e67b0"/>
<stop offset="0.8901" stop-color="#1c61ad"/>
<stop offset="0.9011" stop-color="#1a5aab"/>
<stop offset="0.9121" stop-color="#1853a9"/>
<stop offset="0.9231" stop-color="#164ba7"/>
<stop offset="0.9341" stop-color="#1443a5"/>
<stop offset="0.9451" stop-color="#113ca3"/>
<stop offset="0.9560" stop-color="#0f34a1"/>
<stop offset="0.9670" stop-color="#0c2b9f"/>
<stop offset="0.9780" stop-color="#08219c"/>
<stop offset="0.9890" stop-color="#041699"/>
<stop offset="1.0000" stop-color="#000c96"/>
</linearGradient></defs>
<rect x="403.6" y="83.6" width="18" height="350.5" fill="url(#cb)" stroke="#000" stroke-width="1.2"/>
<g stroke="#000" stroke-width="1.2">
<line x1="421.6" y1="434.0" x2="427.3" y2="434.0"/>
<line x1="421.6" y1="385.9" x2="427.3" y2="385.9"/>
<line x1="421.6" y1="337.8" x2="427.3" y2="337.8"/>
<line x1="421.6" y1="289.8" x2="427.3" y2="289.8"/>
<line x1="421.6" y1="241.7" x2="427.3" y2="241.7"/>
<line x1="421.6" y1="193.6" x2="427.3" y2="193.6"/>
<line x1="421.6" y1="145.5" x2="427.3" y2="145.5"/>
<line x1="421.6" y1="97.5" x2="427.3" y2="97.5"/>
<line x1="421.6" y1="84.0" x2="427.3" y2="84.0"/>
</g>
<g font-size="11.5" fill="#000">
<text x="437.7" y="438.0">0</text>
<text x="437.7" y="389.9">50</text>
<text x="437.7" y="341.8">100</text>
<text x="437.7" y="293.8">150</text>
<text x="437.7" y="245.7">200</text>
<text x="437.7" y="197.6">250</text>
<text x="437.7" y="149.5">300</text>
<text x="437.7" y="101.5">350</text>
<text x="437.7" y="87.4" textLength="55" lengthAdjust="spacingAndGlyphs">&gt; 364.000</text>
</g>
<g font-size="12.5" fill="#2f4f4f">
<text x="5.3" y="489.4" textLength="208.3" lengthAdjust="spacingAndGlyphs">www.cbr.washington.edu/sacramento/</text>
<text x="494.5" y="489.4" text-anchor="end" textLength="144" lengthAdjust="spacingAndGlyphs">23 Nov 2025 15:45:06 PST</text>
</g>
</svg></body></html>
